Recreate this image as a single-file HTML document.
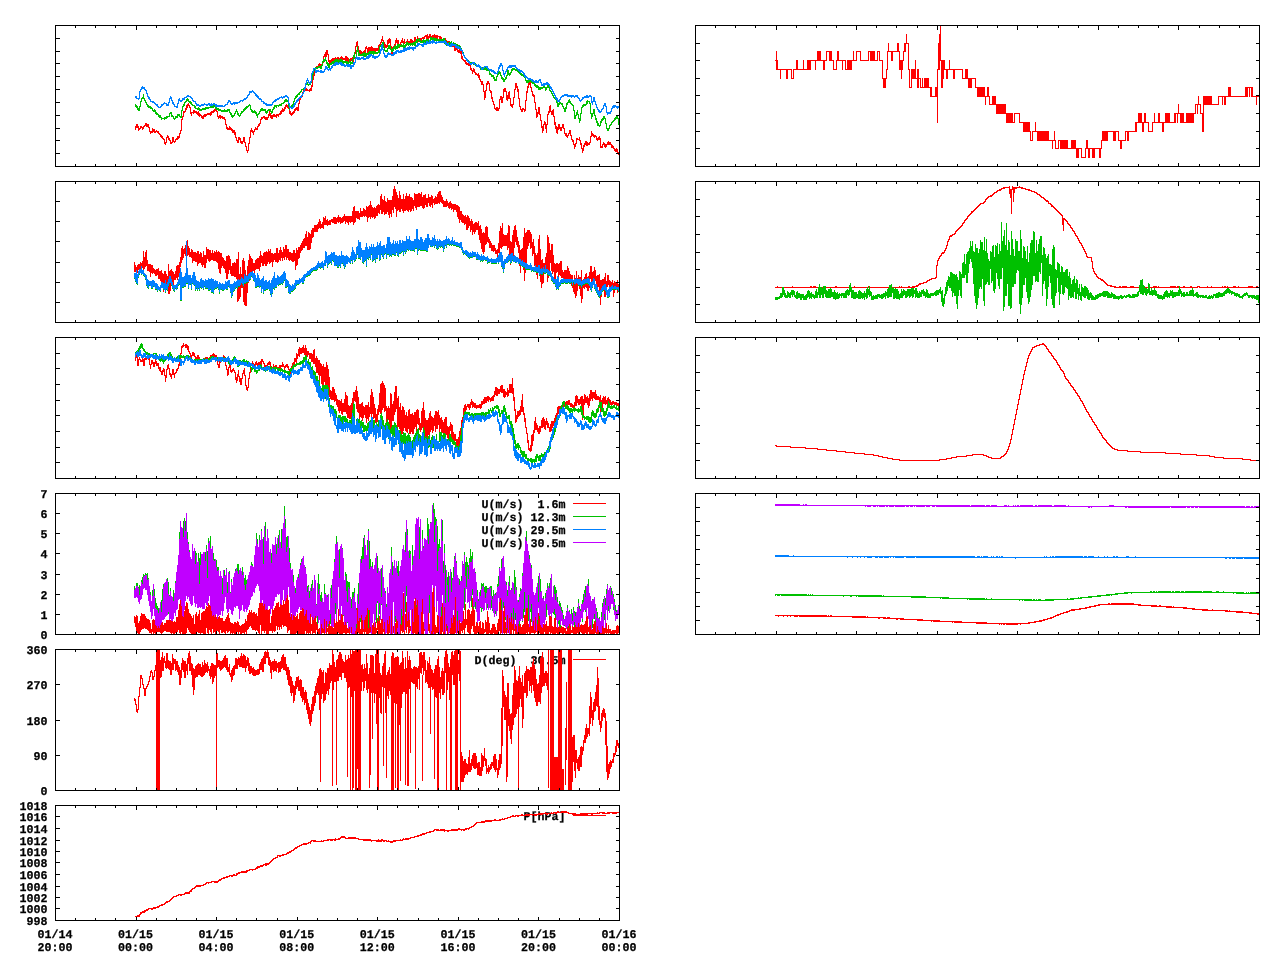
<!DOCTYPE html>
<html lang="en"><head><meta charset="utf-8"><title>Meteorological time series</title>
<style>html,body{margin:0;padding:0;background:#fff;}body{width:1280px;height:960px;overflow:hidden;}svg{display:block;}text{font-family:"Liberation Mono","DejaVu Sans Mono",monospace;font-weight:bold;font-size:11.8px;fill:#000;stroke:#000;stroke-width:0.25px;text-rendering:geometricPrecision;white-space:pre;}</style></head><body>
<svg width="1280" height="960" viewBox="0 0 1280 960" role="img" aria-label="Meteorological time series, ten stacked panels">
<rect width="1280" height="960" fill="#fff"/>
<text x="565.5" y="507.9" text-anchor="end" textLength="84.0" lengthAdjust="spacingAndGlyphs" xml:space="preserve">U(m/s)  1.6m</text>
<path d="M573 503.5H606" stroke="#ff0000" stroke-width="1" fill="none" shape-rendering="crispEdges"/>
<text x="565.5" y="520.9" text-anchor="end" textLength="84.0" lengthAdjust="spacingAndGlyphs" xml:space="preserve">U(m/s) 12.3m</text>
<path d="M573 516.5H606" stroke="#00c000" stroke-width="1" fill="none" shape-rendering="crispEdges"/>
<text x="565.5" y="533.9" text-anchor="end" textLength="84.0" lengthAdjust="spacingAndGlyphs" xml:space="preserve">U(m/s) 29.5m</text>
<path d="M573 529.5H606" stroke="#0080ff" stroke-width="1" fill="none" shape-rendering="crispEdges"/>
<text x="565.5" y="546.9" text-anchor="end" textLength="84.0" lengthAdjust="spacingAndGlyphs" xml:space="preserve">U(m/s) 30.5m</text>
<path d="M573 542.5H606" stroke="#c000ff" stroke-width="1" fill="none" shape-rendering="crispEdges"/>
<text x="565.5" y="663.9" text-anchor="end" textLength="91.0" lengthAdjust="spacingAndGlyphs" xml:space="preserve">D(deg)  30.5m</text>
<path d="M573 659.5H606" stroke="#ff0000" stroke-width="1" fill="none" shape-rendering="crispEdges"/>
<text x="565.5" y="819.9" text-anchor="end" textLength="42.0" lengthAdjust="spacingAndGlyphs" xml:space="preserve">P[hPa]</text>
<path d="M573 815.5H606" stroke="#ff0000" stroke-width="1" fill="none" shape-rendering="crispEdges"/>
<g id="p1">
<path d="M135.5 126V130M136.5 124V128M137.5 124V128M138.5 126V131M139.5 128V130M140.5 126V129M141.5 126V128M142.5 127V130M143.5 126V129M144.5 125V127M145.5 123V126M146.5 123V127M147.5 124V127M148.5 124V128M149.5 127V132M150.5 131V134M151.5 131V133M152.5 128V133M153.5 129V132M154.5 129V133M155.5 131V133M156.5 130V132M157.5 131V133M158.5 131V134M159.5 133V135M160.5 134V137M161.5 135V138M162.5 136V139M163.5 138V140M164.5 139V144M165.5 142V145M166.5 137V143M167.5 135V138M168.5 136V140M169.5 138V141M170.5 140V144M171.5 142V144M172.5 137V143M173.5 137V142M174.5 141V143M175.5 139V142M176.5 138V140M177.5 136V140M178.5 136V139M179.5 133V138M180.5 130V134M181.5 119V131M182.5 116V120M183.5 111V117M184.5 111V113M185.5 108V112M186.5 105V110M187.5 104V108M188.5 103V106M189.5 105V108M190.5 107V114M191.5 112V116M192.5 112V113M193.5 110V114M194.5 110V113M195.5 111V113M196.5 111V114M197.5 112V115M198.5 111V116M199.5 113V117M200.5 114V116M201.5 115V118M202.5 116V119M203.5 115V119M204.5 114V117M205.5 114V117M206.5 114V116M207.5 113V115M208.5 113V115M209.5 113V115M210.5 112V116M211.5 111V115M212.5 111V113M213.5 110V113M214.5 109V112M215.5 109V111M216.5 109V112M217.5 111V117M218.5 116V119M219.5 115V118M220.5 115V119M221.5 116V118M222.5 116V119M223.5 117V119M224.5 117V120M225.5 119V125M226.5 124V129M227.5 127V130M228.5 128V130M229.5 126V130M230.5 127V130M231.5 128V131M232.5 129V133M233.5 130V133M234.5 130V135M235.5 132V138M236.5 137V141M237.5 140V143M238.5 137V143M239.5 137V140M240.5 138V143M241.5 141V144M242.5 141V144M243.5 137V142M244.5 137V143M245.5 142V147M246.5 146V151M247.5 150V153M248.5 143V151M249.5 137V144M250.5 130V138M251.5 128V132M252.5 130V133M253.5 131V135M254.5 129V132M255.5 127V130M256.5 128V130M257.5 126V130M258.5 124V127M259.5 123V126M260.5 119V124M261.5 117V120M262.5 117V119M263.5 116V118M264.5 116V119M265.5 117V120M266.5 117V120M267.5 117V120M268.5 114V118M269.5 111V116M270.5 113V118M271.5 115V119M272.5 115V119M273.5 114V117M274.5 114V117M275.5 115V117M276.5 114V118M277.5 114V116M278.5 114V117M279.5 113V115M280.5 111V115M281.5 110V114M282.5 108V112M283.5 109V112M284.5 107V111M285.5 105V109M286.5 104V107M287.5 105V108M288.5 106V109M289.5 108V114M290.5 111V115M291.5 113V116M292.5 112V115M293.5 111V114M294.5 109V113M295.5 108V111M296.5 107V110M297.5 107V111M298.5 103V111M299.5 98V104M300.5 96V100M301.5 95V98M302.5 92V97M303.5 90V93M304.5 89V91M305.5 87V91M306.5 88V91M307.5 89V91M308.5 90V91M309.5 89V92M310.5 88V91M311.5 85V91M312.5 79V87M313.5 75V80M314.5 70V76M315.5 68V71M316.5 66V69M317.5 66V68M318.5 64V68M319.5 63V66M320.5 64V67M321.5 64V66M322.5 62V65M323.5 56V63M324.5 54V57M325.5 52V57M326.5 50V57M327.5 50V55M328.5 54V62M329.5 60V64M330.5 60V64M331.5 59V65M332.5 58V63M333.5 58V63M334.5 58V62M335.5 57V62M336.5 58V62M337.5 57V62M338.5 57V63M339.5 58V61M340.5 57V61M341.5 56V60M342.5 57V60M343.5 58V60M344.5 58V60M345.5 56V62M346.5 56V63M347.5 57V61M348.5 58V63M349.5 59V63M350.5 58V61M351.5 58V61M352.5 57V62M353.5 57V62M354.5 53V59M355.5 46V54M356.5 42V47M357.5 41V47M358.5 46V54M359.5 50V54M360.5 50V55M361.5 51V56M362.5 52V56M363.5 51V55M364.5 50V54M365.5 47V53M366.5 46V49M367.5 48V54M368.5 47V53M369.5 47V51M370.5 47V52M371.5 46V52M372.5 47V51M373.5 48V51M374.5 48V52M375.5 48V52M376.5 48V51M377.5 48V51M378.5 45V51M379.5 44V50M380.5 42V47M381.5 39V43M382.5 36V41M383.5 40V48M384.5 42V48M385.5 44V48M386.5 45V48M387.5 40V47M388.5 39V44M389.5 38V43M390.5 39V47M391.5 46V54M392.5 47V54M393.5 46V50M394.5 44V49M395.5 40V45M396.5 38V43M397.5 40V44M398.5 40V48M399.5 44V48M400.5 42V45M401.5 40V43M402.5 38V43M403.5 41V46M404.5 39V44M405.5 42V43M406.5 41V45M407.5 39V44M408.5 41V43M409.5 41V44M410.5 39V45M411.5 39V43M412.5 40V44M413.5 41V43M414.5 37V44M415.5 37V44M416.5 39V42M417.5 36V41M418.5 38V42M419.5 38V41M420.5 38V41M421.5 38V41M422.5 37V39M423.5 37V41M424.5 36V39M425.5 35V37M426.5 35V39M427.5 34V41M428.5 36V41M429.5 34V38M430.5 34V38M431.5 36V38M432.5 35V40M433.5 35V40M434.5 34V38M435.5 35V38M436.5 35V39M437.5 35V40M438.5 36V37M439.5 36V39M440.5 36V39M441.5 37V40M442.5 39V43M443.5 40V42M444.5 38V42M445.5 38V43M446.5 40V45M447.5 41V45M448.5 41V46M449.5 41V47M450.5 44V47M451.5 45V47M452.5 44V47M453.5 45V47M454.5 45V51M455.5 46V51M456.5 46V50M457.5 48V52M458.5 50V53M459.5 49V53M460.5 49V54M461.5 49V59M462.5 56V60M463.5 59V61M464.5 60V62M465.5 60V64M466.5 62V65M467.5 63V65M468.5 63V66M469.5 64V66M470.5 65V70M471.5 68V71M472.5 70V74M473.5 68V72M474.5 69V73M475.5 72V75M476.5 73V75M477.5 74V76M478.5 73V78M479.5 75V80M480.5 79V82M481.5 81V85M482.5 81V85M483.5 84V92M484.5 91V100M485.5 90V98M486.5 83V91M487.5 81V85M488.5 81V84M489.5 83V91M490.5 90V93M491.5 91V99M492.5 97V102M493.5 101V105M494.5 104V109M495.5 108V110M496.5 107V111M497.5 107V111M498.5 108V111M499.5 99V109M500.5 96V100M501.5 96V103M502.5 97V103M503.5 89V98M504.5 88V92M505.5 88V92M506.5 91V100M507.5 95V101M508.5 92V99M509.5 91V99M510.5 98V106M511.5 104V107M512.5 104V108M513.5 97V105M514.5 89V98M515.5 83V90M516.5 83V88M517.5 86V92M518.5 89V99M519.5 98V107M520.5 106V110M521.5 109V112M522.5 108V112M523.5 108V110M524.5 109V112M525.5 100V111M526.5 91V101M527.5 86V93M528.5 83V88M529.5 82V85M530.5 81V88M531.5 87V92M532.5 91V96M533.5 94V97M534.5 95V103M535.5 102V110M536.5 109V118M537.5 112V117M538.5 107V114M539.5 107V115M540.5 114V121M541.5 120V128M542.5 126V133M543.5 124V131M544.5 121V125M545.5 122V129M546.5 124V133M547.5 114V125M548.5 111V115M549.5 106V113M550.5 105V112M551.5 111V115M552.5 110V115M553.5 109V117M554.5 116V125M555.5 122V129M556.5 126V133M557.5 127V134M558.5 124V130M559.5 124V129M560.5 127V131M561.5 127V131M562.5 124V128M563.5 124V129M564.5 128V134M565.5 133V136M566.5 133V137M567.5 135V138M568.5 133V136M569.5 130V134M570.5 130V136M571.5 135V140M572.5 139V142M573.5 140V145M574.5 144V149M575.5 143V147M576.5 138V144M577.5 138V140M578.5 139V140M579.5 137V141M580.5 140V145M581.5 143V149M582.5 148V153M583.5 145V151M584.5 143V147M585.5 141V145M586.5 141V146M587.5 142V146M588.5 143V145M589.5 142V145M590.5 136V143M591.5 131V137M592.5 133V136M593.5 134V137M594.5 135V138M595.5 135V137M596.5 136V140M597.5 138V141M598.5 137V140M599.5 136V140M600.5 138V148M601.5 146V148M602.5 144V148M603.5 142V145M604.5 143V147M605.5 144V148M606.5 144V147M607.5 142V145M608.5 141V145M609.5 142V145M610.5 142V145M611.5 144V148M612.5 145V148M613.5 146V149M614.5 148V151M615.5 149V152M616.5 148V152M617.5 149V154M618.5 152V155" fill="none" stroke="#ff0000" stroke-width="1" shape-rendering="crispEdges"/>
<path d="M135.5 104V107M136.5 105V108M137.5 106V110M138.5 108V111M139.5 106V111M140.5 101V107M141.5 98V102M142.5 97V99M143.5 94V99M144.5 98V101M145.5 100V103M146.5 102V105M147.5 104V107M148.5 105V108M149.5 106V108M150.5 106V109M151.5 107V109M152.5 108V111M153.5 110V112M154.5 109V112M155.5 110V114M156.5 112V115M157.5 113V115M158.5 114V117M159.5 115V118M160.5 115V118M161.5 117V120M162.5 118V119M163.5 118V119M164.5 117V120M165.5 117V119M166.5 116V119M167.5 116V118M168.5 116V117M169.5 113V117M170.5 112V114M171.5 112V117M172.5 115V117M173.5 116V119M174.5 118V120M175.5 116V119M176.5 116V118M177.5 114V118M178.5 114V116M179.5 114V117M180.5 116V118M181.5 110V118M182.5 106V111M183.5 104V107M184.5 102V106M185.5 101V103M186.5 99V102M187.5 98V101M188.5 99V102M189.5 101V103M190.5 101V104M191.5 102V105M192.5 104V106M193.5 105V106M194.5 105V108M195.5 106V109M196.5 108V109M197.5 108V110M198.5 107V110M199.5 108V111M200.5 109V111M201.5 109V111M202.5 108V110M203.5 108V110M204.5 108V110M205.5 107V110M206.5 107V109M207.5 107V109M208.5 107V109M209.5 107V108M210.5 106V108M211.5 106V108M212.5 106V108M213.5 105V108M214.5 105V107M215.5 105V109M216.5 106V110M217.5 108V110M218.5 108V111M219.5 109V111M220.5 109V111M221.5 110V112M222.5 110V112M223.5 110V112M224.5 109V112M225.5 110V112M226.5 110V112M227.5 109V112M228.5 109V111M229.5 109V113M230.5 112V115M231.5 113V117M232.5 115V118M233.5 115V117M234.5 113V116M235.5 111V114M236.5 109V112M237.5 111V115M238.5 113V116M239.5 115V117M240.5 113V116M241.5 111V114M242.5 111V113M243.5 109V112M244.5 108V111M245.5 107V110M246.5 106V109M247.5 106V108M248.5 105V107M249.5 104V106M250.5 105V110M251.5 109V112M252.5 110V113M253.5 111V113M254.5 110V113M255.5 111V114M256.5 112V116M257.5 114V118M258.5 113V115M259.5 111V114M260.5 109V112M261.5 108V111M262.5 108V111M263.5 109V111M264.5 109V111M265.5 109V113M266.5 111V114M267.5 110V113M268.5 109V111M269.5 109V111M270.5 109V112M271.5 111V114M272.5 109V113M273.5 107V110M274.5 105V109M275.5 105V107M276.5 105V108M277.5 105V106M278.5 105V107M279.5 104V106M280.5 104V106M281.5 103V106M282.5 103V104M283.5 102V104M284.5 100V103M285.5 99V102M286.5 99V102M287.5 100V102M288.5 101V107M289.5 106V110M290.5 106V108M291.5 105V107M292.5 104V107M293.5 101V105M294.5 98V102M295.5 96V99M296.5 95V98M297.5 94V97M298.5 93V95M299.5 92V95M300.5 91V93M301.5 89V92M302.5 89V90M303.5 88V90M304.5 87V89M305.5 84V88M306.5 82V85M307.5 82V85M308.5 84V86M309.5 83V85M310.5 82V85M311.5 79V83M312.5 74V80M313.5 70V75M314.5 69V71M315.5 67V70M316.5 67V69M317.5 67V69M318.5 66V68M319.5 66V68M320.5 66V69M321.5 65V69M322.5 61V66M323.5 59V62M324.5 59V62M325.5 57V61M326.5 60V64M327.5 62V66M328.5 63V68M329.5 64V68M330.5 63V65M331.5 62V65M332.5 61V64M333.5 61V64M334.5 60V65M335.5 59V62M336.5 59V63M337.5 59V63M338.5 60V64M339.5 59V62M340.5 59V62M341.5 59V63M342.5 60V64M343.5 61V64M344.5 61V63M345.5 61V63M346.5 61V64M347.5 61V64M348.5 62V64M349.5 59V63M350.5 61V65M351.5 62V64M352.5 59V64M353.5 55V60M354.5 52V58M355.5 57V62M356.5 50V59M357.5 46V52M358.5 50V56M359.5 53V56M360.5 54V56M361.5 54V56M362.5 53V56M363.5 53V56M364.5 52V57M365.5 53V57M366.5 53V56M367.5 53V55M368.5 52V55M369.5 51V55M370.5 51V55M371.5 51V55M372.5 51V54M373.5 51V55M374.5 51V54M375.5 52V54M376.5 52V54M377.5 52V54M378.5 50V53M379.5 46V53M380.5 45V47M381.5 44V46M382.5 42V46M383.5 42V48M384.5 47V51M385.5 50V52M386.5 50V52M387.5 48V52M388.5 45V49M389.5 45V49M390.5 46V50M391.5 49V52M392.5 48V52M393.5 47V51M394.5 46V49M395.5 45V50M396.5 46V49M397.5 44V49M398.5 44V48M399.5 44V47M400.5 45V47M401.5 44V47M402.5 45V47M403.5 43V48M404.5 45V48M405.5 44V47M406.5 42V46M407.5 42V45M408.5 43V46M409.5 43V45M410.5 43V46M411.5 43V45M412.5 43V46M413.5 42V45M414.5 42V46M415.5 41V46M416.5 39V43M417.5 39V43M418.5 39V41M419.5 38V42M420.5 40V43M421.5 41V43M422.5 40V43M423.5 39V43M424.5 40V43M425.5 40V43M426.5 39V43M427.5 39V41M428.5 39V42M429.5 40V41M430.5 37V41M431.5 37V40M432.5 38V40M433.5 37V41M434.5 38V42M435.5 38V41M436.5 38V41M437.5 39V41M438.5 39V41M439.5 39V42M440.5 39V42M441.5 39V43M442.5 39V42M443.5 38V43M444.5 38V44M445.5 40V44M446.5 41V46M447.5 43V46M448.5 42V44M449.5 42V46M450.5 42V46M451.5 41V45M452.5 43V44M453.5 42V44M454.5 43V45M455.5 43V47M456.5 44V47M457.5 44V48M458.5 45V48M459.5 45V48M460.5 46V49M461.5 48V51M462.5 50V53M463.5 52V56M464.5 55V58M465.5 57V59M466.5 58V61M467.5 59V61M468.5 60V62M469.5 61V64M470.5 62V65M471.5 62V65M472.5 62V64M473.5 63V65M474.5 62V64M475.5 63V66M476.5 64V67M477.5 65V67M478.5 65V67M479.5 65V68M480.5 66V70M481.5 67V70M482.5 67V70M483.5 68V70M484.5 67V70M485.5 67V70M486.5 67V71M487.5 69V71M488.5 70V71M489.5 70V75M490.5 73V75M491.5 74V77M492.5 75V77M493.5 75V79M494.5 77V81M495.5 79V81M496.5 76V81M497.5 73V77M498.5 72V75M499.5 71V74M500.5 72V76M501.5 75V79M502.5 77V80M503.5 78V82M504.5 79V82M505.5 77V80M506.5 75V79M507.5 70V76M508.5 70V75M509.5 73V76M510.5 72V75M511.5 69V73M512.5 68V71M513.5 68V70M514.5 68V70M515.5 69V71M516.5 69V71M517.5 69V72M518.5 70V73M519.5 71V74M520.5 73V75M521.5 73V76M522.5 74V76M523.5 75V77M524.5 75V78M525.5 77V81M526.5 80V83M527.5 80V83M528.5 80V83M529.5 80V82M530.5 80V82M531.5 79V83M532.5 81V84M533.5 82V84M534.5 83V86M535.5 84V87M536.5 85V88M537.5 85V88M538.5 86V90M539.5 87V90M540.5 87V90M541.5 87V89M542.5 87V89M543.5 86V88M544.5 86V88M545.5 87V91M546.5 87V90M547.5 84V88M548.5 85V88M549.5 86V91M550.5 90V92M551.5 91V94M552.5 93V96M553.5 95V98M554.5 97V99M555.5 97V100M556.5 99V103M557.5 102V107M558.5 103V107M559.5 102V105M560.5 102V104M561.5 103V105M562.5 103V107M563.5 106V109M564.5 108V112M565.5 107V112M566.5 103V109M567.5 102V105M568.5 100V103M569.5 99V103M570.5 101V104M571.5 103V105M572.5 104V106M573.5 105V111M574.5 110V119M575.5 115V119M576.5 112V116M577.5 110V115M578.5 114V119M579.5 118V123M580.5 113V121M581.5 107V114M582.5 105V108M583.5 104V107M584.5 104V106M585.5 104V106M586.5 101V105M587.5 100V104M588.5 101V102M589.5 101V104M590.5 103V114M591.5 113V119M592.5 113V117M593.5 109V114M594.5 109V116M595.5 115V120M596.5 118V123M597.5 121V126M598.5 123V126M599.5 125V127M600.5 121V126M601.5 119V123M602.5 118V121M603.5 116V120M604.5 116V119M605.5 118V124M606.5 123V129M607.5 128V131M608.5 128V131M609.5 125V129M610.5 124V126M611.5 122V125M612.5 121V123M613.5 120V122M614.5 118V121M615.5 117V120M616.5 116V119M617.5 116V119M618.5 118V125" fill="none" stroke="#00c000" stroke-width="1" shape-rendering="crispEdges"/>
<path d="M135.5 96V98M136.5 96V99M137.5 98V99M138.5 98V100M139.5 91V99M140.5 89V92M141.5 87V90M142.5 86V89M143.5 87V89M144.5 87V90M145.5 89V91M146.5 90V94M147.5 93V97M148.5 96V99M149.5 97V100M150.5 99V102M151.5 101V102M152.5 101V103M153.5 101V103M154.5 102V104M155.5 103V105M156.5 104V106M157.5 104V107M158.5 106V108M159.5 107V108M160.5 106V108M161.5 104V107M162.5 104V106M163.5 103V105M164.5 102V104M165.5 103V104M166.5 103V106M167.5 104V106M168.5 102V106M169.5 98V103M170.5 96V99M171.5 97V101M172.5 100V104M173.5 102V105M174.5 104V107M175.5 106V107M176.5 106V108M177.5 103V108M178.5 99V104M179.5 98V101M180.5 100V102M181.5 100V102M182.5 98V101M183.5 98V100M184.5 97V100M185.5 97V98M186.5 96V98M187.5 95V97M188.5 95V97M189.5 96V97M190.5 96V98M191.5 97V99M192.5 98V101M193.5 100V102M194.5 101V102M195.5 101V104M196.5 103V106M197.5 104V106M198.5 104V106M199.5 105V107M200.5 105V107M201.5 104V106M202.5 104V106M203.5 104V106M204.5 103V105M205.5 104V105M206.5 104V106M207.5 104V106M208.5 103V105M209.5 103V106M210.5 104V106M211.5 103V106M212.5 104V106M213.5 103V105M214.5 103V105M215.5 104V107M216.5 104V107M217.5 105V107M218.5 105V107M219.5 105V107M220.5 105V107M221.5 105V107M222.5 105V107M223.5 106V107M224.5 105V107M225.5 104V106M226.5 104V105M227.5 102V105M228.5 100V103M229.5 100V102M230.5 101V104M231.5 103V105M232.5 103V105M233.5 102V104M234.5 102V105M235.5 102V104M236.5 102V104M237.5 102V104M238.5 102V103M239.5 101V103M240.5 100V102M241.5 100V101M242.5 100V102M243.5 99V101M244.5 98V100M245.5 98V100M246.5 97V99M247.5 95V98M248.5 94V96M249.5 91V95M250.5 91V93M251.5 91V93M252.5 90V92M253.5 91V93M254.5 92V94M255.5 93V96M256.5 94V97M257.5 95V98M258.5 96V99M259.5 98V100M260.5 98V100M261.5 99V102M262.5 101V102M263.5 101V104M264.5 102V104M265.5 103V105M266.5 103V106M267.5 104V106M268.5 104V106M269.5 104V106M270.5 104V106M271.5 104V106M272.5 102V105M273.5 101V103M274.5 100V102M275.5 99V102M276.5 99V101M277.5 98V100M278.5 98V100M279.5 97V99M280.5 97V98M281.5 96V98M282.5 97V99M283.5 96V98M284.5 96V98M285.5 95V97M286.5 95V97M287.5 96V98M288.5 97V104M289.5 103V108M290.5 106V108M291.5 107V109M292.5 107V109M293.5 105V108M294.5 103V107M295.5 102V105M296.5 100V103M297.5 99V102M298.5 98V101M299.5 97V99M300.5 96V98M301.5 95V98M302.5 93V96M303.5 91V94M304.5 87V92M305.5 83V89M306.5 80V84M307.5 78V81M308.5 80V83M309.5 82V84M310.5 81V84M311.5 73V82M312.5 71V74M313.5 68V72M314.5 68V69M315.5 68V73M316.5 70V73M317.5 70V72M318.5 70V72M319.5 71V72M320.5 70V73M321.5 70V73M322.5 71V73M323.5 71V73M324.5 69V72M325.5 66V70M326.5 66V69M327.5 67V70M328.5 69V71M329.5 68V70M330.5 68V71M331.5 66V69M332.5 65V68M333.5 64V66M334.5 63V66M335.5 62V66M336.5 62V65M337.5 62V65M338.5 63V65M339.5 62V64M340.5 62V65M341.5 62V66M342.5 63V66M343.5 64V66M344.5 64V67M345.5 65V67M346.5 64V66M347.5 64V67M348.5 64V67M349.5 64V67M350.5 65V69M351.5 65V69M352.5 65V67M353.5 62V67M354.5 62V65M355.5 58V63M356.5 56V59M357.5 57V60M358.5 57V60M359.5 57V60M360.5 58V60M361.5 57V59M362.5 57V59M363.5 56V60M364.5 58V60M365.5 58V60M366.5 56V59M367.5 56V59M368.5 55V59M369.5 54V58M370.5 54V57M371.5 54V56M372.5 55V58M373.5 55V58M374.5 56V59M375.5 56V59M376.5 56V58M377.5 56V58M378.5 55V57M379.5 53V56M380.5 49V54M381.5 45V51M382.5 44V50M383.5 49V54M384.5 53V57M385.5 55V58M386.5 55V58M387.5 53V57M388.5 52V55M389.5 53V55M390.5 53V55M391.5 54V56M392.5 54V56M393.5 52V56M394.5 52V55M395.5 51V54M396.5 50V54M397.5 50V52M398.5 50V53M399.5 51V53M400.5 50V53M401.5 50V53M402.5 50V52M403.5 48V52M404.5 48V52M405.5 47V51M406.5 48V51M407.5 47V50M408.5 47V50M409.5 46V50M410.5 47V49M411.5 47V49M412.5 47V50M413.5 47V51M414.5 47V49M415.5 46V49M416.5 45V47M417.5 43V47M418.5 43V46M419.5 43V45M420.5 44V45M421.5 44V46M422.5 44V47M423.5 43V47M424.5 42V45M425.5 43V45M426.5 41V45M427.5 41V44M428.5 42V44M429.5 40V44M430.5 41V44M431.5 41V43M432.5 40V44M433.5 40V43M434.5 41V43M435.5 42V44M436.5 41V44M437.5 42V43M438.5 41V43M439.5 41V43M440.5 41V43M441.5 41V43M442.5 41V43M443.5 41V43M444.5 40V43M445.5 41V45M446.5 42V45M447.5 43V46M448.5 43V46M449.5 45V47M450.5 44V47M451.5 43V47M452.5 43V46M453.5 44V46M454.5 44V46M455.5 44V48M456.5 45V48M457.5 46V49M458.5 46V49M459.5 47V49M460.5 47V51M461.5 49V51M462.5 50V54M463.5 53V56M464.5 55V58M465.5 57V59M466.5 58V61M467.5 59V62M468.5 61V63M469.5 61V64M470.5 63V65M471.5 63V65M472.5 62V64M473.5 62V64M474.5 62V65M475.5 64V65M476.5 64V67M477.5 65V67M478.5 64V67M479.5 65V68M480.5 66V68M481.5 67V70M482.5 68V70M483.5 67V69M484.5 66V68M485.5 66V67M486.5 66V68M487.5 66V69M488.5 68V70M489.5 69V71M490.5 69V71M491.5 69V72M492.5 70V72M493.5 70V73M494.5 71V74M495.5 72V74M496.5 73V74M497.5 71V74M498.5 67V72M499.5 65V69M500.5 63V67M501.5 63V66M502.5 65V71M503.5 70V75M504.5 73V77M505.5 71V74M506.5 69V72M507.5 67V70M508.5 66V68M509.5 65V68M510.5 65V68M511.5 65V68M512.5 65V67M513.5 65V67M514.5 65V67M515.5 65V68M516.5 67V69M517.5 68V70M518.5 69V71M519.5 69V72M520.5 70V73M521.5 70V72M522.5 71V73M523.5 72V75M524.5 73V77M525.5 75V78M526.5 76V78M527.5 77V79M528.5 78V80M529.5 78V80M530.5 78V80M531.5 79V81M532.5 79V82M533.5 80V82M534.5 81V83M535.5 80V83M536.5 80V83M537.5 81V83M538.5 80V83M539.5 79V81M540.5 79V83M541.5 82V86M542.5 84V86M543.5 83V86M544.5 83V86M545.5 83V85M546.5 82V85M547.5 82V85M548.5 83V85M549.5 84V87M550.5 86V89M551.5 87V90M552.5 89V92M553.5 91V94M554.5 93V96M555.5 95V99M556.5 97V100M557.5 98V102M558.5 100V102M559.5 99V102M560.5 97V100M561.5 96V98M562.5 95V97M563.5 95V97M564.5 94V96M565.5 94V96M566.5 94V96M567.5 94V97M568.5 95V97M569.5 95V97M570.5 95V97M571.5 95V98M572.5 95V97M573.5 95V97M574.5 96V98M575.5 95V97M576.5 95V97M577.5 95V98M578.5 97V99M579.5 98V101M580.5 100V102M581.5 99V101M582.5 97V100M583.5 97V99M584.5 96V98M585.5 96V98M586.5 95V98M587.5 95V98M588.5 96V98M589.5 95V97M590.5 95V97M591.5 96V103M592.5 101V105M593.5 97V102M594.5 97V102M595.5 101V105M596.5 104V108M597.5 107V110M598.5 109V112M599.5 110V113M600.5 111V113M601.5 109V112M602.5 108V110M603.5 105V109M604.5 103V106M605.5 103V107M606.5 106V113M607.5 112V115M608.5 112V114M609.5 112V114M610.5 111V114M611.5 108V112M612.5 106V109M613.5 105V108M614.5 105V108M615.5 105V107M616.5 106V108M617.5 106V109M618.5 106V108" fill="none" stroke="#0080ff" stroke-width="1" shape-rendering="crispEdges"/>
</g>
<g id="p2">
<path d="M134.5 262V272M135.5 265V272M136.5 267V272M137.5 265V273M138.5 264V270M139.5 264V270M140.5 262V269M141.5 263V269M142.5 261V268M143.5 251V270M144.5 257V269M145.5 252V267M146.5 250V266M147.5 260V271M148.5 264V271M149.5 264V272M150.5 264V277M151.5 265V273M152.5 265V274M153.5 268V273M154.5 269V274M155.5 270V276M156.5 269V276M157.5 269V275M158.5 268V279M159.5 271V279M160.5 271V281M161.5 270V284M162.5 273V288M163.5 274V292M164.5 271V289M165.5 271V285M166.5 274V285M167.5 276V285M168.5 264V294M169.5 271V294M170.5 270V291M171.5 269V285M172.5 271V285M173.5 272V285M174.5 274V280M175.5 271V280M176.5 266V278M177.5 265V280M178.5 265V277M179.5 262V275M180.5 257V267M181.5 248V263M182.5 246V260M183.5 249V258M184.5 248V254M185.5 245V256M186.5 241V257M187.5 240V256M188.5 246V255M189.5 248V257M190.5 252V257M191.5 249V258M192.5 250V263M193.5 252V261M194.5 252V261M195.5 252V262M196.5 253V262M197.5 251V266M198.5 251V264M199.5 254V263M200.5 252V263M201.5 253V265M202.5 257V267M203.5 251V265M204.5 255V268M205.5 255V268M206.5 247V263M207.5 249V259M208.5 249V261M209.5 250V262M210.5 250V261M211.5 253V260M212.5 250V260M213.5 253V261M214.5 251V261M215.5 252V261M216.5 250V262M217.5 252V263M218.5 251V269M219.5 252V273M220.5 253V274M221.5 253V268M222.5 257V266M223.5 258V268M224.5 260V269M225.5 261V273M226.5 256V279M227.5 256V279M228.5 255V274M229.5 256V270M230.5 259V274M231.5 266V276M232.5 263V276M233.5 263V276M234.5 262V277M235.5 263V277M236.5 259V279M237.5 259V302M238.5 252V301M239.5 274V299M240.5 267V297M241.5 274V288M242.5 260V288M243.5 258V302M244.5 261V305M245.5 270V306M246.5 279V306M247.5 266V293M248.5 260V283M249.5 254V281M250.5 256V279M251.5 258V273M252.5 259V271M253.5 263V271M254.5 263V273M255.5 260V270M256.5 259V269M257.5 258V269M258.5 258V269M259.5 256V271M260.5 251V267M261.5 255V263M262.5 256V266M263.5 253V266M264.5 252V264M265.5 252V266M266.5 251V266M267.5 252V264M268.5 249V262M269.5 251V264M270.5 249V263M271.5 253V262M272.5 253V267M273.5 254V262M274.5 253V260M275.5 253V262M276.5 248V262M277.5 248V263M278.5 253V262M279.5 250V260M280.5 247V261M281.5 250V258M282.5 252V261M283.5 247V258M284.5 249V260M285.5 245V257M286.5 245V260M287.5 249V258M288.5 249V260M289.5 252V261M290.5 252V260M291.5 253V261M292.5 253V262M293.5 250V262M294.5 250V261M295.5 253V270M296.5 248V266M297.5 250V265M298.5 247V259M299.5 247V258M300.5 245V253M301.5 243V251M302.5 241V250M303.5 239V248M304.5 238V248M305.5 234V246M306.5 231V246M307.5 237V250M308.5 232V250M309.5 233V250M310.5 234V249M311.5 230V243M312.5 228V238M313.5 228V237M314.5 225V232M315.5 225V232M316.5 225V232M317.5 224V232M318.5 222V229M319.5 219V228M320.5 221V229M321.5 224V228M322.5 222V228M323.5 217V229M324.5 218V225M325.5 216V225M326.5 220V225M327.5 219V226M328.5 221V225M329.5 220V225M330.5 220V225M331.5 219V222M332.5 219V223M333.5 217V223M334.5 217V224M335.5 217V224M336.5 218V224M337.5 217V222M338.5 215V223M339.5 217V222M340.5 217V224M341.5 218V223M342.5 217V223M343.5 216V222M344.5 214V221M345.5 216V224M346.5 216V222M347.5 216V223M348.5 216V225M349.5 216V222M350.5 216V223M351.5 216V222M352.5 211V222M353.5 207V225M354.5 206V223M355.5 211V222M356.5 211V218M357.5 211V219M358.5 211V219M359.5 213V220M360.5 208V217M361.5 211V217M362.5 211V217M363.5 208V216M364.5 209V217M365.5 210V216M366.5 206V217M367.5 207V222M368.5 206V218M369.5 205V217M370.5 201V219M371.5 205V217M372.5 207V218M373.5 208V217M374.5 207V219M375.5 208V218M376.5 206V216M377.5 205V216M378.5 204V213M379.5 205V214M380.5 196V210M381.5 194V214M382.5 199V214M383.5 200V212M384.5 196V215M385.5 201V214M386.5 202V214M387.5 198V212M388.5 200V215M389.5 200V218M390.5 200V214M391.5 200V217M392.5 196V210M393.5 189V213M394.5 186V207M395.5 189V209M396.5 192V217M397.5 195V211M398.5 198V210M399.5 191V212M400.5 195V212M401.5 199V209M402.5 199V211M403.5 194V213M404.5 199V211M405.5 196V211M406.5 193V210M407.5 196V211M408.5 196V212M409.5 194V210M410.5 197V212M411.5 197V211M412.5 198V209M413.5 200V211M414.5 193V206M415.5 194V208M416.5 194V210M417.5 194V207M418.5 193V207M419.5 193V207M420.5 194V206M421.5 192V206M422.5 197V208M423.5 195V209M424.5 195V208M425.5 194V205M426.5 198V207M427.5 198V207M428.5 194V203M429.5 197V206M430.5 197V207M431.5 195V205M432.5 196V208M433.5 199V203M434.5 198V205M435.5 196V204M436.5 197V204M437.5 194V204M438.5 192V203M439.5 191V204M440.5 191V202M441.5 195V203M442.5 197V204M443.5 200V207M444.5 201V207M445.5 201V207M446.5 199V207M447.5 201V206M448.5 203V208M449.5 202V209M450.5 201V208M451.5 203V210M452.5 204V209M453.5 204V212M454.5 204V210M455.5 204V210M456.5 205V212M457.5 205V217M458.5 206V219M459.5 207V223M460.5 211V220M461.5 211V222M462.5 214V223M463.5 215V223M464.5 216V225M465.5 215V224M466.5 217V230M467.5 215V230M468.5 216V228M469.5 218V226M470.5 221V232M471.5 219V230M472.5 221V235M473.5 224V232M474.5 223V234M475.5 222V232M476.5 222V230M477.5 223V230M478.5 221V235M479.5 226V240M480.5 225V243M481.5 229V249M482.5 233V252M483.5 232V254M484.5 233V252M485.5 227V245M486.5 226V244M487.5 227V242M488.5 237V243M489.5 239V248M490.5 241V248M491.5 243V251M492.5 245V251M493.5 245V252M494.5 245V251M495.5 248V254M496.5 250V254M497.5 249V258M498.5 243V253M499.5 231V258M500.5 226V248M501.5 228V249M502.5 223V247M503.5 234V246M504.5 235V246M505.5 235V246M506.5 235V246M507.5 233V250M508.5 225V248M509.5 226V261M510.5 241V265M511.5 242V263M512.5 235V258M513.5 230V256M514.5 226V248M515.5 225V242M516.5 230V245M517.5 237V247M518.5 241V253M519.5 245V266M520.5 250V273M521.5 249V263M522.5 248V260M523.5 237V270M524.5 228V281M525.5 233V273M526.5 232V270M527.5 230V249M528.5 230V246M529.5 230V243M530.5 232V249M531.5 234V248M532.5 242V256M533.5 239V254M534.5 246V266M535.5 253V270M536.5 255V275M537.5 253V279M538.5 239V266M539.5 235V267M540.5 249V282M541.5 260V288M542.5 259V284M543.5 263V283M544.5 263V272M545.5 257V272M546.5 253V273M547.5 235V282M548.5 237V278M549.5 243V275M550.5 250V263M551.5 244V271M552.5 244V274M553.5 255V272M554.5 263V279M555.5 264V279M556.5 263V273M557.5 263V272M558.5 264V277M559.5 263V275M560.5 261V276M561.5 261V278M562.5 270V278M563.5 272V280M564.5 270V281M565.5 270V280M566.5 270V279M567.5 266V279M568.5 268V283M569.5 271V280M570.5 274V279M571.5 275V286M572.5 275V288M573.5 281V292M574.5 275V294M575.5 278V298M576.5 271V296M577.5 278V291M578.5 275V285M579.5 277V289M580.5 277V296M581.5 270V303M582.5 281V299M583.5 279V288M584.5 277V289M585.5 274V287M586.5 273V288M587.5 277V291M588.5 276V291M589.5 272V288M590.5 266V279M591.5 266V284M592.5 272V285M593.5 271V285M594.5 267V283M595.5 270V281M596.5 276V287M597.5 275V287M598.5 275V287M599.5 274V296M600.5 280V305M601.5 280V297M602.5 279V290M603.5 279V289M604.5 277V297M605.5 273V297M606.5 281V292M607.5 275V287M608.5 275V285M609.5 280V288M610.5 281V287M611.5 282V289M612.5 280V290M613.5 283V297M614.5 281V293M615.5 282V289M616.5 282V290M617.5 280V293M618.5 284V292" fill="none" stroke="#ff0000" stroke-width="1" shape-rendering="crispEdges"/>
<path d="M134.5 274V279M135.5 274V282M136.5 270V284M137.5 274V285M138.5 272V278M139.5 269V275M140.5 270V273M141.5 266V275M142.5 270V274M143.5 270V276M144.5 273V277M145.5 274V280M146.5 275V286M147.5 280V288M148.5 281V289M149.5 282V286M150.5 281V286M151.5 281V289M152.5 281V289M153.5 281V287M154.5 282V287M155.5 284V290M156.5 284V290M157.5 284V292M158.5 287V290M159.5 287V291M160.5 285V292M161.5 282V288M162.5 282V288M163.5 283V290M164.5 283V290M165.5 280V293M166.5 284V290M167.5 282V291M168.5 280V287M169.5 276V284M170.5 276V283M171.5 279V286M172.5 282V289M173.5 285V291M174.5 285V292M175.5 285V289M176.5 285V290M177.5 282V289M178.5 279V286M179.5 273V285M180.5 268V301M181.5 272V301M182.5 278V288M183.5 277V288M184.5 276V287M185.5 274V287M186.5 242V284M187.5 269V284M188.5 276V289M189.5 275V285M190.5 275V285M191.5 278V290M192.5 275V284M193.5 272V285M194.5 272V286M195.5 277V291M196.5 280V289M197.5 281V291M198.5 282V289M199.5 282V291M200.5 280V288M201.5 279V289M202.5 280V288M203.5 280V290M204.5 281V287M205.5 279V289M206.5 281V289M207.5 280V289M208.5 279V291M209.5 279V291M210.5 280V290M211.5 278V293M212.5 279V293M213.5 279V294M214.5 281V290M215.5 281V289M216.5 282V289M217.5 281V288M218.5 284V290M219.5 282V294M220.5 283V290M221.5 285V290M222.5 283V291M223.5 284V291M224.5 284V290M225.5 281V289M226.5 282V290M227.5 282V290M228.5 281V287M229.5 280V288M230.5 284V293M231.5 285V298M232.5 285V296M233.5 283V292M234.5 282V291M235.5 283V289M236.5 281V288M237.5 280V289M238.5 279V287M239.5 280V287M240.5 279V285M241.5 277V283M242.5 278V285M243.5 279V287M244.5 274V284M245.5 276V284M246.5 276V283M247.5 276V283M248.5 275V282M249.5 274V280M250.5 272V280M251.5 272V277M252.5 271V278M253.5 274V281M254.5 273V282M255.5 276V288M256.5 278V288M257.5 273V287M258.5 276V287M259.5 278V288M260.5 280V287M261.5 279V293M262.5 278V289M263.5 276V294M264.5 281V291M265.5 280V291M266.5 281V290M267.5 282V290M268.5 282V289M269.5 281V291M270.5 283V295M271.5 280V297M272.5 278V294M273.5 277V289M274.5 272V290M275.5 279V288M276.5 278V288M277.5 275V285M278.5 277V286M279.5 278V285M280.5 276V285M281.5 275V284M282.5 274V285M283.5 272V283M284.5 271V281M285.5 273V288M286.5 279V288M287.5 281V287M288.5 282V293M289.5 284V294M290.5 285V294M291.5 286V292M292.5 285V292M293.5 285V291M294.5 284V290M295.5 280V289M296.5 280V286M297.5 281V285M298.5 280V285M299.5 279V284M300.5 279V283M301.5 278V282M302.5 277V284M303.5 275V284M304.5 274V281M305.5 275V278M306.5 274V277M307.5 271V277M308.5 271V276M309.5 270V276M310.5 269V275M311.5 268V273M312.5 268V272M313.5 267V271M314.5 267V271M315.5 266V271M316.5 265V271M317.5 263V270M318.5 262V268M319.5 263V268M320.5 264V269M321.5 263V268M322.5 261V268M323.5 263V270M324.5 260V266M325.5 251V266M326.5 252V263M327.5 256V268M328.5 256V265M329.5 255V264M330.5 255V263M331.5 253V265M332.5 253V261M333.5 253V262M334.5 252V266M335.5 255V266M336.5 255V266M337.5 256V268M338.5 256V268M339.5 256V266M340.5 257V268M341.5 251V264M342.5 256V264M343.5 256V266M344.5 256V269M345.5 256V267M346.5 255V264M347.5 256V264M348.5 257V262M349.5 258V263M350.5 256V264M351.5 252V261M352.5 248V264M353.5 250V260M354.5 252V262M355.5 255V261M356.5 247V259M357.5 247V255M358.5 241V259M359.5 242V259M360.5 242V260M361.5 249V257M362.5 250V263M363.5 251V264M364.5 250V262M365.5 247V261M366.5 243V267M367.5 248V259M368.5 249V260M369.5 246V258M370.5 248V260M371.5 245V255M372.5 248V262M373.5 244V261M374.5 247V260M375.5 247V263M376.5 246V259M377.5 243V259M378.5 245V255M379.5 243V261M380.5 241V260M381.5 247V255M382.5 246V257M383.5 245V259M384.5 246V255M385.5 248V254M386.5 245V259M387.5 237V255M388.5 237V255M389.5 238V257M390.5 243V256M391.5 244V257M392.5 243V255M393.5 240V255M394.5 244V256M395.5 241V256M396.5 243V253M397.5 241V256M398.5 244V257M399.5 240V254M400.5 240V254M401.5 243V253M402.5 240V252M403.5 241V256M404.5 241V252M405.5 242V254M406.5 236V252M407.5 239V250M408.5 239V251M409.5 236V250M410.5 240V251M411.5 241V251M412.5 242V251M413.5 241V251M414.5 240V252M415.5 239V249M416.5 230V249M417.5 230V255M418.5 239V251M419.5 240V250M420.5 237V251M421.5 237V251M422.5 240V251M423.5 242V251M424.5 240V251M425.5 239V251M426.5 239V252M427.5 234V252M428.5 234V248M429.5 239V245M430.5 241V247M431.5 240V247M432.5 238V247M433.5 238V246M434.5 235V248M435.5 239V246M436.5 242V249M437.5 239V250M438.5 241V249M439.5 239V247M440.5 240V248M441.5 242V247M442.5 242V248M443.5 241V252M444.5 240V249M445.5 240V246M446.5 236V248M447.5 239V245M448.5 239V245M449.5 239V246M450.5 241V245M451.5 240V246M452.5 237V245M453.5 241V246M454.5 240V246M455.5 242V246M456.5 242V247M457.5 243V247M458.5 243V247M459.5 243V248M460.5 243V248M461.5 243V250M462.5 248V253M463.5 250V255M464.5 251V254M465.5 251V255M466.5 251V256M467.5 252V257M468.5 253V258M469.5 253V259M470.5 252V258M471.5 253V258M472.5 251V258M473.5 253V257M474.5 252V257M475.5 252V257M476.5 254V260M477.5 252V260M478.5 254V260M479.5 255V260M480.5 256V262M481.5 254V261M482.5 257V262M483.5 256V261M484.5 257V260M485.5 257V261M486.5 258V261M487.5 257V264M488.5 258V263M489.5 259V263M490.5 259V262M491.5 258V264M492.5 259V264M493.5 260V264M494.5 260V264M495.5 259V264M496.5 259V264M497.5 257V262M498.5 255V264M499.5 253V262M500.5 253V262M501.5 252V267M502.5 255V269M503.5 261V273M504.5 259V269M505.5 259V264M506.5 257V263M507.5 256V263M508.5 254V262M509.5 256V261M510.5 254V264M511.5 254V263M512.5 253V261M513.5 256V262M514.5 255V262M515.5 257V263M516.5 257V263M517.5 258V262M518.5 258V264M519.5 259V264M520.5 259V266M521.5 261V266M522.5 261V267M523.5 262V268M524.5 262V268M525.5 263V270M526.5 263V270M527.5 264V270M528.5 265V270M529.5 266V270M530.5 263V270M531.5 265V272M532.5 267V271M533.5 267V272M534.5 267V272M535.5 266V272M536.5 267V273M537.5 267V273M538.5 265V273M539.5 265V276M540.5 269V274M541.5 268V275M542.5 270V275M543.5 267V273M544.5 269V274M545.5 265V274M546.5 269V273M547.5 269V275M548.5 270V276M549.5 272V276M550.5 271V277M551.5 273V281M552.5 277V282M553.5 277V284M554.5 279V284M555.5 279V287M556.5 279V290M557.5 276V289M558.5 277V290M559.5 282V287M560.5 281V286M561.5 279V284M562.5 280V284M563.5 279V284M564.5 279V283M565.5 279V284M566.5 280V284M567.5 279V284M568.5 279V283M569.5 280V284M570.5 279V284M571.5 280V283M572.5 280V286M573.5 280V283M574.5 279V285M575.5 280V284M576.5 279V283M577.5 279V284M578.5 279V286M579.5 280V286M580.5 279V286M581.5 282V288M582.5 280V286M583.5 280V285M584.5 280V285M585.5 280V284M586.5 279V284M587.5 279V284M588.5 278V285M589.5 279V286M590.5 283V290M591.5 282V292M592.5 281V288M593.5 278V285M594.5 279V289M595.5 285V291M596.5 284V293M597.5 288V295M598.5 290V297M599.5 291V298M600.5 291V296M601.5 289V295M602.5 286V292M603.5 285V291M604.5 284V290M605.5 284V292M606.5 287V295M607.5 290V298M608.5 290V298M609.5 288V297M610.5 288V292M611.5 287V291M612.5 286V290M613.5 287V290M614.5 286V290M615.5 287V290M616.5 287V290M617.5 287V290M618.5 287V292" fill="none" stroke="#00c000" stroke-width="1" shape-rendering="crispEdges"/>
<path d="M134.5 273V278M135.5 273V281M136.5 270V283M137.5 274V284M138.5 271V277M139.5 269V274M140.5 269V273M141.5 266V274M142.5 270V274M143.5 270V275M144.5 273V276M145.5 274V279M146.5 275V285M147.5 279V287M148.5 280V288M149.5 281V285M150.5 281V286M151.5 281V288M152.5 280V288M153.5 280V286M154.5 281V287M155.5 283V289M156.5 283V289M157.5 284V291M158.5 286V290M159.5 287V290M160.5 285V291M161.5 282V288M162.5 282V288M163.5 283V289M164.5 283V290M165.5 280V292M166.5 284V289M167.5 282V290M168.5 279V286M169.5 276V283M170.5 276V283M171.5 279V285M172.5 282V288M173.5 285V290M174.5 285V291M175.5 285V288M176.5 284V290M177.5 282V288M178.5 279V285M179.5 273V284M180.5 268V300M181.5 272V300M182.5 277V287M183.5 277V287M184.5 276V286M185.5 273V286M186.5 241V283M187.5 268V283M188.5 275V288M189.5 275V285M190.5 275V284M191.5 278V289M192.5 275V283M193.5 272V285M194.5 272V285M195.5 276V290M196.5 280V288M197.5 281V290M198.5 281V288M199.5 282V290M200.5 279V287M201.5 278V288M202.5 280V288M203.5 280V289M204.5 281V286M205.5 279V288M206.5 280V288M207.5 280V288M208.5 278V290M209.5 279V290M210.5 279V289M211.5 278V292M212.5 279V292M213.5 279V293M214.5 281V289M215.5 280V288M216.5 281V288M217.5 281V287M218.5 284V289M219.5 282V292M220.5 283V290M221.5 284V289M222.5 283V290M223.5 284V290M224.5 284V290M225.5 281V289M226.5 282V289M227.5 281V289M228.5 280V286M229.5 280V288M230.5 284V292M231.5 284V297M232.5 284V295M233.5 283V291M234.5 281V290M235.5 282V288M236.5 281V287M237.5 280V288M238.5 279V286M239.5 280V286M240.5 279V285M241.5 277V283M242.5 278V284M243.5 279V286M244.5 274V283M245.5 276V283M246.5 275V282M247.5 276V282M248.5 274V282M249.5 273V279M250.5 272V279M251.5 272V276M252.5 271V278M253.5 273V280M254.5 273V282M255.5 275V287M256.5 278V287M257.5 273V286M258.5 275V286M259.5 278V288M260.5 280V286M261.5 279V292M262.5 278V289M263.5 276V293M264.5 281V290M265.5 280V290M266.5 280V289M267.5 282V289M268.5 281V289M269.5 280V290M270.5 283V294M271.5 280V297M272.5 278V293M273.5 276V288M274.5 272V289M275.5 278V287M276.5 278V287M277.5 275V285M278.5 276V285M279.5 277V284M280.5 276V284M281.5 275V283M282.5 274V284M283.5 272V282M284.5 271V280M285.5 273V287M286.5 279V287M287.5 280V286M288.5 281V292M289.5 284V294M290.5 285V293M291.5 286V291M292.5 284V291M293.5 285V290M294.5 283V289M295.5 280V288M296.5 280V285M297.5 280V284M298.5 280V284M299.5 278V284M300.5 279V283M301.5 278V282M302.5 277V283M303.5 275V283M304.5 274V280M305.5 274V278M306.5 273V276M307.5 271V276M308.5 271V275M309.5 270V275M310.5 269V274M311.5 268V272M312.5 268V271M313.5 267V270M314.5 267V270M315.5 266V270M316.5 265V270M317.5 263V269M318.5 261V268M319.5 263V267M320.5 263V268M321.5 262V267M322.5 261V268M323.5 263V269M324.5 260V266M325.5 251V265M326.5 252V263M327.5 256V267M328.5 255V264M329.5 255V263M330.5 254V262M331.5 252V264M332.5 253V260M333.5 252V261M334.5 252V266M335.5 255V266M336.5 255V265M337.5 256V267M338.5 256V267M339.5 255V265M340.5 256V267M341.5 251V264M342.5 255V263M343.5 255V265M344.5 256V268M345.5 256V266M346.5 255V264M347.5 256V264M348.5 257V262M349.5 258V263M350.5 256V263M351.5 252V260M352.5 247V263M353.5 250V260M354.5 252V261M355.5 254V260M356.5 247V258M357.5 246V254M358.5 240V258M359.5 242V258M360.5 242V259M361.5 248V257M362.5 250V262M363.5 250V263M364.5 250V261M365.5 247V260M366.5 243V266M367.5 247V258M368.5 249V259M369.5 246V257M370.5 247V259M371.5 244V254M372.5 247V261M373.5 244V260M374.5 247V259M375.5 247V262M376.5 246V258M377.5 242V258M378.5 245V255M379.5 243V260M380.5 241V259M381.5 246V254M382.5 246V256M383.5 245V258M384.5 245V254M385.5 248V253M386.5 244V258M387.5 237V254M388.5 237V254M389.5 237V256M390.5 242V255M391.5 244V256M392.5 243V254M393.5 240V254M394.5 244V255M395.5 241V255M396.5 243V252M397.5 241V255M398.5 244V256M399.5 240V253M400.5 240V253M401.5 243V252M402.5 240V251M403.5 241V255M404.5 241V251M405.5 241V253M406.5 236V251M407.5 239V249M408.5 239V250M409.5 236V250M410.5 240V250M411.5 241V251M412.5 241V250M413.5 241V250M414.5 239V251M415.5 239V248M416.5 229V248M417.5 229V254M418.5 239V250M419.5 240V249M420.5 237V250M421.5 237V250M422.5 239V250M423.5 242V250M424.5 240V250M425.5 238V250M426.5 238V251M427.5 234V251M428.5 234V248M429.5 238V245M430.5 240V246M431.5 240V247M432.5 237V246M433.5 238V246M434.5 235V247M435.5 239V245M436.5 241V248M437.5 239V249M438.5 241V248M439.5 239V246M440.5 240V247M441.5 241V246M442.5 241V247M443.5 240V251M444.5 240V248M445.5 239V245M446.5 236V247M447.5 239V244M448.5 238V244M449.5 239V245M450.5 241V244M451.5 240V245M452.5 237V244M453.5 241V245M454.5 240V245M455.5 242V245M456.5 242V246M457.5 242V246M458.5 243V246M459.5 243V247M460.5 242V248M461.5 242V249M462.5 247V252M463.5 250V254M464.5 251V253M465.5 250V255M466.5 250V255M467.5 251V257M468.5 252V257M469.5 253V258M470.5 252V257M471.5 253V257M472.5 251V258M473.5 252V256M474.5 252V256M475.5 252V257M476.5 254V259M477.5 252V259M478.5 254V260M479.5 255V260M480.5 256V261M481.5 254V260M482.5 256V261M483.5 255V260M484.5 256V260M485.5 257V260M486.5 257V260M487.5 256V263M488.5 258V262M489.5 259V262M490.5 259V262M491.5 258V263M492.5 259V263M493.5 259V263M494.5 259V263M495.5 259V263M496.5 258V263M497.5 257V262M498.5 255V263M499.5 253V262M500.5 252V262M501.5 252V266M502.5 255V268M503.5 261V272M504.5 259V268M505.5 259V263M506.5 257V263M507.5 256V263M508.5 254V261M509.5 255V260M510.5 254V263M511.5 253V262M512.5 253V260M513.5 256V262M514.5 255V262M515.5 256V262M516.5 257V263M517.5 257V262M518.5 258V264M519.5 259V263M520.5 259V265M521.5 261V266M522.5 260V266M523.5 262V267M524.5 262V267M525.5 263V269M526.5 263V269M527.5 264V269M528.5 265V269M529.5 265V269M530.5 263V270M531.5 265V271M532.5 267V270M533.5 267V271M534.5 267V272M535.5 265V271M536.5 267V272M537.5 267V272M538.5 265V273M539.5 265V275M540.5 269V274M541.5 268V274M542.5 269V274M543.5 267V272M544.5 269V273M545.5 265V273M546.5 269V272M547.5 269V274M548.5 270V275M549.5 271V275M550.5 271V277M551.5 273V280M552.5 276V281M553.5 277V283M554.5 279V283M555.5 279V286M556.5 279V289M557.5 276V289M558.5 277V289M559.5 282V286M560.5 280V285M561.5 279V283M562.5 279V283M563.5 278V283M564.5 279V282M565.5 279V283M566.5 279V283M567.5 279V283M568.5 279V282M569.5 279V283M570.5 279V283M571.5 279V282M572.5 279V285M573.5 280V282M574.5 279V284M575.5 279V284M576.5 278V283M577.5 279V284M578.5 279V285M579.5 279V285M580.5 279V285M581.5 281V287M582.5 280V285M583.5 280V284M584.5 279V284M585.5 279V283M586.5 279V283M587.5 278V283M588.5 278V284M589.5 279V286M590.5 282V289M591.5 282V291M592.5 281V287M593.5 278V285M594.5 279V288M595.5 284V290M596.5 284V292M597.5 287V294M598.5 290V296M599.5 291V297M600.5 290V295M601.5 288V294M602.5 286V291M603.5 285V290M604.5 284V290M605.5 284V291M606.5 287V295M607.5 290V297M608.5 289V297M609.5 287V296M610.5 287V292M611.5 286V291M612.5 285V289M613.5 287V289M614.5 286V289M615.5 286V289M616.5 287V290M617.5 287V289M618.5 287V291" fill="none" stroke="#0080ff" stroke-width="1" shape-rendering="crispEdges"/>
</g>
<g id="p3">
<path d="M135.5 357V361M136.5 354V358M137.5 357V366M138.5 359V366M139.5 357V360M140.5 359V362M141.5 360V362M142.5 358V362M143.5 359V366M144.5 358V366M145.5 357V360M146.5 356V360M147.5 356V359M148.5 357V360M149.5 358V365M150.5 364V369M151.5 360V365M152.5 360V364M153.5 362V367M154.5 362V367M155.5 359V364M156.5 361V366M157.5 363V366M158.5 363V369M159.5 367V371M160.5 367V372M161.5 371V375M162.5 370V375M163.5 368V372M164.5 369V376M165.5 375V382M166.5 369V378M167.5 365V370M168.5 364V369M169.5 368V375M170.5 373V377M171.5 374V379M172.5 369V375M173.5 369V375M174.5 373V378M175.5 372V374M176.5 369V373M177.5 368V371M178.5 364V369M179.5 360V366M180.5 353V361M181.5 346V354M182.5 345V348M183.5 343V347M184.5 345V346M185.5 344V348M186.5 344V348M187.5 345V350M188.5 346V352M189.5 351V354M190.5 353V359M191.5 355V359M192.5 352V356M193.5 352V356M194.5 353V357M195.5 356V360M196.5 357V360M197.5 355V360M198.5 355V360M199.5 357V360M200.5 359V361M201.5 359V361M202.5 359V362M203.5 359V362M204.5 358V361M205.5 357V362M206.5 357V362M207.5 357V362M208.5 358V360M209.5 357V360M210.5 355V358M211.5 355V358M212.5 354V358M213.5 353V357M214.5 354V357M215.5 355V358M216.5 355V361M217.5 358V365M218.5 364V368M219.5 361V368M220.5 360V363M221.5 357V362M222.5 357V360M223.5 355V359M224.5 356V360M225.5 359V366M226.5 365V370M227.5 369V376M228.5 367V375M229.5 365V368M230.5 365V372M231.5 370V373M232.5 369V372M233.5 368V371M234.5 370V373M235.5 372V380M236.5 377V383M237.5 374V381M238.5 370V377M239.5 376V382M240.5 378V385M241.5 378V385M242.5 373V379M243.5 370V374M244.5 368V376M245.5 375V386M246.5 385V390M247.5 387V391M248.5 378V388M249.5 372V379M250.5 363V373M251.5 363V365M252.5 361V365M253.5 363V366M254.5 364V367M255.5 362V365M256.5 361V365M257.5 363V366M258.5 362V366M259.5 362V366M260.5 361V366M261.5 359V365M262.5 359V362M263.5 361V364M264.5 363V367M265.5 365V368M266.5 365V368M267.5 363V370M268.5 362V365M269.5 361V365M270.5 362V367M271.5 366V372M272.5 367V370M273.5 364V368M274.5 366V369M275.5 365V368M276.5 365V369M277.5 367V370M278.5 367V370M279.5 365V368M280.5 365V369M281.5 365V367M282.5 362V367M283.5 364V367M284.5 366V370M285.5 365V368M286.5 364V367M287.5 364V368M288.5 366V370M289.5 369V373M290.5 370V374" fill="none" stroke="#ff0000" stroke-width="1" shape-rendering="crispEdges"/>
<path d="M290.5 368V372M291.5 366V371M292.5 363V370M293.5 362V369M294.5 358V367M295.5 358V362M296.5 353V364M297.5 354V359M298.5 349V356M299.5 347V357M300.5 348V354M301.5 348V354M302.5 347V353M303.5 345V353M304.5 348V355M305.5 345V357M306.5 348V356M307.5 351V357M308.5 351V355M309.5 353V359M310.5 353V359M311.5 353V362M312.5 354V362M313.5 350V364M314.5 349V364M315.5 358V367M316.5 356V373M317.5 358V373M318.5 360V375M319.5 360V380M320.5 363V376M321.5 364V384M322.5 366V386M323.5 364V387M324.5 367V382M325.5 367V387M326.5 362V388M327.5 365V393M328.5 369V391M329.5 377V397M330.5 390V399M331.5 391V400M332.5 387V400M333.5 387V400M334.5 389V402M335.5 393V401M336.5 395V405M337.5 399V407M338.5 400V411M339.5 400V413M340.5 401V411M341.5 399V414M342.5 403V415M343.5 403V412M344.5 399V412M345.5 392V412M346.5 395V414M347.5 396V418M348.5 405V418M349.5 406V419M350.5 405V419M351.5 403V419M352.5 398V415M353.5 392V412M354.5 392V401M355.5 390V402M356.5 386V409M357.5 391V412M358.5 397V413M359.5 404V419M360.5 404V417M361.5 403V418M362.5 402V421M363.5 406V418M364.5 407V415M365.5 405V418M366.5 405V423M367.5 405V419M368.5 402V421M369.5 407V417M370.5 395V414M371.5 389V417M372.5 392V414M373.5 397V419M374.5 404V418M375.5 408V423M376.5 414V424M377.5 409V422M378.5 405V415M379.5 393V412M380.5 384V414M381.5 383V413M382.5 381V410M383.5 383V408M384.5 385V412M385.5 388V411M386.5 406V424M387.5 408V420M388.5 406V420M389.5 408V426M390.5 393V432M391.5 394V431M392.5 404V421M393.5 401V421M394.5 392V415M395.5 386V412M396.5 386V409M397.5 398V427M398.5 396V427M399.5 407V429M400.5 403V434M401.5 410V434M402.5 406V434M403.5 407V431M404.5 410V428M405.5 415V431M406.5 412V432M407.5 416V433M408.5 410V429M409.5 409V434M410.5 414V434M411.5 414V432M412.5 413V434M413.5 415V434M414.5 412V429M415.5 412V427M416.5 410V431M417.5 409V424M418.5 410V425M419.5 418V430M420.5 423V432M421.5 411V430M422.5 408V428M423.5 402V431M424.5 410V437M425.5 418V438M426.5 420V438M427.5 420V438M428.5 418V435M429.5 413V435M430.5 411V432M431.5 416V430M432.5 417V433M433.5 418V431M434.5 415V426M435.5 411V432M436.5 411V429M437.5 412V429M438.5 410V425M439.5 415V432M440.5 418V429M441.5 417V436M442.5 420V433M443.5 422V433M444.5 419V436M445.5 417V436M446.5 417V435M447.5 426V438M448.5 427V439M449.5 426V434M450.5 422V431M451.5 424V439M452.5 425V439M453.5 432V441M454.5 434V442M455.5 434V441M456.5 439V446M457.5 439V446M458.5 437V446M459.5 431V446M460.5 428V438M461.5 420V433M462.5 417V425M463.5 408V420M464.5 405V414M465.5 404V413M466.5 406V410M467.5 404V407M468.5 404V408M469.5 404V410M470.5 402V408M471.5 399V405M472.5 401V408M473.5 402V407M474.5 403V408M475.5 403V408M476.5 405V409M477.5 405V408M478.5 405V408M479.5 404V408M480.5 404V409M481.5 401V408M482.5 401V405M483.5 399V404M484.5 397V404M485.5 397V403M486.5 397V403M487.5 396V401M488.5 396V402M489.5 397V400M490.5 398V402M491.5 397V401M492.5 396V401M493.5 395V401M494.5 391V397M495.5 387V395M496.5 387V396M497.5 388V396M498.5 389V394M499.5 389V394M500.5 386V392M501.5 385V393M502.5 385V393M503.5 389V397M504.5 389V398M505.5 391V397M506.5 392V395M507.5 388V397M508.5 390V396M509.5 384V393M510.5 384V393M511.5 384V393M512.5 378V394M513.5 388V401M514.5 397V411M515.5 409V423M516.5 415V422M517.5 411V419M518.5 411V417M519.5 410V416M520.5 406V415M521.5 400V412M522.5 394V412M523.5 407V415M524.5 413V422M525.5 418V428M526.5 427V434M527.5 433V443M528.5 440V450M529.5 448V451M530.5 445V452M531.5 435V451M532.5 434V446M533.5 430V441M534.5 421V433M535.5 417V430M536.5 423V430M537.5 425V432M538.5 428V434M539.5 426V434M540.5 426V432M541.5 420V428M542.5 418V428M543.5 417V427M544.5 419V429M545.5 421V430M546.5 418V425M547.5 421V428M548.5 423V428M549.5 427V432M550.5 424V432M551.5 421V431M552.5 421V428M553.5 421V426M554.5 418V426M555.5 415V424M556.5 413V424M557.5 407V417M558.5 406V414M559.5 406V413M560.5 406V410M561.5 405V409M562.5 405V410M563.5 401V409M564.5 401V407M565.5 402V406M566.5 401V406M567.5 401V405M568.5 400V405M569.5 400V405M570.5 403V407M571.5 403V407M572.5 404V408M573.5 405V409M574.5 402V410M575.5 396V406M576.5 395V406M577.5 396V403M578.5 399V405M579.5 399V405M580.5 397V404M581.5 396V412M582.5 396V420M583.5 399V416M584.5 394V405M585.5 395V403M586.5 397V403M587.5 396V405M588.5 398V408M589.5 394V406M590.5 390V401M591.5 390V399M592.5 392V401M593.5 392V398M594.5 392V399M595.5 390V400M596.5 394V400M597.5 396V400M598.5 396V400M599.5 397V408M600.5 395V413M601.5 400V410M602.5 398V408M603.5 396V404M604.5 397V404M605.5 396V405M606.5 400V404M607.5 398V405M608.5 397V404M609.5 399V404M610.5 400V405M611.5 402V405M612.5 401V405M613.5 401V404M614.5 402V405M615.5 402V405M616.5 402V405M617.5 403V406M618.5 403V406" fill="none" stroke="#ff0000" stroke-width="1" shape-rendering="crispEdges"/>
<path d="M135.5 352V354M136.5 351V354M137.5 350V354M138.5 348V353M139.5 346V351M140.5 344V349M141.5 343V348M142.5 344V349M143.5 348V351M144.5 349V352M145.5 351V354M146.5 352V355M147.5 352V355M148.5 353V355M149.5 353V357M150.5 354V357M151.5 354V357M152.5 354V357M153.5 353V356M154.5 353V354M155.5 353V357M156.5 353V357M157.5 355V357M158.5 356V358M159.5 355V361M160.5 357V362M161.5 358V361M162.5 358V362M163.5 359V364M164.5 358V362M165.5 357V361M166.5 356V360M167.5 354V358M168.5 353V357M169.5 352V356M170.5 352V358M171.5 354V358M172.5 356V361M173.5 358V361M174.5 359V361M175.5 358V362M176.5 357V360M177.5 356V360M178.5 355V359M179.5 355V359M180.5 355V358M181.5 355V358M182.5 356V358M183.5 355V358M184.5 356V359M185.5 356V359M186.5 355V358M187.5 355V358M188.5 355V359M189.5 356V360M190.5 357V360M191.5 358V361M192.5 359V361M193.5 360V363M194.5 359V362M195.5 359V362M196.5 359V361M197.5 359V362M198.5 359V362M199.5 359V363M200.5 359V363M201.5 359V362M202.5 359V362M203.5 358V361M204.5 359V361M205.5 358V361M206.5 359V362M207.5 359V362M208.5 358V361M209.5 358V360M210.5 357V361M211.5 356V358M212.5 356V359M213.5 356V359M214.5 358V359M215.5 357V360M216.5 357V360M217.5 357V361M218.5 357V359M219.5 357V361M220.5 357V360M221.5 358V361M222.5 357V361M223.5 357V359M224.5 358V361M225.5 357V360M226.5 358V361M227.5 359V361M228.5 359V364M229.5 362V365M230.5 362V365M231.5 360V364M232.5 359V362M233.5 357V361M234.5 356V360M235.5 357V363M236.5 359V363M237.5 360V367M238.5 361V367M239.5 360V366M240.5 360V363M241.5 361V363M242.5 360V362M243.5 359V362M244.5 359V362M245.5 361V362M246.5 360V364M247.5 361V365M248.5 361V365M249.5 362V365M250.5 364V368M251.5 367V372M252.5 367V370M253.5 366V369M254.5 367V372M255.5 370V372M256.5 370V374M257.5 370V373M258.5 369V371M259.5 367V371M260.5 364V368M261.5 365V368M262.5 367V370M263.5 367V370M264.5 368V371M265.5 369V372M266.5 369V371M267.5 367V371M268.5 366V369M269.5 367V370M270.5 367V370M271.5 366V370M272.5 368V371M273.5 367V371M274.5 367V369M275.5 367V371M276.5 367V369M277.5 368V371M278.5 368V371M279.5 368V371M280.5 369V372M281.5 368V371M282.5 369V372M283.5 370V372M284.5 370V373M285.5 370V373M286.5 371V373M287.5 371V374M288.5 371V376M289.5 371V376M290.5 368V372M291.5 368V371M292.5 366V371M293.5 364V369M294.5 365V367M295.5 364V367M296.5 363V366M297.5 363V365M298.5 363V365M299.5 362V365M300.5 361V365M301.5 361V364M302.5 360V364M303.5 357V363M304.5 357V362M305.5 355V362M306.5 356V364M307.5 361V365M308.5 359V366M309.5 362V367M310.5 362V369M311.5 367V372M312.5 366V374M313.5 370V376M314.5 371V377M315.5 372V382M316.5 376V381M317.5 376V386M318.5 380V385M319.5 380V392M320.5 386V392M321.5 388V395M322.5 385V396M323.5 385V395M324.5 385V394M325.5 385V399M326.5 385V393M327.5 385V398M328.5 387V407M329.5 398V408M330.5 405V410M331.5 405V411M332.5 406V414M333.5 406V411M334.5 409V417M335.5 409V420M336.5 411V418M337.5 417V425M338.5 415V426M339.5 415V423M340.5 415V423M341.5 417V423M342.5 416V424M343.5 416V424M344.5 416V422M345.5 416V427M346.5 418V427M347.5 419V427M348.5 422V428M349.5 420V430M350.5 420V427M351.5 417V427M352.5 410V430M353.5 403V430M354.5 404V426M355.5 425V429M356.5 419V429M357.5 419V426M358.5 419V423M359.5 419V426M360.5 421V428M361.5 420V428M362.5 422V428M363.5 422V432M364.5 425V432M365.5 425V431M366.5 426V434M367.5 423V431M368.5 422V432M369.5 421V431M370.5 420V430M371.5 417V428M372.5 417V426M373.5 420V428M374.5 420V430M375.5 428V435M376.5 422V429M377.5 424V433M378.5 420V430M379.5 422V431M380.5 415V431M381.5 413V429M382.5 416V429M383.5 420V431M384.5 425V439M385.5 423V438M386.5 422V434M387.5 419V437M388.5 422V439M389.5 424V439M390.5 429V433M391.5 427V434M392.5 425V436M393.5 425V438M394.5 422V437M395.5 423V433M396.5 425V441M397.5 427V436M398.5 430V444M399.5 430V444M400.5 431V442M401.5 434V446M402.5 435V446M403.5 432V444M404.5 433V444M405.5 433V444M406.5 436V449M407.5 435V449M408.5 433V447M409.5 435V447M410.5 437V446M411.5 441V449M412.5 440V449M413.5 437V449M414.5 435V447M415.5 433V448M416.5 431V441M417.5 429V441M418.5 428V442M419.5 434V443M420.5 435V448M421.5 440V446M422.5 439V443M423.5 427V442M424.5 430V445M425.5 437V446M426.5 436V451M427.5 438V451M428.5 436V448M429.5 435V447M430.5 440V449M431.5 437V446M432.5 435V448M433.5 436V448M434.5 436V448M435.5 439V448M436.5 434V445M437.5 441V448M438.5 441V448M439.5 432V442M440.5 432V445M441.5 432V442M442.5 435V444M443.5 433V443M444.5 433V443M445.5 434V442M446.5 441V444M447.5 439V442M448.5 439V447M449.5 434V443M450.5 434V442M451.5 437V442M452.5 439V444M453.5 440V445M454.5 441V445M455.5 442V448M456.5 445V450M457.5 446V450M458.5 446V450M459.5 444V449M460.5 435V445M461.5 427V441M462.5 422V433M463.5 415V426M464.5 412V421M465.5 411V417M466.5 412V416M467.5 412V417M468.5 412V415M469.5 412V416M470.5 414V416M471.5 413V416M472.5 413V416M473.5 414V418M474.5 413V418M475.5 413V417M476.5 413V417M477.5 413V416M478.5 413V416M479.5 413V415M480.5 413V416M481.5 412V417M482.5 412V416M483.5 412V416M484.5 413V417M485.5 412V417M486.5 412V415M487.5 412V414M488.5 409V414M489.5 410V414M490.5 408V411M491.5 410V413M492.5 407V411M493.5 408V411M494.5 406V409M495.5 406V408M496.5 405V409M497.5 405V409M498.5 406V413M499.5 409V417M500.5 413V417M501.5 410V414M502.5 410V414M503.5 406V413M504.5 405V412M505.5 408V415M506.5 412V418M507.5 416V419M508.5 415V419M509.5 415V424M510.5 421V427M511.5 421V431M512.5 424V435M513.5 428V441M514.5 434V444M515.5 440V448M516.5 444V449M517.5 443V448M518.5 443V450M519.5 445V448M520.5 447V453M521.5 450V455M522.5 451V457M523.5 451V457M524.5 451V457M525.5 454V459M526.5 454V459M527.5 458V462M528.5 458V462M529.5 459V461M530.5 458V462M531.5 458V464M532.5 459V464M533.5 459V462M534.5 459V463M535.5 456V462M536.5 454V462M537.5 454V458M538.5 456V461M539.5 455V461M540.5 455V461M541.5 453V457M542.5 454V460M543.5 454V460M544.5 452V458M545.5 452V457M546.5 451V456M547.5 448V453M548.5 446V452M549.5 442V452M550.5 440V449M551.5 436V441M552.5 432V440M553.5 432V438M554.5 425V435M555.5 421V432M556.5 417V425M557.5 418V422M558.5 415V420M559.5 412V416M560.5 407V416M561.5 405V411M562.5 402V409M563.5 401V405M564.5 401V407M565.5 406V409M566.5 404V409M567.5 405V410M568.5 406V411M569.5 408V413M570.5 408V413M571.5 408V412M572.5 409V413M573.5 407V411M574.5 408V412M575.5 408V411M576.5 409V411M577.5 409V412M578.5 408V413M579.5 409V412M580.5 406V412M581.5 406V415M582.5 410V418M583.5 415V418M584.5 416V420M585.5 417V419M586.5 416V420M587.5 416V420M588.5 416V422M589.5 417V423M590.5 417V423M591.5 412V422M592.5 410V416M593.5 411V417M594.5 413V418M595.5 413V418M596.5 409V417M597.5 408V413M598.5 405V412M599.5 402V407M600.5 402V409M601.5 402V412M602.5 408V412M603.5 408V416M604.5 411V417M605.5 411V416M606.5 408V415M607.5 405V411M608.5 401V408M609.5 403V408M610.5 406V409M611.5 405V409M612.5 406V409M613.5 405V408M614.5 405V408M615.5 407V409M616.5 405V410M617.5 408V410M618.5 406V411" fill="none" stroke="#00c000" stroke-width="1" shape-rendering="crispEdges"/>
<path d="M135.5 353V357M136.5 352V355M137.5 351V357M138.5 352V357M139.5 350V356M140.5 350V356M141.5 354V358M142.5 355V358M143.5 353V358M144.5 353V357M145.5 353V358M146.5 356V358M147.5 354V359M148.5 355V359M149.5 355V358M150.5 354V358M151.5 354V357M152.5 354V358M153.5 355V359M154.5 355V359M155.5 354V359M156.5 355V360M157.5 356V359M158.5 356V360M159.5 354V359M160.5 356V359M161.5 354V358M162.5 355V359M163.5 354V360M164.5 356V360M165.5 356V359M166.5 356V360M167.5 356V359M168.5 357V361M169.5 354V360M170.5 356V360M171.5 356V361M172.5 358V363M173.5 358V363M174.5 357V361M175.5 358V362M176.5 359V362M177.5 358V362M178.5 355V362M179.5 359V362M180.5 359V366M181.5 359V366M182.5 361V363M183.5 361V365M184.5 359V363M185.5 357V361M186.5 356V359M187.5 356V361M188.5 358V361M189.5 357V360M190.5 357V362M191.5 359V363M192.5 359V363M193.5 360V363M194.5 360V365M195.5 361V365M196.5 360V363M197.5 361V364M198.5 360V364M199.5 360V364M200.5 360V364M201.5 360V364M202.5 359V362M203.5 359V362M204.5 360V364M205.5 359V364M206.5 359V364M207.5 359V363M208.5 360V363M209.5 360V363M210.5 359V362M211.5 358V362M212.5 357V360M213.5 358V360M214.5 357V360M215.5 357V362M216.5 357V361M217.5 359V361M218.5 357V362M219.5 357V361M220.5 357V362M221.5 357V362M222.5 357V360M223.5 358V362M224.5 358V362M225.5 358V362M226.5 358V362M227.5 357V362M228.5 356V361M229.5 358V363M230.5 360V365M231.5 360V365M232.5 361V364M233.5 360V364M234.5 358V362M235.5 358V364M236.5 359V364M237.5 360V366M238.5 360V366M239.5 361V365M240.5 361V365M241.5 362V365M242.5 361V365M243.5 362V365M244.5 362V366M245.5 362V366M246.5 362V366M247.5 364V367M248.5 362V367M249.5 362V367M250.5 363V366M251.5 363V366M252.5 364V368M253.5 364V368M254.5 366V369M255.5 365V370M256.5 367V369M257.5 366V369M258.5 365V370M259.5 365V369M260.5 366V369M261.5 368V370M262.5 367V370M263.5 368V371M264.5 367V370M265.5 367V371M266.5 366V371M267.5 366V370M268.5 367V370M269.5 366V372M270.5 369V372M271.5 370V373M272.5 368V374M273.5 369V373M274.5 369V374M275.5 371V374M276.5 371V374M277.5 370V374M278.5 371V375M279.5 372V376M280.5 372V376M281.5 372V375M282.5 372V378M283.5 374V378M284.5 373V378M285.5 374V380M286.5 376V380M287.5 375V378M288.5 375V381M289.5 376V382M290.5 374V378M291.5 371V377M292.5 369V373M293.5 369V375M294.5 370V374M295.5 370V374M296.5 371V374M297.5 370V375M298.5 369V375M299.5 369V374M300.5 367V371M301.5 367V371M302.5 364V371M303.5 363V368M304.5 365V368M305.5 360V368M306.5 360V366M307.5 363V369M308.5 364V370M309.5 365V374M310.5 367V378M311.5 370V379M312.5 370V379M313.5 375V383M314.5 375V385M315.5 379V387M316.5 381V392M317.5 381V393M318.5 381V397M319.5 386V398M320.5 386V401M321.5 390V401M322.5 391V399M323.5 392V402M324.5 389V399M325.5 389V397M326.5 389V401M327.5 389V400M328.5 395V404M329.5 401V413M330.5 407V417M331.5 409V414M332.5 408V416M333.5 410V421M334.5 413V425M335.5 414V426M336.5 425V429M337.5 417V433M338.5 418V433M339.5 418V429M340.5 421V429M341.5 422V431M342.5 424V431M343.5 420V432M344.5 423V429M345.5 422V432M346.5 422V428M347.5 423V432M348.5 423V428M349.5 423V430M350.5 423V432M351.5 424V434M352.5 413V434M353.5 416V433M354.5 418V434M355.5 425V434M356.5 421V433M357.5 418V433M358.5 423V432M359.5 423V434M360.5 428V434M361.5 426V434M362.5 430V437M363.5 433V439M364.5 433V440M365.5 436V441M366.5 431V441M367.5 433V440M368.5 428V437M369.5 422V436M370.5 422V434M371.5 417V434M372.5 417V432M373.5 428V437M374.5 425V435M375.5 425V442M376.5 424V439M377.5 426V433M378.5 427V438M379.5 420V437M380.5 418V437M381.5 420V426M382.5 425V440M383.5 426V440M384.5 427V444M385.5 430V444M386.5 425V438M387.5 426V437M388.5 429V438M389.5 430V444M390.5 433V441M391.5 437V450M392.5 436V451M393.5 435V447M394.5 438V447M395.5 427V445M396.5 428V445M397.5 430V440M398.5 430V443M399.5 433V452M400.5 441V452M401.5 443V454M402.5 442V457M403.5 450V458M404.5 443V461M405.5 444V459M406.5 441V455M407.5 443V455M408.5 441V455M409.5 442V455M410.5 442V455M411.5 441V455M412.5 448V458M413.5 441V456M414.5 442V450M415.5 439V452M416.5 436V446M417.5 434V447M418.5 441V445M419.5 438V456M420.5 442V454M421.5 436V454M422.5 432V452M423.5 433V446M424.5 440V455M425.5 438V455M426.5 439V457M427.5 443V456M428.5 439V446M429.5 439V445M430.5 444V454M431.5 440V454M432.5 440V447M433.5 436V444M434.5 436V451M435.5 439V451M436.5 440V449M437.5 441V451M438.5 441V449M439.5 443V451M440.5 441V451M441.5 436V449M442.5 437V448M443.5 439V452M444.5 439V446M445.5 437V449M446.5 439V451M447.5 441V445M448.5 440V447M449.5 441V453M450.5 442V454M451.5 445V451M452.5 445V457M453.5 453V459M454.5 447V459M455.5 448V453M456.5 447V453M457.5 447V457M458.5 450V457M459.5 447V457M460.5 441V456M461.5 441V453M462.5 423V443M463.5 418V428M464.5 415V423M465.5 414V420M466.5 414V421M467.5 414V420M468.5 418V422M469.5 417V422M470.5 416V420M471.5 415V420M472.5 416V422M473.5 418V424M474.5 415V421M475.5 416V420M476.5 415V420M477.5 415V421M478.5 415V421M479.5 415V421M480.5 415V422M481.5 416V422M482.5 415V419M483.5 416V420M484.5 415V422M485.5 417V421M486.5 415V420M487.5 415V419M488.5 414V419M489.5 414V419M490.5 414V418M491.5 415V417M492.5 411V416M493.5 411V417M494.5 412V417M495.5 410V416M496.5 411V415M497.5 412V422M498.5 419V424M499.5 422V431M500.5 425V435M501.5 424V433M502.5 414V425M503.5 412V424M504.5 414V422M505.5 416V422M506.5 418V423M507.5 422V433M508.5 425V433M509.5 427V433M510.5 425V435M511.5 428V436M512.5 432V440M513.5 438V451M514.5 446V456M515.5 448V458M516.5 450V459M517.5 452V461M518.5 453V461M519.5 454V458M520.5 454V463M521.5 457V463M522.5 457V462M523.5 457V462M524.5 459V464M525.5 460V464M526.5 461V465M527.5 461V465M528.5 461V467M529.5 463V469M530.5 467V470M531.5 463V469M532.5 463V467M533.5 465V468M534.5 463V468M535.5 463V468M536.5 465V467M537.5 463V467M538.5 463V467M539.5 463V469M540.5 461V466M541.5 459V466M542.5 457V463M543.5 457V463M544.5 455V462M545.5 453V460M546.5 450V457M547.5 450V453M548.5 448V453M549.5 441V449M550.5 437V447M551.5 434V442M552.5 429V439M553.5 427V435M554.5 423V428M555.5 422V428M556.5 419V428M557.5 415V425M558.5 415V419M559.5 409V418M560.5 409V415M561.5 409V413M562.5 407V414M563.5 407V414M564.5 408V415M565.5 412V419M566.5 412V423M567.5 415V421M568.5 415V417M569.5 414V419M570.5 413V419M571.5 413V419M572.5 413V417M573.5 416V419M574.5 417V423M575.5 418V422M576.5 419V424M577.5 421V427M578.5 422V427M579.5 423V427M580.5 420V425M581.5 421V430M582.5 424V430M583.5 425V430M584.5 423V429M585.5 421V426M586.5 422V428M587.5 424V428M588.5 424V429M589.5 426V430M590.5 426V430M591.5 426V429M592.5 419V427M593.5 420V425M594.5 421V426M595.5 424V427M596.5 420V426M597.5 419V423M598.5 416V423M599.5 414V417M600.5 412V417M601.5 415V420M602.5 418V422M603.5 418V423M604.5 418V424M605.5 418V424M606.5 417V421M607.5 414V418M608.5 412V417M609.5 412V417M610.5 413V417M611.5 415V418M612.5 415V418M613.5 415V420M614.5 416V420M615.5 415V417M616.5 412V417M617.5 412V417M618.5 413V418" fill="none" stroke="#0080ff" stroke-width="1" shape-rendering="crispEdges"/>
</g>
<g id="p4">
<path d="M134.5 616V623M135.5 617V627M136.5 615V631M137.5 616V633M138.5 623V634M139.5 621V634M140.5 616V632M141.5 613V630M142.5 614V629M143.5 614V629M144.5 614V628M145.5 616V629M146.5 618V629M147.5 619V630M148.5 619V631M149.5 620V633M150.5 623V633M151.5 629V634M152.5 620V632M153.5 619V634M154.5 620V633M155.5 623V634M156.5 624V634M157.5 625V632M158.5 623V632M159.5 624V632M160.5 624V633M161.5 622V634M162.5 622V633M163.5 625V632M164.5 623V631M165.5 623V631M166.5 620V632M167.5 620V632M168.5 620V632M169.5 620V632M170.5 620V633M171.5 620V634M172.5 620V633M173.5 622V634M174.5 621V634M175.5 622V633M176.5 617V634M177.5 617V632M178.5 610V630M179.5 604V633M180.5 600V634M181.5 596V632M182.5 608V634M183.5 606V634M184.5 611V634M185.5 606V634M186.5 602V633M187.5 603V628M188.5 609V630M189.5 613V632M190.5 614V633M191.5 616V634M192.5 618V634M193.5 615V634M194.5 624V634M195.5 614V634M196.5 612V633M197.5 616V632M198.5 614V633M199.5 610V633M200.5 620V634M201.5 613V633M202.5 612V633M203.5 611V634M204.5 611V634M205.5 609V634M206.5 606V628M207.5 607V633M208.5 603V634M209.5 605V630M210.5 599V632M211.5 609V634M212.5 601V629M213.5 608V633M214.5 613V632M215.5 615V634M216.5 617V634M217.5 614V631M218.5 617V632M219.5 616V634M220.5 618V630M221.5 618V633M222.5 618V633M223.5 621V632M224.5 621V633M225.5 619V634M226.5 617V631M227.5 615V633M228.5 613V632M229.5 618V631M230.5 622V634M231.5 623V633M232.5 623V634M233.5 624V633M234.5 622V634M235.5 622V634M236.5 623V634M237.5 621V632M238.5 622V634M239.5 625V632M240.5 626V634M241.5 625V634M242.5 624V633M243.5 624V633M244.5 623V634M245.5 619V632M246.5 621V634M247.5 615V630M248.5 613V629M249.5 610V627M250.5 612V626M251.5 610V628M252.5 613V630M253.5 612V630M254.5 612V630M255.5 614V631M256.5 613V630M257.5 616V631M258.5 608V633M259.5 603V634M260.5 600V625M261.5 603V634M262.5 603V631M263.5 600V631M264.5 602V633M265.5 606V631M266.5 607V634M267.5 610V634M268.5 610V634M269.5 609V631M270.5 623V631M271.5 616V631M272.5 607V633M273.5 610V631M274.5 608V632M275.5 606V631M276.5 603V626M277.5 603V630M278.5 602V627M279.5 607V630M280.5 604V627M281.5 604V629M282.5 605V625M283.5 600V627M284.5 604V626M285.5 590V626M286.5 596V627M287.5 593V633M288.5 600V631M289.5 613V630M290.5 613V634M291.5 614V634M292.5 613V634M293.5 612V634M294.5 614V634M295.5 617V634M296.5 616V633M297.5 614V633M298.5 619V634M299.5 613V634M300.5 611V634M301.5 611V634M302.5 606V634M303.5 608V634M304.5 610V634M305.5 608V631M306.5 611V634M307.5 612V633M308.5 613V634M309.5 613V633M310.5 611V632M311.5 624V631M312.5 613V634M313.5 612V633M314.5 608V633M315.5 621V634M316.5 622V630M317.5 621V634M318.5 629V634M319.5 628V634M320.5 627V633M321.5 624V634M322.5 621V633M323.5 621V633M324.5 622V633M325.5 623V633M326.5 619V634M327.5 628V632M328.5 621V634M329.5 625V633M330.5 626V634M331.5 623V634M332.5 623V634M333.5 628V634M334.5 618V634M335.5 623V634M336.5 615V634M337.5 622V634M338.5 609V633M339.5 625V634M340.5 614V633M341.5 624V633M342.5 609V631M343.5 622V633M344.5 617V633M345.5 620V634M346.5 625V634M347.5 628V633M348.5 622V633M349.5 620V634M350.5 620V632M351.5 618V633M352.5 625V634M353.5 623V634M354.5 628V634M355.5 626V634M356.5 619V634M357.5 606V630M358.5 605V633M359.5 614V634M360.5 629V634M361.5 614V634M362.5 609V634M363.5 611V632M364.5 612V634M365.5 617V632M366.5 624V634M367.5 619V625M368.5 619V634M369.5 617V633M370.5 627V632M371.5 626V633M372.5 629V634M373.5 627V633M374.5 624V634M375.5 626V633M376.5 628V633M377.5 618V630M378.5 618V634M379.5 616V634M380.5 623V634M381.5 620V634M382.5 618V634M383.5 626V632M384.5 616V633M385.5 623V633M386.5 614V633M387.5 619V634M388.5 629V634M389.5 616V632M390.5 614V630M391.5 602V634M392.5 613V634M393.5 626V633M394.5 627V633M395.5 623V634M396.5 619V634M397.5 619V634M398.5 613V632M399.5 621V633M400.5 622V634M401.5 611V631M402.5 599V633M403.5 596V632M404.5 602V634M405.5 614V630M406.5 602V633M407.5 604V627M408.5 615V634M409.5 622V633M410.5 626V631M411.5 618V634M412.5 612V630M413.5 621V634M414.5 610V633M415.5 593V634M416.5 595V634M417.5 617V634M418.5 605V630M419.5 599V634M420.5 591V623M421.5 589V633M422.5 608V634M423.5 622V634M424.5 623V631M425.5 596V634M426.5 592V634M427.5 609V617M428.5 600V631M429.5 624V633M430.5 609V633M431.5 618V634M432.5 615V634M433.5 608V633M434.5 603V634M435.5 625V634M436.5 627V633M437.5 615V633M438.5 612V631M439.5 609V634M440.5 613V634M441.5 614V634M442.5 603V632M443.5 617V634M444.5 618V628M445.5 604V622M446.5 619V631M447.5 616V634M448.5 623V634M449.5 612V633M450.5 621V634M451.5 623V634M452.5 617V633M453.5 615V634M454.5 611V634M455.5 599V633M456.5 608V634M457.5 619V633M458.5 623V634M459.5 619V634M460.5 623V634M461.5 617V631M462.5 620V633M463.5 618V628M464.5 619V634M465.5 604V628M466.5 619V625M467.5 610V632M468.5 609V633M469.5 610V634M470.5 614V634M471.5 611V629M472.5 598V626M473.5 605V632M474.5 610V634M475.5 626V634M476.5 622V634M477.5 621V633M478.5 626V634M479.5 622V633M480.5 621V634M481.5 628V631M482.5 622V634M483.5 623V634M484.5 629V633M485.5 620V632M486.5 622V634M487.5 616V634M488.5 617V634M489.5 623V633M490.5 630V634M491.5 628V634M492.5 628V634M493.5 627V633M494.5 624V634M495.5 627V634M496.5 630V634M497.5 623V634M498.5 619V632M499.5 621V631M500.5 616V634M501.5 603V627M502.5 603V634M503.5 611V633M504.5 607V632M505.5 622V633M506.5 608V634M507.5 598V632M508.5 608V633M509.5 621V634M510.5 628V633M511.5 615V632M512.5 613V630M513.5 616V634M514.5 619V631M515.5 624V634M516.5 626V634M517.5 629V634M518.5 623V634M519.5 623V634M520.5 629V634M521.5 627V634M522.5 625V634M523.5 624V634M524.5 615V634M525.5 622V634M526.5 609V630M527.5 608V634M528.5 624V632M529.5 618V634M530.5 619V634M531.5 626V633M532.5 622V633M533.5 621V633M534.5 627V634M535.5 619V633M536.5 615V632M537.5 613V634M538.5 614V631M539.5 618V633M540.5 617V634M541.5 625V634M542.5 629V633M543.5 624V634M544.5 624V632M545.5 624V634M546.5 624V634M547.5 626V634M548.5 626V634M549.5 616V632M550.5 620V634M551.5 616V633M552.5 626V634M553.5 627V634M554.5 618V634M555.5 627V634M556.5 627V633M557.5 622V634M558.5 628V634M559.5 624V634M560.5 625V633M561.5 626V633M562.5 627V634M563.5 628V634M564.5 628V633M565.5 628V634M566.5 631V634M567.5 626V634M568.5 628V634M569.5 630V634M570.5 625V634M571.5 630V633M572.5 625V633M573.5 627V634M574.5 627V634M575.5 625V634M576.5 623V634M577.5 622V633M578.5 623V634M579.5 624V634M580.5 625V632M581.5 624V633M582.5 625V634M583.5 625V634M584.5 624V634M585.5 621V633M586.5 627V634M587.5 616V633M588.5 627V632M589.5 623V634M590.5 625V633M591.5 624V634M592.5 629V634M593.5 624V634M594.5 621V634M595.5 628V633M596.5 624V634M597.5 624V634M598.5 627V634M599.5 627V634M600.5 631V634M601.5 627V634M602.5 629V634M603.5 627V634M604.5 628V633M605.5 624V633M606.5 623V634M607.5 629V633M608.5 625V634M609.5 629V633M610.5 629V634M611.5 631V634M612.5 630V634M613.5 630V634M614.5 630V634M615.5 630V633M616.5 626V633M617.5 625V634M618.5 626V633M619.5 630V634" fill="none" stroke="#ff0000" stroke-width="1" shape-rendering="crispEdges"/>
<path d="M134.5 586V598M135.5 588V595M136.5 583V592M137.5 583V597M138.5 587V599M139.5 585V603M140.5 589V594M141.5 580V591M142.5 577V590M143.5 574V584M144.5 575V582M145.5 573V584M146.5 574V588M147.5 573V591M148.5 578V589M149.5 588V598M150.5 592V611M151.5 607V615M152.5 590V608M153.5 586V603M154.5 589V611M155.5 598V622M156.5 603V621M157.5 606V621M158.5 608V619M159.5 617V625M160.5 614V624M161.5 600V622M162.5 589V609M163.5 584V609M164.5 583V605M165.5 592V605M166.5 579V606M167.5 578V609M168.5 582V614M169.5 595V606M170.5 588V616M171.5 598V616M172.5 599V607M173.5 590V605M174.5 597V609M175.5 581V598M176.5 573V599M177.5 574V598M178.5 574V588M179.5 532V585M180.5 537V576M181.5 546V584M182.5 539V589M183.5 521V573M184.5 518V594M185.5 521V584M186.5 555V567M187.5 532V589M188.5 542V572M189.5 550V579M190.5 578V597M191.5 562V598M192.5 562V578M193.5 566V586M194.5 562V599M195.5 551V581M196.5 553V592M197.5 572V604M198.5 553V596M199.5 558V587M200.5 552V589M201.5 581V588M202.5 557V597M203.5 552V602M204.5 578V583M205.5 552V584M206.5 545V574M207.5 551V590M208.5 538V579M209.5 566V574M210.5 536V584M211.5 575V581M212.5 556V603M213.5 553V606M214.5 559V603M215.5 568V600M216.5 560V608M217.5 567V595M218.5 567V605M219.5 577V590M220.5 572V595M221.5 576V594M222.5 578V600M223.5 592V594M224.5 570V593M225.5 584V597M226.5 568V600M227.5 582V603M228.5 575V597M229.5 571V609M230.5 592V605M231.5 579V602M232.5 588V612M233.5 591V607M234.5 578V592M235.5 569V603M236.5 572V584M237.5 564V599M238.5 564V594M239.5 574V611M240.5 574V595M241.5 574V591M242.5 567V601M243.5 575V605M244.5 578V602M245.5 575V600M246.5 580V600M247.5 594V599M248.5 587V600M249.5 578V594M250.5 569V590M251.5 562V590M252.5 564V579M253.5 569V581M254.5 573V589M255.5 565V575M256.5 533V585M257.5 539V583M258.5 563V581M259.5 535V574M260.5 556V575M261.5 529V583M262.5 568V588M263.5 537V569M264.5 538V600M265.5 522V584M266.5 554V590M267.5 543V592M268.5 540V583M269.5 563V602M270.5 570V603M271.5 553V591M272.5 562V594M273.5 553V596M274.5 566V581M275.5 539V571M276.5 544V567M277.5 540V582M278.5 535V581M279.5 530V565M280.5 554V578M281.5 529V583M282.5 548V571M283.5 535V562M284.5 506V574M285.5 519V577M286.5 537V588M287.5 536V570M288.5 551V570M289.5 548V571M290.5 563V613M291.5 584V609M292.5 572V598M293.5 575V602M294.5 587V610M295.5 588V603M296.5 597V608M297.5 580V604M298.5 574V596M299.5 570V603M300.5 563V588M301.5 559V584M302.5 576V601M303.5 559V586M304.5 566V600M305.5 567V602M306.5 576V609M307.5 586V600M308.5 585V614M309.5 591V621M310.5 593V607M311.5 584V614M312.5 580V611M313.5 598V608M314.5 576V608M315.5 581V610M316.5 604V611M317.5 605V624M318.5 574V606M319.5 584V609M320.5 595V629M321.5 592V621M322.5 606V612M323.5 603V618M324.5 584V626M325.5 593V629M326.5 600V627M327.5 595V616M328.5 602V626M329.5 612V619M330.5 589V624M331.5 585V626M332.5 597V613M333.5 584V617M334.5 559V618M335.5 553V614M336.5 536V614M337.5 546V578M338.5 577V586M339.5 549V616M340.5 588V607M341.5 558V602M342.5 548V598M343.5 571V616M344.5 586V619M345.5 572V613M346.5 574V615M347.5 581V623M348.5 582V607M349.5 582V625M350.5 598V614M351.5 599V628M352.5 592V629M353.5 592V609M354.5 588V630M355.5 602V621M356.5 608V628M357.5 613V625M358.5 583V614M359.5 580V613M360.5 564V622M361.5 556V609M362.5 547V605M363.5 538V586M364.5 535V605M365.5 565V607M366.5 592V603M367.5 540V622M368.5 529V628M369.5 541V630M370.5 559V629M371.5 571V631M372.5 562V617M373.5 599V614M374.5 566V617M375.5 560V614M376.5 564V623M377.5 556V603M378.5 599V621M379.5 575V614M380.5 570V602M381.5 568V605M382.5 565V591M383.5 590V625M384.5 594V620M385.5 591V628M386.5 604V619M387.5 610V631M388.5 609V628M389.5 577V615M390.5 598V627M391.5 547V599M392.5 562V623M393.5 600V602M394.5 571V609M395.5 597V622M396.5 584V611M397.5 566V606M398.5 561V625M399.5 586V629M400.5 601V616M401.5 575V625M402.5 577V598M403.5 552V592M404.5 589V610M405.5 532V612M406.5 539V596M407.5 529V612M408.5 551V616M409.5 550V620M410.5 551V609M411.5 579V604M412.5 545V587M413.5 565V611M414.5 556V591M415.5 524V575M416.5 522V607M417.5 521V601M418.5 571V598M419.5 527V621M420.5 522V610M421.5 566V627M422.5 530V626M423.5 546V597M424.5 548V626M425.5 548V599M426.5 548V592M427.5 518V582M428.5 524V586M429.5 529V613M430.5 522V599M431.5 568V605M432.5 530V582M433.5 503V568M434.5 509V589M435.5 517V579M436.5 519V603M437.5 526V599M438.5 544V615M439.5 539V619M440.5 547V583M441.5 565V624M442.5 520V593M443.5 561V618M444.5 544V599M445.5 565V616M446.5 577V614M447.5 577V628M448.5 572V614M449.5 589V631M450.5 575V617M451.5 572V615M452.5 578V608M453.5 567V609M454.5 556V608M455.5 554V608M456.5 561V628M457.5 580V621M458.5 592V616M459.5 579V617M460.5 584V619M461.5 576V601M462.5 562V600M463.5 564V601M464.5 552V610M465.5 562V589M466.5 557V588M467.5 562V589M468.5 565V593M469.5 558V604M470.5 549V594M471.5 556V607M472.5 552V595M473.5 589V609M474.5 581V597M475.5 572V609M476.5 601V611M477.5 590V609M478.5 599V610M479.5 592V614M480.5 590V608M481.5 583V612M482.5 584V609M483.5 583V605M484.5 587V598M485.5 586V599M486.5 586V608M487.5 588V608M488.5 588V607M489.5 592V605M490.5 586V602M491.5 586V608M492.5 596V611M493.5 590V611M494.5 605V607M495.5 593V614M496.5 593V612M497.5 584V609M498.5 576V598M499.5 567V612M500.5 573V607M501.5 559V619M502.5 559V620M503.5 560V608M504.5 571V610M505.5 590V620M506.5 582V629M507.5 590V621M508.5 600V620M509.5 576V627M510.5 595V615M511.5 588V622M512.5 589V615M513.5 597V619M514.5 570V607M515.5 577V620M516.5 587V621M517.5 605V628M518.5 600V629M519.5 594V629M520.5 588V619M521.5 596V610M522.5 573V622M523.5 577V618M524.5 565V612M525.5 539V600M526.5 531V620M527.5 553V601M528.5 558V621M529.5 555V611M530.5 567V612M531.5 565V622M532.5 605V617M533.5 595V627M534.5 602V615M535.5 595V621M536.5 588V622M537.5 605V624M538.5 576V606M539.5 601V619M540.5 579V621M541.5 603V616M542.5 600V617M543.5 596V617M544.5 603V608M545.5 593V612M546.5 590V617M547.5 583V606M548.5 591V608M549.5 583V609M550.5 578V602M551.5 577V606M552.5 598V607M553.5 589V614M554.5 585V615M555.5 587V619M556.5 590V613M557.5 597V626M558.5 605V624M559.5 601V626M560.5 603V628M561.5 607V621M562.5 610V625M563.5 615V622M564.5 620V626M565.5 616V625M566.5 611V625M567.5 605V619M568.5 615V628M569.5 610V622M570.5 614V624M571.5 609V622M572.5 613V626M573.5 607V622M574.5 611V627M575.5 612V623M576.5 615V621M577.5 607V619M578.5 599V617M579.5 606V623M580.5 609V617M581.5 605V615M582.5 600V622M583.5 594V610M584.5 590V605M585.5 586V612M586.5 586V614M587.5 592V604M588.5 579V607M589.5 594V611M590.5 600V617M591.5 601V620M592.5 599V628M593.5 603V614M594.5 607V619M595.5 613V626M596.5 608V619M597.5 612V627M598.5 618V627M599.5 617V631M600.5 626V629M601.5 612V627M602.5 603V629M603.5 599V623M604.5 596V620M605.5 598V623M606.5 589V606M607.5 584V620M608.5 597V611M609.5 588V608M610.5 586V608M611.5 588V602M612.5 591V599M613.5 594V610M614.5 599V615M615.5 605V616M616.5 610V619M617.5 610V616M618.5 605V614M619.5 604V615" fill="none" stroke="#00c000" stroke-width="1" shape-rendering="crispEdges"/>
<path d="M134.5 590V598M135.5 588V598M136.5 586V597M137.5 586V598M138.5 588V602M139.5 595V604M140.5 586V600M141.5 582V599M142.5 584V595M143.5 577V589M144.5 576V588M145.5 575V590M146.5 575V590M147.5 580V595M148.5 579V601M149.5 586V606M150.5 595V612M151.5 601V619M152.5 596V616M153.5 584V609M154.5 596V616M155.5 608V625M156.5 609V626M157.5 610V628M158.5 613V626M159.5 608V628M160.5 602V625M161.5 612V623M162.5 601V620M163.5 587V620M164.5 583V619M165.5 582V617M166.5 579V616M167.5 581V615M168.5 594V612M169.5 596V620M170.5 591V619M171.5 596V621M172.5 597V621M173.5 601V619M174.5 593V613M175.5 583V616M176.5 572V610M177.5 565V609M178.5 555V600M179.5 539V599M180.5 521V600M181.5 527V606M182.5 528V616M183.5 537V617M184.5 521V610M185.5 531V601M186.5 513V596M187.5 539V599M188.5 544V597M189.5 552V601M190.5 557V604M191.5 559V606M192.5 544V605M193.5 551V596M194.5 548V603M195.5 564V607M196.5 555V604M197.5 562V608M198.5 561V608M199.5 584V607M200.5 565V608M201.5 554V607M202.5 554V609M203.5 552V609M204.5 552V609M205.5 561V603M206.5 549V605M207.5 578V606M208.5 543V601M209.5 541V596M210.5 548V606M211.5 549V611M212.5 546V616M213.5 560V615M214.5 561V617M215.5 559V615M216.5 567V614M217.5 571V619M218.5 570V616M219.5 576V615M220.5 571V615M221.5 576V611M222.5 594V616M223.5 570V611M224.5 576V603M225.5 575V597M226.5 569V609M227.5 593V613M228.5 572V612M229.5 574V609M230.5 593V610M231.5 582V614M232.5 585V615M233.5 577V611M234.5 573V607M235.5 571V608M236.5 568V606M237.5 571V606M238.5 574V609M239.5 570V619M240.5 568V611M241.5 571V610M242.5 575V605M243.5 572V611M244.5 585V612M245.5 590V609M246.5 584V612M247.5 579V610M248.5 575V607M249.5 572V605M250.5 566V600M251.5 565V597M252.5 566V596M253.5 567V592M254.5 555V593M255.5 546V588M256.5 539V586M257.5 544V584M258.5 547V586M259.5 540V591M260.5 540V603M261.5 531V603M262.5 539V600M263.5 564V606M264.5 526V604M265.5 537V610M266.5 541V609M267.5 529V610M268.5 538V606M269.5 552V606M270.5 549V614M271.5 563V609M272.5 544V609M273.5 545V606M274.5 545V601M275.5 537V597M276.5 554V597M277.5 538V594M278.5 548V595M279.5 535V594M280.5 542V604M281.5 548V605M282.5 529V600M283.5 523V590M284.5 516V601M285.5 528V601M286.5 552V598M287.5 547V595M288.5 536V587M289.5 562V597M290.5 568V617M291.5 570V613M292.5 569V620M293.5 582V615M294.5 586V616M295.5 593V616M296.5 580V612M297.5 577V613M298.5 578V609M299.5 569V607M300.5 565V610M301.5 562V610M302.5 558V608M303.5 556V613M304.5 565V616M305.5 568V614M306.5 574V621M307.5 592V620M308.5 587V620M309.5 598V623M310.5 588V622M311.5 591V617M312.5 585V621M313.5 588V620M314.5 575V618M315.5 580V623M316.5 605V618M317.5 583V616M318.5 594V623M319.5 589V620M320.5 601V634M321.5 602V624M322.5 598V628M323.5 602V629M324.5 594V634M325.5 594V633M326.5 595V631M327.5 597V627M328.5 594V624M329.5 610V630M330.5 588V614M331.5 598V626M332.5 579V628M333.5 571V627M334.5 562V619M335.5 544V603M336.5 544V621M337.5 542V609M338.5 550V587M339.5 578V616M340.5 546V624M341.5 544V606M342.5 549V630M343.5 558V615M344.5 580V625M345.5 576V622M346.5 591V625M347.5 602V622M348.5 587V629M349.5 589V627M350.5 597V633M351.5 608V634M352.5 599V634M353.5 597V634M354.5 593V634M355.5 602V631M356.5 610V624M357.5 594V623M358.5 604V621M359.5 573V618M360.5 559V618M361.5 563V620M362.5 559V620M363.5 559V629M364.5 537V620M365.5 545V617M366.5 555V632M367.5 550V618M368.5 531V610M369.5 569V611M370.5 567V633M371.5 566V634M372.5 567V623M373.5 569V614M374.5 565V627M375.5 558V620M376.5 553V604M377.5 573V601M378.5 568V615M379.5 571V603M380.5 569V620M381.5 597V604M382.5 565V619M383.5 577V629M384.5 588V630M385.5 593V634M386.5 607V633M387.5 587V634M388.5 593V631M389.5 573V627M390.5 569V634M391.5 556V610M392.5 575V634M393.5 566V602M394.5 560V634M395.5 568V616M396.5 561V619M397.5 573V634M398.5 576V634M399.5 571V634M400.5 566V624M401.5 560V609M402.5 549V616M403.5 545V592M404.5 550V631M405.5 552V596M406.5 520V586M407.5 535V621M408.5 551V633M409.5 558V629M410.5 554V610M411.5 571V634M412.5 565V634M413.5 556V622M414.5 550V599M415.5 524V598M416.5 518V605M417.5 519V634M418.5 517V634M419.5 559V634M420.5 519V634M421.5 551V629M422.5 539V616M423.5 548V614M424.5 538V629M425.5 539V634M426.5 540V634M427.5 536V634M428.5 544V613M429.5 529V595M430.5 523V634M431.5 522V631M432.5 505V585M433.5 513V634M434.5 542V608M435.5 525V586M436.5 521V612M437.5 571V601M438.5 551V634M439.5 548V634M440.5 548V617M441.5 519V607M442.5 541V595M443.5 573V632M444.5 553V634M445.5 603V634M446.5 570V624M447.5 585V626M448.5 602V634M449.5 576V632M450.5 569V628M451.5 592V620M452.5 580V632M453.5 577V610M454.5 559V621M455.5 553V618M456.5 563V634M457.5 575V611M458.5 578V633M459.5 585V620M460.5 581V622M461.5 581V623M462.5 561V621M463.5 565V608M464.5 555V588M465.5 576V602M466.5 587V589M467.5 567V603M468.5 579V602M469.5 563V608M470.5 562V601M471.5 562V596M472.5 559V589M473.5 569V606M474.5 568V607M475.5 573V602M476.5 582V612M477.5 596V623M478.5 601V621M479.5 592V621M480.5 596V607M481.5 589V608M482.5 586V608M483.5 587V611M484.5 592V610M485.5 598V603M486.5 593V610M487.5 589V604M488.5 589V610M489.5 587V608M490.5 588V610M491.5 596V600M492.5 599V609M493.5 596V613M494.5 594V617M495.5 595V611M496.5 592V616M497.5 587V611M498.5 586V598M499.5 568V622M500.5 571V609M501.5 568V600M502.5 558V634M503.5 556V602M504.5 567V616M505.5 581V617M506.5 585V628M507.5 596V633M508.5 582V630M509.5 586V634M510.5 590V627M511.5 590V613M512.5 582V624M513.5 583V608M514.5 594V629M515.5 587V613M516.5 590V626M517.5 600V632M518.5 602V628M519.5 597V621M520.5 591V621M521.5 589V619M522.5 576V621M523.5 563V609M524.5 551V592M525.5 537V619M526.5 541V611M527.5 544V608M528.5 551V595M529.5 559V627M530.5 563V609M531.5 568V604M532.5 579V626M533.5 592V625M534.5 595V630M535.5 593V630M536.5 587V631M537.5 583V620M538.5 602V608M539.5 573V616M540.5 592V625M541.5 591V627M542.5 598V628M543.5 599V623M544.5 601V625M545.5 598V620M546.5 591V604M547.5 588V610M548.5 586V615M549.5 588V616M550.5 580V614M551.5 574V617M552.5 597V613M553.5 586V612M554.5 594V609M555.5 600V614M556.5 593V620M557.5 602V628M558.5 604V621M559.5 606V620M560.5 607V625M561.5 611V621M562.5 613V625M563.5 619V626M564.5 619V625M565.5 616V627M566.5 612V629M567.5 608V627M568.5 611V626M569.5 612V630M570.5 614V626M571.5 614V624M572.5 621V626M573.5 610V625M574.5 613V622M575.5 616V625M576.5 612V627M577.5 608V627M578.5 603V623M579.5 609V627M580.5 611V622M581.5 604V618M582.5 604V619M583.5 602V612M584.5 593V610M585.5 597V610M586.5 586V617M587.5 584V608M588.5 586V619M589.5 593V626M590.5 596V625M591.5 601V630M592.5 600V619M593.5 599V619M594.5 597V614M595.5 604V620M596.5 611V632M597.5 618V629M598.5 618V632M599.5 619V632M600.5 621V633M601.5 617V633M602.5 607V626M603.5 602V628M604.5 597V614M605.5 605V628M606.5 594V610M607.5 585V620M608.5 590V606M609.5 588V613M610.5 587V609M611.5 595V604M612.5 591V604M613.5 597V607M614.5 602V615M615.5 611V621M616.5 612V619M617.5 610V619M618.5 606V615M619.5 604V612" fill="none" stroke="#c000ff" stroke-width="1" shape-rendering="crispEdges"/>
<path d="M302.5 615V631M303.5 609V633M306.5 610V634M307.5 624V632M310.5 614V634M312.5 617V634M315.5 616V633M318.5 629V634M324.5 619V634M326.5 621V633M329.5 621V634M332.5 627V634M338.5 611V632M339.5 620V633M340.5 620V634M341.5 614V634M342.5 615V634M345.5 622V634M351.5 627V633M357.5 608V632M359.5 625V631M361.5 615V634M366.5 615V634M367.5 608V634M369.5 610V633M370.5 627V632M372.5 625V634M373.5 623V634M375.5 622V634M379.5 616V633M381.5 619V633M384.5 622V634M387.5 620V634M388.5 624V634M389.5 616V633M397.5 621V628M403.5 593V630M408.5 612V634M409.5 620V628M412.5 609V633M414.5 601V633M417.5 600V634M418.5 615V634M421.5 612V634M422.5 599V633M432.5 592V626M433.5 588V632M434.5 607V634M437.5 617V631M438.5 616V632M441.5 616V634M444.5 607V634M451.5 618V632M452.5 623V634M454.5 617V631M455.5 597V631M457.5 622V633M460.5 624V633M463.5 611V630M468.5 610V633M479.5 627V634M481.5 628V634M482.5 624V634M487.5 611V633M491.5 629V634M492.5 624V634M493.5 624V632M494.5 625V634M499.5 602V631M500.5 598V631M501.5 610V633M504.5 606V634M507.5 615V630M509.5 618V630M510.5 622V634M511.5 617V634M515.5 628V633M516.5 627V633M518.5 624V634M519.5 626V631M520.5 624V634M522.5 625V634M525.5 615V634M526.5 608V633M530.5 623V632M533.5 621V632M535.5 617V633M538.5 613V634M542.5 628V634M546.5 621V634M550.5 616V632M554.5 621V633M555.5 618V632M558.5 627V632M559.5 627V634M563.5 627V634M569.5 624V634M575.5 627V634M586.5 617V634M587.5 623V634M590.5 625V634M595.5 622V632M597.5 626V634M598.5 630V634M602.5 626V634M604.5 630V634M608.5 625V634M616.5 629V634M617.5 629V633" fill="none" stroke="#ff0000" stroke-width="1" shape-rendering="crispEdges"/>
</g>
<g id="p5">
<path d="M134.5 698V701M135.5 699V705M136.5 704V712M137.5 709V713M138.5 696V710M139.5 687V697M140.5 675V688M141.5 675V679M142.5 678V685M143.5 684V689M144.5 688V696M145.5 688V696M146.5 686V689M147.5 684V687M148.5 681V685M149.5 676V682M150.5 671V677M151.5 670V673M152.5 672V680M153.5 676V680M154.5 670V677M155.5 665V671M156.5 661V666" fill="none" stroke="#ff0000" stroke-width="1" shape-rendering="crispEdges"/>
<path d="M159.5 653V676M160.5 660V678M161.5 657V677M162.5 652V671M163.5 658V671M164.5 656V663M165.5 661V668M166.5 653V669M167.5 653V668M168.5 660V669M169.5 661V670M170.5 661V675M171.5 663V675M172.5 654V670M173.5 658V670M174.5 659V664M175.5 659V671M176.5 661V670M177.5 661V672M178.5 665V675M179.5 667V685M180.5 670V685M181.5 663V678M182.5 658V670M183.5 660V672M184.5 661V678M185.5 661V678M186.5 664V671M187.5 658V675M188.5 653V664M189.5 651V671M190.5 656V671M191.5 663V675M192.5 664V687M193.5 668V695M194.5 669V690M195.5 666V678M196.5 665V677M197.5 664V677M198.5 663V675M199.5 664V675M200.5 664V676M201.5 667V677M202.5 662V677M203.5 665V676M204.5 660V675M205.5 663V673M206.5 664V672M207.5 662V673M208.5 666V671M209.5 669V676M210.5 666V679M211.5 663V677M212.5 663V684M213.5 664V682M214.5 665V678M215.5 665V676M216.5 658V675M217.5 653V668M218.5 660V667M219.5 660V669M220.5 661V671M221.5 661V670M222.5 660V669M223.5 658V668M224.5 656V667M225.5 655V668M226.5 658V670M227.5 658V672M228.5 667V672M229.5 664V675M230.5 673V677M231.5 670V682M232.5 668V680M233.5 666V676M234.5 665V675M235.5 658V669M236.5 658V669M237.5 659V669M238.5 657V665M239.5 658V667M240.5 656V667M241.5 653V667M242.5 656V668M243.5 654V668M244.5 655V668M245.5 656V672M246.5 660V668M247.5 657V666M248.5 658V671M249.5 663V674M250.5 666V674M251.5 666V673M252.5 668V675M253.5 667V676M254.5 669V676M255.5 670V676M256.5 670V675M257.5 669V675M258.5 669V675M259.5 664V674M260.5 662V670M261.5 659V670M262.5 658V672M263.5 656V672M264.5 652V664M265.5 651V664M266.5 652V658M267.5 649V658M268.5 652V665M269.5 657V666M270.5 660V673M271.5 662V679M272.5 661V670M273.5 661V672M274.5 659V671M275.5 661V671M276.5 661V672M277.5 663V668M278.5 662V673M279.5 662V672M280.5 661V672M281.5 657V669M282.5 655V668M283.5 654V670M284.5 657V670M285.5 657V671M286.5 664V675M287.5 667V680M288.5 667V685M289.5 670V686M290.5 676V693M291.5 677V696M292.5 681V693M293.5 685V703M294.5 686V701M295.5 681V695M296.5 677V689M297.5 677V687M298.5 676V691M299.5 680V691M300.5 679V696M301.5 680V698M302.5 687V702M303.5 687V700M304.5 692V705M305.5 690V703M306.5 692V710M307.5 699V714M308.5 703V719M309.5 707V724M310.5 710V726M311.5 704V722M312.5 697V714M313.5 696V711M314.5 691V706M315.5 686V703M316.5 683V695M317.5 678V693M318.5 676V695M319.5 669V710M320.5 668V698M321.5 670V699M322.5 672V694M323.5 670V703M324.5 683V701M325.5 672V700M326.5 673V694M327.5 668V691M328.5 668V695M329.5 663V689M330.5 665V683M331.5 665V681M332.5 649V696M333.5 654V690M334.5 662V682M335.5 667V682M336.5 660V678M337.5 659V681M338.5 655V681M339.5 652V677M340.5 652V677M341.5 654V680M342.5 659V673M343.5 661V673M344.5 662V678M345.5 655V678M346.5 660V682M347.5 659V681M348.5 655V688M349.5 658V687M350.5 657V683M351.5 654V697M352.5 651V703M353.5 651V705M354.5 651V691M355.5 649V701M356.5 652V706M357.5 655V705M358.5 656V705M359.5 656V690M360.5 665V689M361.5 665V691M362.5 664V682M363.5 669V691M364.5 664V688M365.5 668V681M366.5 654V690M367.5 663V693M368.5 674V689M369.5 668V692M370.5 655V682M371.5 655V693M372.5 655V684M373.5 656V693M374.5 673V703M375.5 654V694M376.5 649V707M377.5 649V709M378.5 651V703M379.5 663V698M380.5 673V713M381.5 677V693M382.5 666V687M383.5 663V706M384.5 654V688M385.5 651V713M386.5 678V708M387.5 672V696M388.5 670V699M389.5 667V691M390.5 674V695M391.5 656V702M392.5 652V701M393.5 653V705M394.5 658V703M395.5 657V706M396.5 657V704M397.5 656V707M398.5 657V720M399.5 665V725M400.5 663V719M401.5 662V708M402.5 651V694M403.5 658V692M404.5 669V692M405.5 657V692M406.5 668V694M407.5 651V691M408.5 660V690M409.5 656V689M410.5 665V688M411.5 668V682M412.5 669V683M413.5 667V684M414.5 666V684M415.5 667V686M416.5 667V687M417.5 668V689M418.5 666V679M419.5 653V690M420.5 652V673M421.5 652V674M422.5 655V668M423.5 652V675M424.5 652V671M425.5 660V683M426.5 670V682M427.5 661V684M428.5 663V688M429.5 657V688M430.5 665V691M431.5 669V687M432.5 670V690M433.5 673V689M434.5 669V691M435.5 665V697M436.5 665V698M437.5 659V691M438.5 656V693M439.5 667V693M440.5 677V699M441.5 671V689M442.5 668V695M443.5 671V695M444.5 657V693M445.5 651V673M446.5 651V685M447.5 654V690M448.5 663V682M449.5 667V700M450.5 659V693M451.5 652V683M452.5 651V675M453.5 655V685M454.5 651V685M455.5 651V684M456.5 660V672M457.5 649V680M458.5 660V674M459.5 650V681M460.5 651V691" fill="none" stroke="#ff0000" stroke-width="1" shape-rendering="crispEdges"/>
<path d="M460.5 750V782M461.5 752V782M462.5 756V782M463.5 761V782M464.5 759V778M465.5 759V775M466.5 763V774M467.5 764V775M468.5 757V772M469.5 750V772M470.5 763V772M471.5 759V770M472.5 755V766M473.5 753V768M474.5 753V769M475.5 753V769M476.5 756V768M477.5 763V775M478.5 762V775M479.5 762V776M480.5 767V776M481.5 753V776M482.5 755V771M483.5 756V767M484.5 748V761M485.5 758V766M486.5 759V774M487.5 768V772M488.5 765V774M489.5 767V772M490.5 764V770M491.5 762V769M492.5 762V766M493.5 756V768M494.5 754V770M495.5 754V772M496.5 759V770M497.5 768V778M498.5 760V775M499.5 754V770M500.5 754V768M501.5 708V764M502.5 671V743M503.5 676V707M504.5 691V720M505.5 695V720M506.5 700V726M507.5 684V726M508.5 691V726M509.5 709V731M510.5 714V739M511.5 718V739M512.5 695V730M513.5 683V725M514.5 666V716M515.5 670V717M516.5 680V714M517.5 681V709M518.5 676V709M519.5 666V693M520.5 678V699M521.5 682V707M522.5 682V726M523.5 686V719M524.5 673V693M525.5 671V693M526.5 666V698M527.5 669V696M528.5 669V681M529.5 670V691M530.5 667V686M531.5 667V693M532.5 662V685M533.5 658V691M534.5 665V698M535.5 669V702M536.5 679V706M537.5 684V706M538.5 683V702M539.5 675V702M540.5 658V704M541.5 656V693M542.5 652V687M543.5 658V686M544.5 673V686M545.5 671V683M546.5 671V686M547.5 673V690M548.5 649V690" fill="none" stroke="#ff0000" stroke-width="1" shape-rendering="crispEdges"/>
<path d="M571.5 737V770M572.5 737V770M573.5 735V762M574.5 736V771M575.5 750V778M576.5 750V763M577.5 759V769M578.5 757V771M579.5 755V771M580.5 747V767M581.5 746V767M582.5 747V755M583.5 740V751M584.5 735V743M585.5 728V743M586.5 724V739M587.5 728V737M588.5 728V734M589.5 706V736M590.5 694V724M591.5 697V718M592.5 710V726M593.5 702V720M594.5 699V712M595.5 696V710M596.5 685V706M597.5 669V705M598.5 678V720M599.5 706V725M600.5 721V732M601.5 713V728M602.5 710V721M603.5 708V717M604.5 709V718M605.5 713V745M606.5 721V772M607.5 746V780M608.5 764V778M609.5 762V774M610.5 760V769M611.5 761V767M612.5 759V763M613.5 753V763M614.5 753V757M615.5 746V755M616.5 740V752M617.5 740V746M618.5 743V748" fill="none" stroke="#ff0000" stroke-width="1" shape-rendering="crispEdges"/>
<rect x="156.2" y="649.5" width="3.6" height="140.6" fill="#ff0000" shape-rendering="crispEdges"/>
<rect x="215.8" y="649.5" width="1.0" height="140.6" fill="#ff0000" shape-rendering="crispEdges"/>
<rect x="320.0" y="690.9" width="1.0" height="90.6" fill="#ff0000" shape-rendering="crispEdges"/>
<rect x="331.7" y="675.2" width="1.0" height="110.9" fill="#ff0000" shape-rendering="crispEdges"/>
<rect x="335.9" y="675.2" width="1.0" height="110.2" fill="#ff0000" shape-rendering="crispEdges"/>
<rect x="346.8" y="675.2" width="1.0" height="101.6" fill="#ff0000" shape-rendering="crispEdges"/>
<rect x="349.8" y="649.5" width="1.6" height="140.6" fill="#ff0000" shape-rendering="crispEdges"/>
<rect x="351.5" y="649.5" width="1.0" height="140.6" fill="#ff0000" shape-rendering="crispEdges"/>
<rect x="352.8" y="659.6" width="1.0" height="128.1" fill="#ff0000" shape-rendering="crispEdges"/>
<rect x="354.5" y="649.5" width="2.5" height="140.6" fill="#ff0000" shape-rendering="crispEdges"/>
<rect x="357.6" y="649.5" width="3.3" height="140.6" fill="#ff0000" shape-rendering="crispEdges"/>
<rect x="356.9" y="649.5" width="1.2" height="119.5" fill="#ff0000" shape-rendering="crispEdges"/>
<rect x="369.2" y="675.2" width="1.0" height="112.5" fill="#ff0000" shape-rendering="crispEdges"/>
<rect x="370.3" y="675.2" width="1.0" height="100.0" fill="#ff0000" shape-rendering="crispEdges"/>
<rect x="372.0" y="675.2" width="1.0" height="64.1" fill="#ff0000" shape-rendering="crispEdges"/>
<rect x="375.9" y="675.2" width="1.0" height="48.4" fill="#ff0000" shape-rendering="crispEdges"/>
<rect x="377.1" y="649.5" width="1.8" height="140.6" fill="#ff0000" shape-rendering="crispEdges"/>
<rect x="380.6" y="675.2" width="1.0" height="39.1" fill="#ff0000" shape-rendering="crispEdges"/>
<rect x="382.9" y="675.2" width="1.0" height="90.6" fill="#ff0000" shape-rendering="crispEdges"/>
<rect x="385.9" y="675.2" width="1.0" height="102.3" fill="#ff0000" shape-rendering="crispEdges"/>
<rect x="391.0" y="659.6" width="1.4" height="130.5" fill="#ff0000" shape-rendering="crispEdges"/>
<rect x="392.4" y="659.6" width="1.4" height="130.5" fill="#ff0000" shape-rendering="crispEdges"/>
<rect x="394.5" y="675.2" width="1.0" height="112.5" fill="#ff0000" shape-rendering="crispEdges"/>
<rect x="396.9" y="659.6" width="1.8" height="130.5" fill="#ff0000" shape-rendering="crispEdges"/>
<rect x="399.7" y="675.2" width="1.0" height="106.2" fill="#ff0000" shape-rendering="crispEdges"/>
<rect x="405.1" y="659.6" width="1.0" height="125.8" fill="#ff0000" shape-rendering="crispEdges"/>
<rect x="407.1" y="659.6" width="1.8" height="126.6" fill="#ff0000" shape-rendering="crispEdges"/>
<rect x="409.8" y="659.6" width="1.0" height="93.8" fill="#ff0000" shape-rendering="crispEdges"/>
<rect x="415.0" y="675.2" width="1.0" height="113.3" fill="#ff0000" shape-rendering="crispEdges"/>
<rect x="422.0" y="675.2" width="1.0" height="106.2" fill="#ff0000" shape-rendering="crispEdges"/>
<rect x="429.8" y="675.2" width="1.0" height="58.6" fill="#ff0000" shape-rendering="crispEdges"/>
<rect x="434.0" y="675.2" width="1.0" height="103.9" fill="#ff0000" shape-rendering="crispEdges"/>
<rect x="437.0" y="675.2" width="1.6" height="114.8" fill="#ff0000" shape-rendering="crispEdges"/>
<rect x="445.8" y="649.5" width="1.0" height="140.6" fill="#ff0000" shape-rendering="crispEdges"/>
<rect x="449.7" y="665.9" width="2.2" height="124.2" fill="#ff0000" shape-rendering="crispEdges"/>
<rect x="454.6" y="649.5" width="3.0" height="140.6" fill="#ff0000" shape-rendering="crispEdges"/>
<rect x="460.1" y="651.8" width="1.0" height="138.3" fill="#ff0000" shape-rendering="crispEdges"/>
<rect x="505.8" y="697.1" width="1.5" height="84.4" fill="#ff0000" shape-rendering="crispEdges"/>
<rect x="517.8" y="687.8" width="1.0" height="102.3" fill="#ff0000" shape-rendering="crispEdges"/>
<rect x="507.3" y="683.1" width="1.0" height="93.8" fill="#ff0000" shape-rendering="crispEdges"/>
<rect x="510.8" y="712.8" width="1.0" height="31.2" fill="#ff0000" shape-rendering="crispEdges"/>
<rect x="522.2" y="675.2" width="1.0" height="53.1" fill="#ff0000" shape-rendering="crispEdges"/>
<rect x="547.9" y="649.5" width="1.0" height="138.2" fill="#ff0000" shape-rendering="crispEdges"/>
<rect x="549.6" y="649.5" width="4.2" height="140.6" fill="#ff0000" shape-rendering="crispEdges"/>
<rect x="558.0" y="649.5" width="3.6" height="140.6" fill="#ff0000" shape-rendering="crispEdges"/>
<rect x="567.9" y="649.5" width="3.6" height="140.6" fill="#ff0000" shape-rendering="crispEdges"/>
<rect x="565.6" y="681.5" width="1.6" height="78.1" fill="#ff0000" shape-rendering="crispEdges"/>
<rect x="564.6" y="728.4" width="1.2" height="56.2" fill="#ff0000" shape-rendering="crispEdges"/>
<rect x="554.2" y="756.5" width="4.0" height="33.6" fill="#ff0000" shape-rendering="crispEdges"/>
<rect x="561.3" y="769.0" width="3.0" height="21.1" fill="#ff0000" shape-rendering="crispEdges"/>
<rect x="552.4" y="765.9" width="3.0" height="24.2" fill="#ff0000" shape-rendering="crispEdges"/>
<rect x="556.3" y="776.8" width="3.0" height="13.3" fill="#ff0000" shape-rendering="crispEdges"/>
<rect x="559.8" y="776.8" width="3.0" height="13.3" fill="#ff0000" shape-rendering="crispEdges"/>
<rect x="572.0" y="737.8" width="1.0" height="43.8" fill="#ff0000" shape-rendering="crispEdges"/>
<rect x="597.0" y="666.7" width="1.4" height="39.8" fill="#ff0000" shape-rendering="crispEdges"/>
<rect x="590.1" y="691.7" width="1.0" height="30.5" fill="#ff0000" shape-rendering="crispEdges"/>
<rect x="574.0" y="734.6" width="1.0" height="34.4" fill="#ff0000" shape-rendering="crispEdges"/>
<rect x="501.8" y="669.8" width="1.0" height="75.8" fill="#ff0000" shape-rendering="crispEdges"/>
<rect x="513.9" y="665.9" width="1.0" height="51.6" fill="#ff0000" shape-rendering="crispEdges"/>
<rect x="519.0" y="665.9" width="1.0" height="40.6" fill="#ff0000" shape-rendering="crispEdges"/>
<rect x="508.1" y="683.1" width="1.0" height="42.2" fill="#ff0000" shape-rendering="crispEdges"/>
<rect x="532.8" y="658.1" width="1.5" height="32.8" fill="#ff0000" shape-rendering="crispEdges"/>
<rect x="541.9" y="651.8" width="1.5" height="28.1" fill="#ff0000" shape-rendering="crispEdges"/>
<rect x="526.1" y="665.9" width="1.0" height="31.2" fill="#ff0000" shape-rendering="crispEdges"/>
<rect x="594.8" y="692.4" width="1.0" height="18.8" fill="#ff0000" shape-rendering="crispEdges"/>
</g>
<g id="p6">
<path d="M135.5 916V917M136.5 916V917M137.5 915V917M138.5 915V917M139.5 914V917M140.5 912V915M141.5 912V914M142.5 911V913M143.5 911V913M144.5 910V913M145.5 910V912M146.5 909V911M147.5 909V911M148.5 908V910M149.5 908V909M150.5 908V909M151.5 908V910M152.5 908V910M153.5 907V909M154.5 907V909M155.5 907V909M156.5 907V908M157.5 906V908M158.5 906V908M159.5 905V907M160.5 905V906M161.5 904V906M162.5 904V906M163.5 904V905M164.5 903V905M165.5 902V904M166.5 901V903M167.5 901V903M168.5 901V902M169.5 900V902M170.5 899V901M171.5 898V900M172.5 897V899M173.5 896V898M174.5 896V897M175.5 896V897M176.5 895V897M177.5 895V896M178.5 894V896M179.5 894V895M180.5 894V896M181.5 894V896M182.5 894V895M183.5 894V895M184.5 893V895M185.5 892V894M186.5 892V894M187.5 892V894M188.5 892V894M189.5 891V894M190.5 890V892M191.5 889V892M192.5 888V890M193.5 888V889M194.5 887V889M195.5 886V888M196.5 885V887M197.5 885V887M198.5 885V887M199.5 885V887M200.5 885V887M201.5 885V886M202.5 885V886M203.5 884V886M204.5 884V885M205.5 883V885M206.5 882V884M207.5 882V883M208.5 882V884M209.5 882V883M210.5 882V883M211.5 881V883M212.5 881V882M213.5 881V882M214.5 881V883M215.5 881V883M216.5 881V883M217.5 881V883M218.5 880V882M219.5 879V881M220.5 879V881M221.5 878V880M222.5 878V879M223.5 877V879M224.5 877V879M225.5 877V878M226.5 876V878M227.5 876V878M228.5 876V877M229.5 875V877M230.5 875V876M231.5 875V877M232.5 875V877M233.5 874V876M234.5 874V876M235.5 875V876M236.5 873V876M237.5 873V875M238.5 872V874M239.5 872V874M240.5 872V873M241.5 871V873M242.5 871V873M243.5 871V873M244.5 871V873M245.5 871V873M246.5 870V873M247.5 870V872M248.5 870V871M249.5 869V871M250.5 869V870M251.5 869V870M252.5 869V871M253.5 869V870M254.5 869V870M255.5 868V870M256.5 867V869M257.5 866V869M258.5 866V868M259.5 866V868M260.5 865V867M261.5 865V867M262.5 865V867M263.5 864V866M264.5 864V865M265.5 863V866M266.5 863V866M267.5 863V865M268.5 863V865M269.5 862V864M270.5 861V863M271.5 860V862M272.5 859V861M273.5 858V860M274.5 858V859M275.5 857V859M276.5 857V858M277.5 855V858M278.5 855V856M279.5 855V857M280.5 855V857M281.5 855V856M282.5 854V856M283.5 854V856M284.5 854V855M285.5 854V855M286.5 853V855M287.5 852V854M288.5 852V854M289.5 851V853M290.5 851V853M291.5 850V852M292.5 850V851M293.5 849V851M294.5 848V850M295.5 847V849M296.5 847V849M297.5 846V848M298.5 846V847M299.5 845V847M300.5 845V846M301.5 844V846M302.5 844V845M303.5 843V845M304.5 843V845M305.5 843V845M306.5 843V845M307.5 843V844M308.5 842V844M309.5 842V843M310.5 841V844M311.5 840V842M312.5 840V841M313.5 840V842M314.5 840V842M315.5 840V842M316.5 841V842M317.5 841V842M318.5 841V842M319.5 841V842M320.5 841V842M321.5 840V842M322.5 841V842M323.5 840V842M324.5 840V841M325.5 840V841M326.5 840V841M327.5 839V841M328.5 839V841M329.5 839V840M330.5 839V841M331.5 839V841M332.5 839V841M333.5 839V840M334.5 839V841M335.5 838V841M336.5 839V840M337.5 839V840M338.5 838V840M339.5 838V840M340.5 837V839M341.5 836V838M342.5 836V838M343.5 836V838M344.5 836V838M345.5 837V839M346.5 838V839M347.5 838V839M348.5 837V839M349.5 837V839M350.5 837V839M351.5 837V839M352.5 837V839M353.5 837V839M354.5 837V839M355.5 837V839M356.5 838V839M357.5 838V839M358.5 838V840M359.5 839V840M360.5 839V840M361.5 839V840M362.5 839V840M363.5 839V841M364.5 839V841M365.5 839V841M366.5 839V841M367.5 839V841M368.5 839V841M369.5 839V841M370.5 839V841M371.5 840V842M372.5 840V841M373.5 840V841M374.5 840V841M375.5 840V841M376.5 840V842M377.5 840V842M378.5 839V842M379.5 840V842M380.5 840V842M381.5 839V842M382.5 839V841M383.5 840V842M384.5 840V842M385.5 840V841M386.5 840V842M387.5 841V842M388.5 840V842M389.5 841V842M390.5 841V843M391.5 841V843M392.5 841V843M393.5 840V842M394.5 840V842M395.5 840V842M396.5 840V841M397.5 840V841M398.5 840V841M399.5 840V841M400.5 839V841M401.5 840V841M402.5 839V841M403.5 838V840M404.5 839V840M405.5 838V840M406.5 838V840M407.5 838V840M408.5 838V840M409.5 838V839M410.5 837V839M411.5 837V838M412.5 837V838M413.5 837V838M414.5 836V838M415.5 836V837M416.5 836V837M417.5 835V837M418.5 835V837M419.5 835V836M420.5 834V836M421.5 834V836M422.5 833V835M423.5 833V835M424.5 833V835M425.5 833V834M426.5 832V834M427.5 832V833M428.5 832V833M429.5 831V833M430.5 831V833M431.5 831V832M432.5 831V832M433.5 830V832M434.5 829V831M435.5 829V830M436.5 829V831M437.5 829V831M438.5 829V831M439.5 830V831M440.5 829V831M441.5 829V831M442.5 829V831M443.5 829V831M444.5 829V832M445.5 830V831M446.5 830V831M447.5 830V832M448.5 830V832M449.5 830V831M450.5 830V831M451.5 829V831M452.5 829V831M453.5 829V831M454.5 829V831M455.5 829V831M456.5 829V831M457.5 829V831M458.5 828V830M459.5 828V830M460.5 829V830M461.5 829V831M462.5 829V830M463.5 829V831M464.5 829V831M465.5 828V830M466.5 828V830M467.5 828V829M468.5 828V830M469.5 827V829M470.5 827V828M471.5 826V828M472.5 826V827M473.5 825V827M474.5 824V826M475.5 823V825M476.5 822V824M477.5 822V823M478.5 822V823M479.5 822V823M480.5 822V823M481.5 821V823M482.5 821V823M483.5 821V823M484.5 821V823M485.5 820V822M486.5 820V822M487.5 820V822M488.5 820V822M489.5 820V822M490.5 820V822M491.5 820V822M492.5 820V821M493.5 820V821M494.5 819V821M495.5 819V821M496.5 820V821M497.5 820V821M498.5 820V821M499.5 819V821M500.5 819V821M501.5 819V820M502.5 818V820M503.5 819V820M504.5 818V820M505.5 818V819M506.5 818V819M507.5 817V819M508.5 817V818M509.5 817V818M510.5 816V818M511.5 816V817M512.5 815V817M513.5 815V817M514.5 816V817M515.5 815V817M516.5 815V816M517.5 815V817M518.5 815V817M519.5 815V816M520.5 815V816M521.5 814V816M522.5 814V816M523.5 815V816M524.5 815V816M525.5 814V816M526.5 814V816M527.5 814V816M528.5 814V816M529.5 814V816M530.5 814V815M531.5 814V815M532.5 814V816M533.5 814V815M534.5 814V816M535.5 814V816M536.5 814V816M537.5 814V815M538.5 813V815M539.5 813V815M540.5 813V815M541.5 813V815M542.5 813V815M543.5 813V814M544.5 813V814M545.5 812V814M546.5 813V815M547.5 813V815M548.5 813V814M549.5 813V814M550.5 813V814M551.5 812V814M552.5 813V814M553.5 812V814M554.5 812V813M555.5 812V814M556.5 812V814M557.5 811V813M558.5 811V813M559.5 812V813M560.5 812V813M561.5 811V813M562.5 811V813M563.5 811V813M564.5 811V813M565.5 811V813M566.5 811V813M567.5 812V813M568.5 812V814M569.5 813V814M570.5 813V814M571.5 813V814M572.5 813V815M573.5 813V815M574.5 813V815M575.5 813V815M576.5 814V815M577.5 814V815M578.5 814V815M579.5 814V815M580.5 813V815M581.5 813V815M582.5 813V815M583.5 813V815M584.5 813V815M585.5 813V815M586.5 813V815M587.5 813V815M588.5 813V814M589.5 813V814M590.5 813V814M591.5 813V815M592.5 813V815M593.5 813V814M594.5 813V814M595.5 813V814M596.5 813V814M597.5 812V814M598.5 813V814M599.5 812V814M600.5 812V813M601.5 812V813M602.5 812V814M603.5 812V814M604.5 812V814M605.5 813V814M606.5 813V814M607.5 812V814M608.5 812V814M609.5 812V814M610.5 812V813M611.5 812V813M612.5 812V814M613.5 812V814M614.5 812V814M615.5 812V814M616.5 812V814M617.5 812V813M618.5 812V813M619.5 812V813" fill="none" stroke="#ff0000" stroke-width="1" shape-rendering="crispEdges"/>
</g>
<g id="p7">
<path d="M775.5 60V61M776.5 51V70M777.5 60V70M778.5 69V70M779.5 69V70M780.5 69V79M781.5 69V70M782.5 69V70M783.5 69V70M784.5 69V70M785.5 69V70M786.5 69V79M787.5 69V79M788.5 69V70M789.5 69V70M790.5 69V70M791.5 69V79M792.5 78V79M793.5 69V79M794.5 69V70M795.5 69V70M796.5 60V70M797.5 60V70M798.5 69V70M799.5 69V70M800.5 69V70M801.5 69V70M802.5 69V70M803.5 60V70M804.5 69V70M805.5 69V70M806.5 69V70M807.5 60V70M808.5 60V70M809.5 60V70M810.5 60V70M811.5 60V61M812.5 60V61M813.5 60V61M814.5 60V61M815.5 60V70M816.5 60V61M817.5 51V61M818.5 51V61M819.5 51V61M820.5 51V61M821.5 60V61M822.5 60V61M823.5 60V70M824.5 60V70M825.5 60V61M826.5 51V61M827.5 51V52M828.5 51V52M829.5 51V61M830.5 51V61M831.5 51V61M832.5 60V61M833.5 60V70M834.5 69V70M835.5 69V70M836.5 60V70M837.5 51V61M838.5 51V61M839.5 60V61M840.5 60V61M841.5 60V61M842.5 60V70M843.5 60V61M844.5 60V61M845.5 60V70M846.5 69V70M847.5 60V70M848.5 60V70M849.5 60V70M850.5 60V70M851.5 60V70M852.5 60V61M853.5 51V61M854.5 60V61M855.5 60V61M856.5 51V61M857.5 51V52M858.5 51V52M859.5 51V52M860.5 51V61M861.5 60V61M862.5 60V61M863.5 60V61M864.5 60V61M865.5 60V61M866.5 60V61M867.5 60V61M868.5 51V61M869.5 51V52M870.5 51V61M871.5 51V61M872.5 51V61M873.5 51V61M874.5 51V61M875.5 60V61M876.5 60V61M877.5 51V61M878.5 51V52M879.5 51V61M880.5 60V61M881.5 60V61M882.5 60V79M883.5 78V88M884.5 78V88M885.5 78V88M886.5 69V79M887.5 51V70M888.5 43V52M889.5 51V52M890.5 51V52M891.5 51V61M892.5 51V61M893.5 51V52M894.5 51V52M895.5 51V52M896.5 51V52M897.5 43V52M898.5 43V52M899.5 51V70M900.5 60V70M901.5 60V79M902.5 60V70M903.5 51V61M904.5 43V52M905.5 43V52M906.5 34V44M907.5 43V44M908.5 43V70M909.5 69V88M910.5 87V88M911.5 69V88M912.5 69V79M913.5 69V79M914.5 69V79M915.5 60V79M916.5 78V79M917.5 69V88M918.5 69V88M919.5 78V79M920.5 78V88M921.5 87V88M922.5 78V88M923.5 87V88M924.5 78V88M925.5 78V88M926.5 78V88M927.5 78V88M928.5 78V88M929.5 87V88M930.5 87V97M931.5 87V97M932.5 96V97M933.5 96V97M934.5 96V97M935.5 87V97M936.5 87V97M937.5 69V123M938.5 43V70M939.5 34V70M940.5 25V61M941.5 60V88M942.5 60V88M943.5 60V79M944.5 60V70M945.5 69V70M946.5 69V79M947.5 69V79M948.5 69V70M949.5 60V70M950.5 69V70M951.5 69V70M952.5 69V70M953.5 69V79M954.5 69V79M955.5 69V70M956.5 69V70M957.5 69V70M958.5 69V70M959.5 69V70M960.5 69V70M961.5 69V70M962.5 69V79M963.5 78V79M964.5 78V79M965.5 69V79M966.5 69V79M967.5 69V79M968.5 78V88M969.5 78V88M970.5 78V88M971.5 78V88M972.5 78V79M973.5 78V79M974.5 78V79M975.5 78V88M976.5 87V88M977.5 87V97M978.5 87V97M979.5 87V97M980.5 87V97M981.5 87V97M982.5 87V97M983.5 87V97M984.5 87V97M985.5 96V105M986.5 96V97M987.5 87V97M988.5 87V97M989.5 96V105M990.5 104V105M991.5 104V105M992.5 96V105M993.5 96V105M994.5 96V105M995.5 96V105M996.5 104V114M997.5 104V114M998.5 104V114M999.5 104V114M1000.5 104V114M1001.5 104V114M1002.5 104V114M1003.5 104V114M1004.5 104V114M1005.5 104V114M1006.5 113V123M1007.5 113V123M1008.5 113V123M1009.5 113V123M1010.5 113V123M1011.5 113V123M1012.5 113V123M1013.5 122V123M1014.5 113V123M1015.5 113V114M1016.5 113V114M1017.5 113V114M1018.5 113V114M1019.5 113V123M1020.5 122V123M1021.5 122V123M1022.5 122V123M1023.5 122V132M1024.5 122V132M1025.5 122V132M1026.5 122V132M1027.5 122V132M1028.5 122V132M1029.5 122V132M1030.5 131V141M1031.5 140V141M1032.5 131V141M1033.5 131V132M1034.5 131V132M1035.5 122V132M1036.5 131V132M1037.5 131V141M1038.5 131V141M1039.5 131V141M1040.5 131V141M1041.5 131V141M1042.5 131V141M1043.5 131V141M1044.5 131V141M1045.5 131V141M1046.5 131V141M1047.5 131V141M1048.5 131V141M1049.5 140V141M1050.5 140V141M1051.5 140V141M1052.5 140V149M1053.5 140V141M1054.5 131V141M1055.5 140V149M1056.5 148V149M1057.5 148V149M1058.5 140V149M1059.5 140V141M1060.5 140V149M1061.5 140V149M1062.5 140V149M1063.5 140V149M1064.5 140V149M1065.5 140V149M1066.5 140V149M1067.5 140V149M1068.5 148V149M1069.5 148V149M1070.5 148V149M1071.5 140V149M1072.5 140V149M1073.5 140V149M1074.5 140V149M1075.5 140V149M1076.5 148V158M1077.5 148V158M1078.5 148V158M1079.5 148V149M1080.5 148V149M1081.5 148V158M1082.5 157V158M1083.5 157V158M1084.5 157V158M1085.5 148V158M1086.5 140V149M1087.5 140V149M1088.5 148V158M1089.5 148V158M1090.5 148V149M1091.5 148V149M1092.5 148V158M1093.5 148V158M1094.5 148V158M1095.5 148V149M1096.5 148V149M1097.5 148V149M1098.5 148V149M1099.5 148V158M1100.5 148V158M1101.5 140V149M1102.5 131V141M1103.5 131V141M1104.5 131V141M1105.5 131V141M1106.5 131V141M1107.5 131V141M1108.5 131V132M1109.5 131V132M1110.5 131V132M1111.5 131V132M1112.5 131V132M1113.5 131V141M1114.5 131V141M1115.5 131V141M1116.5 131V132M1117.5 131V132M1118.5 131V141M1119.5 140V141M1120.5 140V149M1121.5 140V149M1122.5 140V141M1123.5 140V141M1124.5 140V141M1125.5 131V141M1126.5 131V132M1127.5 131V141M1128.5 131V141M1129.5 131V132M1130.5 131V132M1131.5 131V132M1132.5 131V132M1133.5 131V132M1134.5 131V132M1135.5 122V132M1136.5 122V132M1137.5 122V123M1138.5 113V123M1139.5 113V123M1140.5 113V123M1141.5 113V123M1142.5 122V132M1143.5 122V132M1144.5 113V123M1145.5 113V123M1146.5 122V123M1147.5 122V123M1148.5 122V132M1149.5 131V132M1150.5 131V132M1151.5 131V132M1152.5 122V132M1153.5 122V123M1154.5 113V123M1155.5 122V123M1156.5 122V123M1157.5 122V123M1158.5 113V123M1159.5 113V123M1160.5 122V123M1161.5 122V123M1162.5 122V132M1163.5 122V132M1164.5 122V123M1165.5 113V123M1166.5 113V123M1167.5 113V123M1168.5 113V123M1169.5 113V123M1170.5 122V123M1171.5 122V123M1172.5 122V123M1173.5 122V123M1174.5 113V123M1175.5 113V123M1176.5 113V114M1177.5 113V123M1178.5 104V114M1179.5 113V114M1180.5 113V123M1181.5 113V123M1182.5 113V123M1183.5 113V123M1184.5 122V123M1185.5 122V123M1186.5 113V123M1187.5 113V123M1188.5 113V123M1189.5 113V123M1190.5 113V123M1191.5 113V123M1192.5 113V123M1193.5 113V123M1194.5 113V114M1195.5 104V114M1196.5 104V105M1197.5 104V114M1198.5 96V105M1199.5 104V105M1200.5 104V114M1201.5 113V114M1202.5 113V132M1203.5 96V132M1204.5 96V105M1205.5 96V105M1206.5 96V105M1207.5 96V105M1208.5 96V105M1209.5 96V105M1210.5 96V105M1211.5 96V105M1212.5 104V105M1213.5 104V105M1214.5 104V105M1215.5 104V105M1216.5 104V105M1217.5 104V105M1218.5 96V105M1219.5 96V97M1220.5 96V97M1221.5 96V97M1222.5 96V105M1223.5 96V97M1224.5 96V105M1225.5 96V105M1226.5 96V97M1227.5 96V97M1228.5 87V97M1229.5 87V97M1230.5 87V97M1231.5 96V97M1232.5 96V97M1233.5 96V97M1234.5 96V97M1235.5 96V97M1236.5 96V97M1237.5 96V97M1238.5 96V97M1239.5 96V97M1240.5 96V97M1241.5 96V97M1242.5 96V97M1243.5 96V97M1244.5 96V97M1245.5 87V97M1246.5 87V97M1247.5 87V97M1248.5 87V88M1249.5 87V97M1250.5 87V88M1251.5 87V97M1252.5 87V97M1253.5 96V97M1254.5 96V97M1255.5 96V97M1256.5 96V105M1257.5 96V97M1258.5 96V97M1259.5 96V97" fill="none" stroke="#ff0000" stroke-width="1" shape-rendering="crispEdges"/>
</g>
<g id="p8">
<path d="M775.5 287V288M776.5 287V288M777.5 286V288M778.5 287V288M779.5 287V288M780.5 287V288M781.5 287V288M782.5 287V288M783.5 287V288M784.5 287V288M785.5 287V288M786.5 287V288M787.5 287V288M788.5 287V288M789.5 287V288M790.5 287V288M791.5 287V288M792.5 286V288M793.5 287V288M794.5 287V288M795.5 287V288M796.5 287V288M797.5 287V288M798.5 287V288M799.5 287V288M800.5 287V288M801.5 287V288M802.5 287V288M803.5 287V288M804.5 287V288M805.5 287V288M806.5 287V288M807.5 287V288M808.5 287V288M809.5 287V288M810.5 286V288M811.5 286V288M812.5 287V288M813.5 286V288M814.5 286V288M815.5 286V288M816.5 287V288M817.5 287V288M818.5 287V288M819.5 287V288M820.5 287V288M821.5 287V288M822.5 287V288M823.5 287V288M824.5 287V288M825.5 287V288M826.5 287V288M827.5 287V288M828.5 287V288M829.5 287V288M830.5 287V288M831.5 287V288M832.5 287V288M833.5 287V288M834.5 287V288M835.5 286V288M836.5 286V288M837.5 287V288M838.5 287V288M839.5 287V288M840.5 287V288M841.5 287V288M842.5 287V288M843.5 287V288M844.5 287V288M845.5 287V288M846.5 287V288M847.5 287V288M848.5 287V288M849.5 287V288M850.5 287V288M851.5 287V288M852.5 287V288M853.5 287V288M854.5 286V288M855.5 287V288M856.5 287V288M857.5 287V288M858.5 287V288M859.5 287V288M860.5 287V288M861.5 287V288M862.5 287V288M863.5 287V288M864.5 287V288M865.5 287V288M866.5 287V288M867.5 287V288M868.5 286V288M869.5 286V288M870.5 287V288M871.5 287V288M872.5 287V288M873.5 287V288M874.5 287V288M875.5 287V288M876.5 287V288M877.5 287V288M878.5 287V288M879.5 287V288M880.5 287V288M881.5 287V288M882.5 287V288M883.5 287V288M884.5 287V288M885.5 287V288M886.5 287V288M887.5 287V288M888.5 287V288M889.5 287V288M890.5 287V288M891.5 287V288M892.5 287V288M893.5 287V288M894.5 287V288M895.5 287V288M896.5 287V288M897.5 287V288M898.5 287V288M899.5 286V288M900.5 287V288M901.5 286V288M902.5 287V288M903.5 287V288M904.5 287V288M905.5 287V288M906.5 287V288M907.5 287V288M908.5 286V288M909.5 286V288M910.5 287V288M911.5 287V288M912.5 286V288M913.5 286V288M914.5 286V288M915.5 286V287M916.5 285V287M917.5 285V287M918.5 284V286M919.5 283V285M920.5 283V285M921.5 283V284M922.5 283V284M923.5 282V284M924.5 282V283M925.5 282V283M926.5 281V283M927.5 280V282M928.5 280V281M929.5 279V281M930.5 279V280M931.5 278V280M932.5 278V279M933.5 278V279M934.5 278V279M935.5 277V279M936.5 265V278M937.5 260V266M938.5 258V261M939.5 256V259M940.5 255V257M941.5 253V256M942.5 252V254M943.5 252V254M944.5 250V253M945.5 248V251M946.5 245V249M947.5 241V246M948.5 239V242M949.5 236V240M950.5 235V237M951.5 235V237M952.5 234V236M953.5 234V235M954.5 233V235M955.5 231V234M956.5 230V232M957.5 229V231M958.5 228V230M959.5 227V229M960.5 226V228M961.5 225V227M962.5 223V226M963.5 222V224M964.5 220V223M965.5 219V221M966.5 218V220M967.5 216V219M968.5 215V217M969.5 214V216M970.5 213V215M971.5 211V214M972.5 211V213M973.5 210V212M974.5 209V211M975.5 208V210M976.5 207V209M977.5 206V208M978.5 205V207M979.5 204V206M980.5 203V205M981.5 203V204M982.5 203V204M983.5 202V204M984.5 201V203M985.5 199V202M986.5 198V200M987.5 197V199M988.5 196V198M989.5 196V197M990.5 195V197M991.5 195V197M992.5 194V196M993.5 193V195M994.5 192V194M995.5 192V193M996.5 191V193M997.5 190V192M998.5 190V191M999.5 189V191M1000.5 189V191M1001.5 188V190M1002.5 188V189M1003.5 187V189M1004.5 187V189M1005.5 187V188M1006.5 187V188M1007.5 187V188M1008.5 187V188M1009.5 186V194M1010.5 189V198M1011.5 189V214M1012.5 186V190M1013.5 187V202M1014.5 187V193M1015.5 187V189M1016.5 187V189M1017.5 187V188M1018.5 187V188M1019.5 186V188M1020.5 187V188M1021.5 187V189M1022.5 187V189M1023.5 188V189M1024.5 188V189M1025.5 188V190M1026.5 189V190M1027.5 189V190M1028.5 189V191M1029.5 189V191M1030.5 190V191M1031.5 190V192M1032.5 191V192M1033.5 191V192M1034.5 191V193M1035.5 192V193M1036.5 192V194M1037.5 193V195M1038.5 194V195M1039.5 194V196M1040.5 195V197M1041.5 196V198M1042.5 197V198M1043.5 197V199M1044.5 198V200M1045.5 199V201M1046.5 200V202M1047.5 200V202M1048.5 201V204M1049.5 203V204M1050.5 203V205M1051.5 204V207M1052.5 205V207M1053.5 206V208M1054.5 207V209M1055.5 208V210M1056.5 209V211M1057.5 210V212M1058.5 211V213M1059.5 212V214M1060.5 213V215M1061.5 214V216M1062.5 215V225M1063.5 218V231M1064.5 218V220M1065.5 219V221M1066.5 220V222M1067.5 221V224M1068.5 223V225M1069.5 224V226M1070.5 225V228M1071.5 227V229M1072.5 228V231M1073.5 230V232M1074.5 231V234M1075.5 233V236M1076.5 235V237M1077.5 236V239M1078.5 238V241M1079.5 240V243M1080.5 242V244M1081.5 243V246M1082.5 245V248M1083.5 247V250M1084.5 249V252M1085.5 251V254M1086.5 253V257M1087.5 256V258M1088.5 257V258M1089.5 257V258M1090.5 257V258M1091.5 257V262M1092.5 261V269M1093.5 268V272M1094.5 271V274M1095.5 273V275M1096.5 274V277M1097.5 276V278M1098.5 277V279M1099.5 278V279M1100.5 278V280M1101.5 279V281M1102.5 279V281M1103.5 280V282M1104.5 281V283M1105.5 282V284M1106.5 283V285M1107.5 284V286M1108.5 285V286M1109.5 285V286M1110.5 285V287M1111.5 285V287M1112.5 286V287M1113.5 286V287M1114.5 286V288M1115.5 286V288M1116.5 287V288M1117.5 287V288M1118.5 287V288M1119.5 286V288M1120.5 286V288M1121.5 287V288M1122.5 286V288M1123.5 286V288M1124.5 286V288M1125.5 286V288M1126.5 286V288M1127.5 287V288M1128.5 287V288M1129.5 287V288M1130.5 286V288M1131.5 286V288M1132.5 286V288M1133.5 286V288M1134.5 287V288M1135.5 287V288M1136.5 287V288M1137.5 287V288M1138.5 287V288M1139.5 287V288M1140.5 286V288M1141.5 287V288M1142.5 286V288M1143.5 286V288M1144.5 287V288M1145.5 287V288M1146.5 287V288M1147.5 287V288M1148.5 287V288M1149.5 287V288M1150.5 287V288M1151.5 287V288M1152.5 287V288M1153.5 286V288M1154.5 286V288M1155.5 286V288M1156.5 286V288M1157.5 287V288M1158.5 286V288M1159.5 287V288M1160.5 287V288M1161.5 287V288M1162.5 287V288M1163.5 287V288M1164.5 287V288M1165.5 287V288M1166.5 287V288M1167.5 287V288M1168.5 287V288M1169.5 287V288M1170.5 286V288M1171.5 286V288M1172.5 286V288M1173.5 286V288M1174.5 286V288M1175.5 286V288M1176.5 287V288M1177.5 286V288M1178.5 286V288M1179.5 286V288M1180.5 287V288M1181.5 287V288M1182.5 287V288M1183.5 286V288M1184.5 286V288M1185.5 287V288M1186.5 287V288M1187.5 287V288M1188.5 287V288M1189.5 287V288M1190.5 286V288M1191.5 286V288M1192.5 287V288M1193.5 287V288M1194.5 287V288M1195.5 287V288M1196.5 287V288M1197.5 286V288M1198.5 286V287M1199.5 286V288M1200.5 287V288M1201.5 287V288M1202.5 287V288M1203.5 287V288M1204.5 287V288M1205.5 287V288M1206.5 287V288M1207.5 286V288M1208.5 287V288M1209.5 287V288M1210.5 287V288M1211.5 286V288M1212.5 287V288M1213.5 287V288M1214.5 287V288M1215.5 287V288M1216.5 287V288M1217.5 287V288M1218.5 287V288M1219.5 287V288M1220.5 287V288M1221.5 287V288M1222.5 286V288M1223.5 287V288M1224.5 286V288M1225.5 286V288M1226.5 287V288M1227.5 286V288M1228.5 287V288M1229.5 287V288M1230.5 287V288M1231.5 287V288M1232.5 287V288M1233.5 286V288M1234.5 286V288M1235.5 286V288M1236.5 287V288M1237.5 287V288M1238.5 286V288M1239.5 287V288M1240.5 287V288M1241.5 287V288M1242.5 287V288M1243.5 287V288M1244.5 287V288M1245.5 287V288M1246.5 287V288M1247.5 287V288M1248.5 286V288M1249.5 286V288M1250.5 286V288M1251.5 286V288M1252.5 286V288M1253.5 287V288M1254.5 287V288M1255.5 287V288M1256.5 286V288M1257.5 286V288M1258.5 287V288M1259.5 287V288" fill="none" stroke="#ff0000" stroke-width="1" shape-rendering="crispEdges"/>
<path d="M775.5 297V300M776.5 297V300M777.5 297V300M778.5 297V299M779.5 296V299M780.5 293V298M781.5 293V298M782.5 287V297M783.5 287V295M784.5 290V297M785.5 293V298M786.5 295V298M787.5 291V298M788.5 292V297M789.5 293V298M790.5 292V298M791.5 290V295M792.5 290V297M793.5 290V295M794.5 291V297M795.5 295V298M796.5 292V299M797.5 291V299M798.5 293V298M799.5 293V298M800.5 294V300M801.5 294V300M802.5 294V298M803.5 294V300M804.5 296V300M805.5 295V300M806.5 294V300M807.5 291V298M808.5 290V297M809.5 291V299M810.5 293V298M811.5 292V299M812.5 294V297M813.5 294V298M814.5 295V299M815.5 291V298M816.5 289V298M817.5 292V298M818.5 287V295M819.5 284V298M820.5 287V298M821.5 287V295M822.5 288V298M823.5 286V298M824.5 286V294M825.5 286V297M826.5 290V298M827.5 291V298M828.5 289V298M829.5 289V298M830.5 288V298M831.5 289V297M832.5 292V297M833.5 292V299M834.5 290V299M835.5 292V300M836.5 293V299M837.5 292V299M838.5 294V299M839.5 293V298M840.5 294V296M841.5 293V298M842.5 293V296M843.5 293V298M844.5 293V298M845.5 291V298M846.5 290V298M847.5 289V295M848.5 290V296M849.5 285V295M850.5 283V292M851.5 287V298M852.5 290V298M853.5 290V299M854.5 292V299M855.5 292V299M856.5 292V298M857.5 294V298M858.5 291V299M859.5 290V299M860.5 291V299M861.5 292V298M862.5 293V299M863.5 293V298M864.5 291V300M865.5 293V297M866.5 289V299M867.5 287V298M868.5 289V295M869.5 286V297M870.5 291V296M871.5 292V300M872.5 296V300M873.5 295V300M874.5 296V299M875.5 295V299M876.5 295V299M877.5 294V299M878.5 294V297M879.5 294V298M880.5 295V298M881.5 294V299M882.5 294V299M883.5 293V298M884.5 293V297M885.5 291V299M886.5 292V296M887.5 289V298M888.5 288V298M889.5 285V297M890.5 285V297M891.5 284V297M892.5 288V293M893.5 287V299M894.5 289V299M895.5 288V298M896.5 289V299M897.5 289V299M898.5 291V299M899.5 294V300M900.5 293V298M901.5 289V298M902.5 291V298M903.5 289V296M904.5 290V295M905.5 291V298M906.5 291V298M907.5 289V297M908.5 289V296M909.5 289V298M910.5 289V297M911.5 288V296M912.5 288V298M913.5 288V297M914.5 290V294M915.5 288V298M916.5 288V297M917.5 291V298M918.5 293V298M919.5 291V298M920.5 292V297M921.5 290V297M922.5 290V294M923.5 289V296M924.5 291V296M925.5 292V298M926.5 289V297M927.5 290V298M928.5 293V298M929.5 294V298M930.5 293V298M931.5 293V296M932.5 293V296M933.5 293V296M934.5 292V295M935.5 291V296M936.5 290V296M937.5 290V295M938.5 290V295M939.5 289V293M940.5 287V294M941.5 291V302M942.5 290V306M943.5 298V307M944.5 294V304M945.5 287V296M946.5 282V294M947.5 280V291M948.5 276V286M949.5 277V288M950.5 272V288M951.5 272V291M952.5 273V297M953.5 274V293M954.5 274V296M955.5 275V296M956.5 274V304M957.5 277V309M958.5 280V296M959.5 271V290M960.5 272V296M961.5 274V298M962.5 263V278M963.5 262V278M964.5 254V278M965.5 264V275M966.5 254V283M967.5 252V283M968.5 251V273M969.5 248V264M970.5 241V259M971.5 246V262M972.5 241V268M973.5 251V284M974.5 252V296M975.5 244V303M976.5 248V309M977.5 248V305M978.5 253V298M979.5 249V289M980.5 240V287M981.5 242V289M982.5 242V279M983.5 250V301M984.5 237V306M985.5 251V285M986.5 239V284M987.5 253V282M988.5 259V285M989.5 261V285M990.5 251V269M991.5 252V283M992.5 246V281M993.5 245V291M994.5 257V293M995.5 245V289M996.5 246V273M997.5 243V279M998.5 254V286M999.5 244V289M1000.5 251V279M1001.5 222V279M1002.5 241V268M1003.5 236V311M1004.5 230V307M1005.5 245V296M1006.5 223V296M1007.5 250V284M1008.5 240V306M1009.5 242V306M1010.5 255V309M1011.5 231V308M1012.5 239V287M1013.5 249V287M1014.5 256V284M1015.5 239V284M1016.5 241V273M1017.5 241V270M1018.5 251V271M1019.5 251V304M1020.5 230V314M1021.5 239V305M1022.5 258V298M1023.5 246V285M1024.5 247V285M1025.5 251V278M1026.5 259V292M1027.5 246V298M1028.5 262V304M1029.5 253V302M1030.5 243V297M1031.5 240V290M1032.5 240V285M1033.5 231V276M1034.5 232V276M1035.5 253V282M1036.5 240V281M1037.5 251V282M1038.5 244V282M1039.5 239V272M1040.5 236V274M1041.5 236V263M1042.5 255V296M1043.5 247V284M1044.5 248V281M1045.5 254V289M1046.5 258V306M1047.5 256V299M1048.5 254V287M1049.5 264V276M1050.5 264V283M1051.5 265V299M1052.5 249V305M1053.5 245V308M1054.5 247V308M1055.5 269V296M1056.5 270V293M1057.5 262V278M1058.5 263V292M1059.5 264V305M1060.5 272V294M1061.5 266V285M1062.5 267V294M1063.5 272V295M1064.5 272V293M1065.5 270V287M1066.5 269V288M1067.5 269V289M1068.5 276V300M1069.5 272V296M1070.5 278V298M1071.5 284V298M1072.5 280V297M1073.5 279V298M1074.5 276V292M1075.5 283V299M1076.5 279V299M1077.5 280V294M1078.5 288V300M1079.5 284V296M1080.5 292V300M1081.5 284V301M1082.5 287V296M1083.5 288V297M1084.5 286V298M1085.5 286V298M1086.5 287V296M1087.5 288V299M1088.5 290V300M1089.5 293V300M1090.5 292V298M1091.5 293V300M1092.5 295V300M1093.5 296V300M1094.5 297V300M1095.5 295V300M1096.5 295V299M1097.5 294V299M1098.5 294V298M1099.5 293V297M1100.5 293V297M1101.5 293V296M1102.5 292V296M1103.5 291V297M1104.5 291V297M1105.5 291V297M1106.5 291V296M1107.5 291V298M1108.5 292V298M1109.5 293V298M1110.5 294V298M1111.5 292V298M1112.5 293V297M1113.5 294V299M1114.5 294V299M1115.5 295V299M1116.5 296V299M1117.5 296V299M1118.5 296V300M1119.5 296V299M1120.5 295V298M1121.5 295V299M1122.5 296V299M1123.5 296V298M1124.5 295V297M1125.5 296V298M1126.5 295V298M1127.5 295V297M1128.5 294V297M1129.5 294V298M1130.5 295V298M1131.5 296V298M1132.5 294V298M1133.5 294V298M1134.5 294V298M1135.5 294V297M1136.5 294V297M1137.5 292V297M1138.5 291V296M1139.5 285V292M1140.5 280V294M1141.5 280V294M1142.5 279V295M1143.5 285V295M1144.5 286V293M1145.5 288V295M1146.5 288V296M1147.5 289V294M1148.5 283V293M1149.5 284V295M1150.5 291V295M1151.5 288V295M1152.5 290V296M1153.5 290V295M1154.5 288V295M1155.5 290V296M1156.5 291V296M1157.5 294V298M1158.5 294V299M1159.5 295V299M1160.5 295V299M1161.5 295V299M1162.5 296V300M1163.5 294V299M1164.5 292V299M1165.5 291V297M1166.5 290V297M1167.5 291V298M1168.5 293V297M1169.5 293V298M1170.5 290V296M1171.5 291V296M1172.5 290V298M1173.5 292V298M1174.5 292V297M1175.5 292V297M1176.5 292V296M1177.5 292V296M1178.5 290V296M1179.5 286V296M1180.5 289V294M1181.5 291V297M1182.5 293V296M1183.5 292V297M1184.5 292V297M1185.5 294V296M1186.5 292V296M1187.5 292V296M1188.5 294V296M1189.5 291V296M1190.5 290V296M1191.5 290V296M1192.5 288V296M1193.5 290V297M1194.5 294V296M1195.5 293V296M1196.5 292V297M1197.5 292V298M1198.5 294V298M1199.5 295V297M1200.5 295V298M1201.5 295V297M1202.5 295V298M1203.5 295V298M1204.5 296V298M1205.5 295V298M1206.5 295V298M1207.5 297V299M1208.5 296V299M1209.5 295V299M1210.5 296V299M1211.5 295V298M1212.5 296V299M1213.5 294V298M1214.5 294V296M1215.5 294V298M1216.5 293V298M1217.5 293V298M1218.5 292V298M1219.5 292V297M1220.5 293V297M1221.5 293V297M1222.5 293V297M1223.5 292V296M1224.5 291V296M1225.5 290V294M1226.5 289V294M1227.5 288V293M1228.5 288V293M1229.5 289V294M1230.5 290V293M1231.5 291V295M1232.5 291V294M1233.5 292V294M1234.5 292V296M1235.5 293V296M1236.5 293V297M1237.5 293V296M1238.5 294V297M1239.5 294V298M1240.5 296V298M1241.5 296V298M1242.5 295V299M1243.5 294V297M1244.5 293V296M1245.5 293V296M1246.5 292V295M1247.5 293V296M1248.5 295V298M1249.5 295V298M1250.5 295V297M1251.5 295V298M1252.5 295V299M1253.5 295V298M1254.5 295V299M1255.5 296V299M1256.5 295V300M1257.5 295V300M1258.5 295V303" fill="none" stroke="#00c000" stroke-width="1" shape-rendering="crispEdges"/>
</g>
<g id="p9">
<path d="M775.5 445V446M776.5 445V447M777.5 446V447M778.5 446V447M779.5 446V447M780.5 446V447M781.5 446V447M782.5 446V447M783.5 446V447M784.5 446V447M785.5 446V447M786.5 446V447M787.5 446V447M788.5 446V447M789.5 446V447M790.5 446V448M791.5 447V448M792.5 447V448M793.5 447V448M794.5 447V448M795.5 447V448M796.5 447V448M797.5 447V448M798.5 447V448M799.5 447V448M800.5 447V448M801.5 447V448M802.5 447V448M803.5 447V448M804.5 447V448M805.5 447V449M806.5 448V449M807.5 448V449M808.5 448V449M809.5 448V449M810.5 448V449M811.5 448V449M812.5 448V449M813.5 448V449M814.5 448V449M815.5 448V449M816.5 448V449M817.5 448V450M818.5 449V450M819.5 449V450M820.5 449V450M821.5 449V450M822.5 449V450M823.5 449V450M824.5 449V450M825.5 449V450M826.5 449V451M827.5 450V451M828.5 450V451M829.5 450V451M830.5 450V451M831.5 450V451M832.5 450V451M833.5 450V451M834.5 450V451M835.5 450V451M836.5 450V452M837.5 451V452M838.5 451V452M839.5 451V452M840.5 451V452M841.5 451V452M842.5 451V452M843.5 451V452M844.5 451V452M845.5 451V453M846.5 452V453M847.5 452V453M848.5 452V453M849.5 452V453M850.5 452V453M851.5 452V453M852.5 452V453M853.5 452V453M854.5 452V454M855.5 453V454M856.5 453V454M857.5 453V454M858.5 453V454M859.5 453V454M860.5 453V454M861.5 453V454M862.5 453V454M863.5 453V454M864.5 453V455M865.5 454V455M866.5 454V455M867.5 454V455M868.5 454V455M869.5 454V455M870.5 454V455M871.5 454V455M872.5 454V455M873.5 454V456M874.5 455V456M875.5 455V456M876.5 455V456M877.5 455V456M878.5 455V457M879.5 456V457M880.5 456V457M881.5 456V457M882.5 456V458M883.5 457V458M884.5 457V458M885.5 457V458M886.5 457V458M887.5 457V459M888.5 458V459M889.5 458V459M890.5 458V459M891.5 458V459M892.5 458V460M893.5 459V460M894.5 459V460M895.5 459V460M896.5 459V460M897.5 459V460M898.5 459V460M899.5 459V461M900.5 460V461M901.5 460V461M902.5 460V461M903.5 460V461M904.5 460V461M905.5 460V461M906.5 460V461M907.5 460V461M908.5 460V461M909.5 460V461M910.5 460V461M911.5 460V461M912.5 460V461M913.5 460V461M914.5 460V461M915.5 460V461M916.5 460V461M917.5 460V461M918.5 460V461M919.5 460V461M920.5 460V461M921.5 460V461M922.5 460V461M923.5 460V461M924.5 460V461M925.5 460V461M926.5 460V461M927.5 460V461M928.5 460V461M929.5 460V461M930.5 460V461M931.5 460V461M932.5 460V461M933.5 460V461M934.5 460V461M935.5 460V461M936.5 460V461M937.5 460V461M938.5 460V461M939.5 459V461M940.5 459V460M941.5 459V460M942.5 459V460M943.5 459V460M944.5 459V460M945.5 459V460M946.5 458V460M947.5 458V459M948.5 458V459M949.5 458V459M950.5 458V459M951.5 457V459M952.5 457V458M953.5 457V458M954.5 457V458M955.5 457V458M956.5 456V458M957.5 456V457M958.5 456V457M959.5 456V457M960.5 456V457M961.5 456V457M962.5 456V457M963.5 456V457M964.5 456V457M965.5 456V457M966.5 455V457M967.5 455V456M968.5 455V456M969.5 455V456M970.5 455V456M971.5 455V456M972.5 454V456M973.5 454V455M974.5 454V455M975.5 454V455M976.5 454V455M977.5 454V455M978.5 454V455M979.5 454V455M980.5 454V455M981.5 454V455M982.5 454V455M983.5 454V456M984.5 455V456M985.5 455V456M986.5 455V457M987.5 456V457M988.5 456V458M989.5 457V458M990.5 457V458M991.5 457V459M992.5 458V459M993.5 458V459M994.5 458V459M995.5 458V459M996.5 458V459M997.5 458V459M998.5 458V459M999.5 458V459M1000.5 457V459M1001.5 456V458M1002.5 456V457M1003.5 455V457M1004.5 454V456M1005.5 453V455M1006.5 451V454M1007.5 449V452M1008.5 446V450M1009.5 443V447M1010.5 439V444M1011.5 434V440M1012.5 429V435M1013.5 424V430M1014.5 419V425M1015.5 414V420M1016.5 409V415M1017.5 404V410M1018.5 399V405M1019.5 394V400M1020.5 389V395M1021.5 384V390M1022.5 379V385M1023.5 374V380M1024.5 370V375M1025.5 366V371M1026.5 362V367M1027.5 358V363M1028.5 355V359M1029.5 353V356M1030.5 351V354M1031.5 349V352M1032.5 347V350M1033.5 347V348M1034.5 346V348M1035.5 346V347M1036.5 345V347M1037.5 345V346M1038.5 345V346M1039.5 344V346M1040.5 344V345M1041.5 344V345M1042.5 343V345M1043.5 343V345M1044.5 344V346M1045.5 345V347M1046.5 346V349M1047.5 348V350M1048.5 349V352M1049.5 351V353M1050.5 352V354M1051.5 353V356M1052.5 355V357M1053.5 356V359M1054.5 358V360M1055.5 359V361M1056.5 360V363M1057.5 362V365M1058.5 364V366M1059.5 365V368M1060.5 367V370M1061.5 369V371M1062.5 370V372M1063.5 371V374M1064.5 373V377M1065.5 376V379M1066.5 378V380M1067.5 379V381M1068.5 380V383M1069.5 382V384M1070.5 383V386M1071.5 385V387M1072.5 386V388M1073.5 387V390M1074.5 389V391M1075.5 390V393M1076.5 392V394M1077.5 393V396M1078.5 395V397M1079.5 396V399M1080.5 398V401M1081.5 400V402M1082.5 401V404M1083.5 403V406M1084.5 405V408M1085.5 407V410M1086.5 409V412M1087.5 411V413M1088.5 412V415M1089.5 414V417M1090.5 416V418M1091.5 417V420M1092.5 419V422M1093.5 421V423M1094.5 422V425M1095.5 424V426M1096.5 425V428M1097.5 427V430M1098.5 429V431M1099.5 430V433M1100.5 432V434M1101.5 433V436M1102.5 435V438M1103.5 437V439M1104.5 438V440M1105.5 439V441M1106.5 440V443M1107.5 442V444M1108.5 443V445M1109.5 444V446M1110.5 445V447M1111.5 446V448M1112.5 447V449M1113.5 448V449M1114.5 448V450M1115.5 449V450M1116.5 449V450M1117.5 449V451M1118.5 450V451M1119.5 450V451M1120.5 450V451M1121.5 450V451M1122.5 450V451M1123.5 450V451M1124.5 450V451M1125.5 450V451M1126.5 450V451M1127.5 450V452M1128.5 451V452M1129.5 451V452M1130.5 451V452M1131.5 451V452M1132.5 451V452M1133.5 451V452M1134.5 451V452M1135.5 451V452M1136.5 451V452M1137.5 451V452M1138.5 451V452M1139.5 451V452M1140.5 451V453M1141.5 452V453M1142.5 452V453M1143.5 452V453M1144.5 452V453M1145.5 452V453M1146.5 452V453M1147.5 452V453M1148.5 452V453M1149.5 452V453M1150.5 452V453M1151.5 452V453M1152.5 452V453M1153.5 452V453M1154.5 452V453M1155.5 452V453M1156.5 452V453M1157.5 452V453M1158.5 452V453M1159.5 452V453M1160.5 452V453M1161.5 452V453M1162.5 452V453M1163.5 452V453M1164.5 452V453M1165.5 452V454M1166.5 453V454M1167.5 453V454M1168.5 453V454M1169.5 453V454M1170.5 453V454M1171.5 453V454M1172.5 453V454M1173.5 453V454M1174.5 453V454M1175.5 453V454M1176.5 453V454M1177.5 453V454M1178.5 453V454M1179.5 453V454M1180.5 453V455M1181.5 454V455M1182.5 454V455M1183.5 454V455M1184.5 454V455M1185.5 454V455M1186.5 454V455M1187.5 454V455M1188.5 454V455M1189.5 454V455M1190.5 454V455M1191.5 454V455M1192.5 454V455M1193.5 454V455M1194.5 454V455M1195.5 454V455M1196.5 454V456M1197.5 455V456M1198.5 455V456M1199.5 455V456M1200.5 455V456M1201.5 455V456M1202.5 455V456M1203.5 455V456M1204.5 455V456M1205.5 455V456M1206.5 455V456M1207.5 455V456M1208.5 455V456M1209.5 455V457M1210.5 456V457M1211.5 456V457M1212.5 456V457M1213.5 456V457M1214.5 456V458M1215.5 457V458M1216.5 457V458M1217.5 457V458M1218.5 457V458M1219.5 457V458M1220.5 457V458M1221.5 457V458M1222.5 457V458M1223.5 457V459M1224.5 458V459M1225.5 458V459M1226.5 458V459M1227.5 458V459M1228.5 458V459M1229.5 458V459M1230.5 458V459M1231.5 458V459M1232.5 458V459M1233.5 458V459M1234.5 458V459M1235.5 458V459M1236.5 458V459M1237.5 458V459M1238.5 458V459M1239.5 458V459M1240.5 458V459M1241.5 458V459M1242.5 458V460M1243.5 459V460M1244.5 459V460M1245.5 459V460M1246.5 459V460M1247.5 459V460M1248.5 459V460M1249.5 459V460M1250.5 459V461M1251.5 460V461M1252.5 460V461M1253.5 460V461M1254.5 460V461M1255.5 460V461M1256.5 460V461M1257.5 460V461M1258.5 460V461M1259.5 460V461" fill="none" stroke="#ff0000" stroke-width="1" shape-rendering="crispEdges"/>
</g>
<g id="pa">
<path d="M775.5 615V616M776.5 615V616M777.5 615V616M778.5 615V617M779.5 615V616M780.5 615V616M781.5 615V616M782.5 615V616M783.5 615V617M784.5 615V616M785.5 615V616M786.5 615V616M787.5 615V617M788.5 615V616M789.5 615V616M790.5 615V617M791.5 615V616M792.5 615V616M793.5 615V616M794.5 615V617M795.5 615V617M796.5 615V617M797.5 615V617M798.5 615V616M799.5 615V617M800.5 615V617M801.5 615V617M802.5 615V617M803.5 615V617M804.5 615V617M805.5 615V617M806.5 615V617M807.5 615V617M808.5 615V617M809.5 615V617M810.5 615V617M811.5 615V617M812.5 615V617M813.5 615V617M814.5 615V617M815.5 615V617M816.5 615V617M817.5 615V617M818.5 615V617M819.5 615V617M820.5 615V617M821.5 615V617M822.5 615V617M823.5 615V617M824.5 615V617M825.5 615V617M826.5 615V617M827.5 616V617M828.5 615V617M829.5 616V617M830.5 615V617M831.5 615V617M832.5 616V617M833.5 616V617M834.5 616V617M835.5 616V617M836.5 616V617M837.5 616V617M838.5 616V617M839.5 616V617M840.5 616V617M841.5 616V617M842.5 616V617M843.5 616V617M844.5 616V617M845.5 616V617M846.5 616V617M847.5 616V617M848.5 616V617M849.5 616V617M850.5 616V617M851.5 616V617M852.5 616V618M853.5 616V618M854.5 616V618M855.5 616V618M856.5 616V618M857.5 616V618M858.5 616V618M859.5 616V618M860.5 616V618M861.5 616V618M862.5 616V618M863.5 616V618M864.5 616V618M865.5 616V618M866.5 617V618M867.5 616V618M868.5 617V618M869.5 617V618M870.5 617V618M871.5 617V618M872.5 617V618M873.5 617V618M874.5 617V618M875.5 617V618M876.5 617V618M877.5 617V618M878.5 617V619M879.5 617V619M880.5 617V618M881.5 617V618M882.5 617V618M883.5 617V619M884.5 617V619M885.5 617V619M886.5 618V619M887.5 617V619M888.5 617V619M889.5 617V619M890.5 618V619M891.5 618V619M892.5 618V619M893.5 618V619M894.5 618V619M895.5 618V619M896.5 618V620M897.5 618V620M898.5 618V619M899.5 618V619M900.5 618V620M901.5 618V620M902.5 618V620M903.5 618V620M904.5 619V620M905.5 619V620M906.5 619V620M907.5 619V620M908.5 619V620M909.5 619V620M910.5 619V620M911.5 619V620M912.5 619V620M913.5 619V620M914.5 619V620M915.5 619V620M916.5 619V620M917.5 619V621M918.5 619V621M919.5 619V621M920.5 619V621M921.5 619V621M922.5 619V621M923.5 620V621M924.5 620V621M925.5 620V621M926.5 620V621M927.5 620V621M928.5 620V621M929.5 620V621M930.5 620V621M931.5 620V622M932.5 620V621M933.5 620V622M934.5 620V622M935.5 620V622M936.5 620V622M937.5 620V622M938.5 620V622M939.5 620V622M940.5 621V622M941.5 621V622M942.5 621V622M943.5 621V622M944.5 621V622M945.5 621V622M946.5 621V622M947.5 621V622M948.5 621V622M949.5 621V622M950.5 621V622M951.5 621V622M952.5 621V623M953.5 621V622M954.5 621V623M955.5 621V623M956.5 621V623M957.5 621V623M958.5 621V623M959.5 621V623M960.5 621V623M961.5 621V623M962.5 622V623M963.5 622V623M964.5 622V623M965.5 622V623M966.5 622V623M967.5 622V623M968.5 622V623M969.5 622V623M970.5 622V623M971.5 622V623M972.5 622V623M973.5 622V623M974.5 622V623M975.5 622V623M976.5 622V624M977.5 622V624M978.5 622V624M979.5 622V624M980.5 622V624M981.5 622V624M982.5 622V624M983.5 622V624M984.5 622V624M985.5 622V624M986.5 622V624M987.5 623V624M988.5 623V624M989.5 623V624M990.5 623V624M991.5 623V624M992.5 623V624M993.5 623V624M994.5 623V624M995.5 623V624M996.5 623V624M997.5 623V624M998.5 623V624M999.5 623V625M1000.5 623V624M1001.5 623V625M1002.5 623V624M1003.5 623V625M1004.5 623V625M1005.5 623V624M1006.5 623V625M1007.5 623V625M1008.5 623V625M1009.5 623V625M1010.5 623V625M1011.5 623V625M1012.5 623V625M1013.5 623V625M1014.5 623V625M1015.5 623V625M1016.5 623V625M1017.5 623V625M1018.5 623V624M1019.5 623V624M1020.5 623V625M1021.5 623V624M1022.5 623V624M1023.5 623V624M1024.5 623V624M1025.5 623V624M1026.5 623V624M1027.5 623V624M1028.5 622V624M1029.5 622V624M1030.5 622V623M1031.5 622V623M1032.5 622V623M1033.5 622V623M1034.5 621V623M1035.5 621V623M1036.5 621V622M1037.5 621V622M1038.5 621V622M1039.5 620V622M1040.5 620V622M1041.5 620V622M1042.5 620V621M1043.5 619V621M1044.5 619V621M1045.5 619V620M1046.5 619V620M1047.5 618V620M1048.5 618V619M1049.5 618V619M1050.5 617V619M1051.5 617V619M1052.5 617V618M1053.5 616V618M1054.5 616V617M1055.5 615V617M1056.5 615V616M1057.5 614V616M1058.5 614V616M1059.5 614V615M1060.5 613V615M1061.5 613V614M1062.5 613V614M1063.5 612V614M1064.5 612V613M1065.5 612V613M1066.5 611V613M1067.5 611V613M1068.5 611V612M1069.5 610V612M1070.5 610V611M1071.5 609V611M1072.5 609V611M1073.5 609V611M1074.5 609V611M1075.5 609V610M1076.5 609V610M1077.5 609V610M1078.5 609V610M1079.5 608V610M1080.5 608V610M1081.5 608V609M1082.5 608V609M1083.5 608V609M1084.5 608V609M1085.5 607V609M1086.5 607V609M1087.5 607V608M1088.5 607V608M1089.5 606V608M1090.5 606V608M1091.5 606V607M1092.5 606V607M1093.5 606V607M1094.5 605V607M1095.5 605V607M1096.5 605V606M1097.5 605V606M1098.5 604V606M1099.5 604V606M1100.5 604V605M1101.5 604V605M1102.5 604V605M1103.5 604V605M1104.5 604V605M1105.5 604V605M1106.5 604V605M1107.5 604V605M1108.5 603V605M1109.5 603V605M1110.5 604V605M1111.5 603V605M1112.5 603V605M1113.5 603V605M1114.5 603V605M1115.5 603V605M1116.5 603V605M1117.5 603V605M1118.5 603V605M1119.5 603V605M1120.5 603V605M1121.5 603V605M1122.5 603V605M1123.5 603V605M1124.5 603V605M1125.5 603V605M1126.5 603V605M1127.5 603V605M1128.5 603V605M1129.5 603V605M1130.5 603V605M1131.5 603V605M1132.5 603V605M1133.5 603V605M1134.5 604V605M1135.5 604V605M1136.5 604V605M1137.5 604V605M1138.5 604V606M1139.5 604V606M1140.5 604V606M1141.5 605V606M1142.5 605V606M1143.5 605V606M1144.5 605V606M1145.5 605V606M1146.5 605V606M1147.5 605V606M1148.5 605V606M1149.5 605V606M1150.5 605V606M1151.5 605V607M1152.5 605V607M1153.5 605V607M1154.5 605V607M1155.5 605V607M1156.5 605V607M1157.5 606V607M1158.5 606V607M1159.5 605V607M1160.5 605V607M1161.5 606V607M1162.5 606V607M1163.5 606V607M1164.5 606V607M1165.5 606V607M1166.5 606V608M1167.5 606V608M1168.5 606V608M1169.5 606V608M1170.5 606V608M1171.5 606V608M1172.5 607V608M1173.5 606V608M1174.5 607V608M1175.5 607V608M1176.5 607V608M1177.5 607V608M1178.5 607V608M1179.5 607V608M1180.5 607V608M1181.5 607V608M1182.5 607V608M1183.5 607V609M1184.5 607V609M1185.5 607V609M1186.5 607V609M1187.5 608V609M1188.5 608V609M1189.5 608V609M1190.5 608V609M1191.5 608V609M1192.5 608V610M1193.5 608V610M1194.5 608V610M1195.5 609V610M1196.5 609V610M1197.5 609V610M1198.5 609V610M1199.5 609V610M1200.5 609V610M1201.5 609V610M1202.5 609V611M1203.5 609V611M1204.5 609V611M1205.5 609V611M1206.5 609V611M1207.5 609V611M1208.5 610V611M1209.5 610V611M1210.5 610V611M1211.5 610V611M1212.5 609V611M1213.5 610V611M1214.5 610V611M1215.5 610V611M1216.5 610V611M1217.5 610V611M1218.5 610V611M1219.5 610V611M1220.5 610V611M1221.5 610V611M1222.5 610V611M1223.5 610V611M1224.5 610V611M1225.5 610V612M1226.5 610V612M1227.5 610V612M1228.5 611V612M1229.5 610V612M1230.5 611V612M1231.5 611V612M1232.5 611V612M1233.5 611V612M1234.5 611V612M1235.5 611V612M1236.5 611V613M1237.5 611V613M1238.5 611V613M1239.5 611V613M1240.5 611V613M1241.5 611V613M1242.5 611V613M1243.5 612V613M1244.5 612V613M1245.5 612V613M1246.5 612V613M1247.5 612V613M1248.5 612V613M1249.5 612V614M1250.5 612V614M1251.5 612V614M1252.5 613V614M1253.5 613V614M1254.5 613V614M1255.5 613V614M1256.5 613V614M1257.5 613V615M1258.5 613V615M1259.5 613V615" fill="none" stroke="#ff0000" stroke-width="1" shape-rendering="crispEdges"/>
<path d="M775.5 594V596M776.5 594V595M777.5 594V596M778.5 594V596M779.5 594V596M780.5 594V595M781.5 594V596M782.5 594V596M783.5 594V596M784.5 594V596M785.5 594V596M786.5 594V596M787.5 594V596M788.5 594V596M789.5 594V596M790.5 594V596M791.5 594V596M792.5 594V596M793.5 594V596M794.5 594V596M795.5 594V596M796.5 594V596M797.5 594V596M798.5 594V596M799.5 594V596M800.5 594V596M801.5 594V596M802.5 594V596M803.5 594V596M804.5 594V596M805.5 594V596M806.5 594V596M807.5 595V596M808.5 594V596M809.5 595V596M810.5 594V596M811.5 595V596M812.5 594V596M813.5 595V596M814.5 595V596M815.5 595V596M816.5 595V596M817.5 595V596M818.5 595V596M819.5 595V596M820.5 595V596M821.5 595V596M822.5 595V596M823.5 595V596M824.5 595V596M825.5 595V596M826.5 595V596M827.5 595V596M828.5 595V596M829.5 595V596M830.5 595V596M831.5 595V596M832.5 595V596M833.5 595V596M834.5 595V596M835.5 595V596M836.5 595V596M837.5 595V596M838.5 595V596M839.5 595V596M840.5 595V596M841.5 595V596M842.5 595V596M843.5 595V597M844.5 595V596M845.5 595V596M846.5 595V596M847.5 595V596M848.5 595V596M849.5 595V596M850.5 595V597M851.5 595V597M852.5 595V596M853.5 595V596M854.5 595V596M855.5 595V596M856.5 595V597M857.5 595V596M858.5 595V597M859.5 595V597M860.5 595V597M861.5 595V597M862.5 595V597M863.5 595V597M864.5 595V597M865.5 595V597M866.5 595V597M867.5 595V597M868.5 595V597M869.5 595V597M870.5 595V597M871.5 595V597M872.5 595V597M873.5 595V597M874.5 595V597M875.5 595V597M876.5 595V597M877.5 595V597M878.5 595V597M879.5 595V597M880.5 595V597M881.5 595V597M882.5 596V597M883.5 595V597M884.5 596V597M885.5 596V597M886.5 596V597M887.5 596V597M888.5 596V597M889.5 596V597M890.5 596V597M891.5 596V597M892.5 596V597M893.5 596V597M894.5 596V597M895.5 596V597M896.5 596V597M897.5 596V597M898.5 596V597M899.5 596V597M900.5 596V597M901.5 596V597M902.5 596V597M903.5 596V597M904.5 596V597M905.5 596V597M906.5 596V597M907.5 596V597M908.5 596V597M909.5 596V597M910.5 596V597M911.5 596V598M912.5 596V598M913.5 596V598M914.5 596V598M915.5 596V598M916.5 596V598M917.5 596V598M918.5 596V598M919.5 596V598M920.5 596V598M921.5 596V598M922.5 596V598M923.5 596V598M924.5 596V598M925.5 596V598M926.5 597V598M927.5 597V598M928.5 597V598M929.5 597V598M930.5 597V598M931.5 597V598M932.5 597V598M933.5 597V598M934.5 597V598M935.5 597V598M936.5 597V598M937.5 597V598M938.5 597V598M939.5 597V598M940.5 597V599M941.5 597V598M942.5 597V599M943.5 597V599M944.5 597V599M945.5 597V599M946.5 597V599M947.5 597V599M948.5 597V599M949.5 598V599M950.5 598V599M951.5 598V599M952.5 598V599M953.5 598V599M954.5 598V599M955.5 598V599M956.5 598V599M957.5 598V599M958.5 598V599M959.5 598V599M960.5 598V599M961.5 598V599M962.5 598V599M963.5 598V599M964.5 598V599M965.5 598V599M966.5 598V599M967.5 598V600M968.5 598V599M969.5 598V600M970.5 598V600M971.5 598V600M972.5 598V600M973.5 598V600M974.5 598V600M975.5 598V600M976.5 598V600M977.5 598V600M978.5 598V600M979.5 598V600M980.5 598V600M981.5 598V600M982.5 598V600M983.5 598V600M984.5 598V600M985.5 599V600M986.5 598V600M987.5 599V600M988.5 599V600M989.5 599V600M990.5 599V600M991.5 598V600M992.5 599V600M993.5 599V600M994.5 599V600M995.5 599V600M996.5 599V600M997.5 599V600M998.5 599V600M999.5 599V600M1000.5 599V600M1001.5 599V600M1002.5 599V600M1003.5 599V600M1004.5 599V600M1005.5 599V600M1006.5 599V600M1007.5 599V600M1008.5 599V600M1009.5 599V600M1010.5 599V600M1011.5 599V600M1012.5 599V600M1013.5 599V600M1014.5 599V600M1015.5 599V600M1016.5 599V600M1017.5 599V600M1018.5 599V600M1019.5 599V601M1020.5 599V600M1021.5 599V600M1022.5 599V601M1023.5 599V600M1024.5 599V601M1025.5 599V601M1026.5 599V601M1027.5 599V601M1028.5 599V601M1029.5 599V601M1030.5 599V601M1031.5 599V601M1032.5 600V601M1033.5 599V601M1034.5 599V601M1035.5 600V601M1036.5 599V601M1037.5 600V601M1038.5 599V601M1039.5 599V601M1040.5 599V601M1041.5 600V601M1042.5 600V601M1043.5 600V601M1044.5 600V601M1045.5 599V601M1046.5 599V601M1047.5 599V601M1048.5 599V601M1049.5 599V601M1050.5 599V601M1051.5 599V601M1052.5 599V601M1053.5 599V601M1054.5 599V600M1055.5 599V600M1056.5 599V600M1057.5 599V600M1058.5 599V600M1059.5 599V600M1060.5 599V600M1061.5 599V600M1062.5 599V600M1063.5 599V600M1064.5 599V600M1065.5 599V600M1066.5 599V600M1067.5 598V600M1068.5 599V600M1069.5 599V600M1070.5 598V600M1071.5 598V600M1072.5 598V600M1073.5 598V600M1074.5 598V599M1075.5 598V599M1076.5 598V599M1077.5 598V599M1078.5 597V599M1079.5 598V599M1080.5 597V599M1081.5 597V599M1082.5 597V598M1083.5 597V598M1084.5 597V598M1085.5 597V598M1086.5 597V598M1087.5 597V598M1088.5 596V598M1089.5 596V598M1090.5 596V598M1091.5 596V598M1092.5 596V597M1093.5 596V597M1094.5 596V597M1095.5 596V597M1096.5 596V597M1097.5 595V597M1098.5 595V597M1099.5 595V597M1100.5 595V597M1101.5 595V596M1102.5 595V596M1103.5 595V596M1104.5 595V596M1105.5 595V596M1106.5 594V596M1107.5 594V596M1108.5 594V596M1109.5 594V596M1110.5 594V595M1111.5 594V596M1112.5 594V595M1113.5 594V595M1114.5 594V595M1115.5 593V595M1116.5 593V595M1117.5 593V595M1118.5 593V594M1119.5 593V594M1120.5 593V594M1121.5 593V594M1122.5 593V594M1123.5 593V594M1124.5 592V594M1125.5 592V594M1126.5 592V594M1127.5 592V594M1128.5 592V593M1129.5 592V593M1130.5 592V593M1131.5 592V594M1132.5 592V593M1133.5 592V593M1134.5 592V593M1135.5 592V593M1136.5 592V593M1137.5 592V593M1138.5 592V593M1139.5 592V593M1140.5 592V593M1141.5 592V593M1142.5 592V593M1143.5 592V593M1144.5 592V593M1145.5 592V593M1146.5 592V593M1147.5 592V593M1148.5 592V593M1149.5 592V593M1150.5 591V593M1151.5 591V593M1152.5 592V593M1153.5 591V593M1154.5 591V593M1155.5 592V593M1156.5 591V593M1157.5 592V593M1158.5 591V593M1159.5 591V593M1160.5 591V593M1161.5 591V593M1162.5 591V593M1163.5 591V593M1164.5 591V593M1165.5 591V593M1166.5 591V593M1167.5 591V593M1168.5 591V593M1169.5 591V593M1170.5 591V593M1171.5 592V593M1172.5 591V593M1173.5 591V593M1174.5 592V593M1175.5 591V593M1176.5 591V593M1177.5 591V593M1178.5 591V593M1179.5 591V593M1180.5 592V593M1181.5 591V593M1182.5 591V593M1183.5 591V593M1184.5 592V593M1185.5 591V593M1186.5 591V593M1187.5 591V593M1188.5 591V593M1189.5 591V593M1190.5 591V593M1191.5 591V593M1192.5 591V593M1193.5 591V593M1194.5 591V593M1195.5 591V593M1196.5 591V593M1197.5 591V593M1198.5 591V593M1199.5 591V593M1200.5 591V593M1201.5 591V593M1202.5 592V593M1203.5 591V593M1204.5 591V593M1205.5 591V593M1206.5 591V593M1207.5 591V593M1208.5 591V593M1209.5 591V593M1210.5 591V593M1211.5 591V593M1212.5 592V593M1213.5 592V593M1214.5 592V593M1215.5 592V593M1216.5 591V593M1217.5 591V593M1218.5 591V593M1219.5 592V593M1220.5 592V593M1221.5 592V593M1222.5 592V593M1223.5 591V593M1224.5 592V593M1225.5 592V593M1226.5 592V593M1227.5 592V593M1228.5 592V593M1229.5 592V593M1230.5 592V593M1231.5 592V593M1232.5 592V593M1233.5 592V594M1234.5 592V593M1235.5 592V593M1236.5 592V594M1237.5 592V594M1238.5 592V594M1239.5 592V594M1240.5 592V594M1241.5 592V594M1242.5 592V594M1243.5 592V594M1244.5 593V594M1245.5 593V594M1246.5 592V594M1247.5 593V594M1248.5 592V594M1249.5 593V594M1250.5 592V594M1251.5 592V594M1252.5 592V594M1253.5 592V594M1254.5 592V594M1255.5 592V594M1256.5 592V594M1257.5 592V594M1258.5 592V594M1259.5 592V594" fill="none" stroke="#00c000" stroke-width="1" shape-rendering="crispEdges"/>
<path d="M775.5 555V557M776.5 555V557M777.5 555V557M778.5 555V557M779.5 555V557M780.5 555V557M781.5 555V557M782.5 555V557M783.5 555V557M784.5 555V557M785.5 555V557M786.5 555V557M787.5 555V557M788.5 555V557M789.5 556V557M790.5 556V557M791.5 556V557M792.5 556V557M793.5 555V557M794.5 556V557M795.5 556V557M796.5 556V557M797.5 556V557M798.5 556V557M799.5 556V557M800.5 556V557M801.5 556V557M802.5 556V557M803.5 556V557M804.5 556V557M805.5 556V557M806.5 556V557M807.5 556V557M808.5 556V557M809.5 556V557M810.5 556V557M811.5 556V557M812.5 556V557M813.5 556V557M814.5 556V557M815.5 556V557M816.5 556V557M817.5 556V557M818.5 556V557M819.5 556V557M820.5 556V557M821.5 556V557M822.5 556V557M823.5 556V557M824.5 556V557M825.5 556V557M826.5 556V557M827.5 556V557M828.5 556V557M829.5 556V557M830.5 556V557M831.5 556V557M832.5 556V557M833.5 556V557M834.5 556V557M835.5 556V557M836.5 556V557M837.5 556V557M838.5 556V557M839.5 556V557M840.5 556V557M841.5 556V557M842.5 556V557M843.5 556V557M844.5 556V557M845.5 556V557M846.5 556V557M847.5 556V558M848.5 556V557M849.5 556V557M850.5 556V557M851.5 556V557M852.5 556V558M853.5 556V557M854.5 556V557M855.5 556V557M856.5 556V557M857.5 556V558M858.5 556V557M859.5 556V557M860.5 556V558M861.5 556V557M862.5 556V557M863.5 556V557M864.5 556V558M865.5 556V557M866.5 556V557M867.5 556V558M868.5 556V558M869.5 556V558M870.5 556V558M871.5 556V558M872.5 556V557M873.5 556V557M874.5 556V557M875.5 556V558M876.5 556V558M877.5 556V558M878.5 556V557M879.5 556V558M880.5 556V558M881.5 556V558M882.5 556V558M883.5 556V557M884.5 556V558M885.5 556V558M886.5 556V558M887.5 556V558M888.5 556V558M889.5 556V557M890.5 556V558M891.5 556V557M892.5 556V557M893.5 556V558M894.5 556V557M895.5 556V558M896.5 556V558M897.5 556V558M898.5 556V558M899.5 556V558M900.5 556V558M901.5 556V558M902.5 556V558M903.5 556V558M904.5 556V557M905.5 556V557M906.5 556V558M907.5 556V558M908.5 556V558M909.5 556V558M910.5 556V558M911.5 556V558M912.5 556V558M913.5 556V558M914.5 556V558M915.5 556V557M916.5 556V558M917.5 556V558M918.5 556V558M919.5 556V558M920.5 556V558M921.5 556V558M922.5 556V558M923.5 556V558M924.5 556V558M925.5 556V558M926.5 556V558M927.5 556V558M928.5 556V558M929.5 556V558M930.5 556V558M931.5 556V558M932.5 556V558M933.5 556V558M934.5 556V558M935.5 556V558M936.5 556V558M937.5 556V558M938.5 556V558M939.5 556V558M940.5 556V558M941.5 556V558M942.5 556V558M943.5 556V558M944.5 556V558M945.5 556V558M946.5 556V558M947.5 556V558M948.5 556V558M949.5 556V558M950.5 556V558M951.5 556V558M952.5 556V558M953.5 556V558M954.5 556V558M955.5 556V558M956.5 556V558M957.5 556V558M958.5 556V558M959.5 556V558M960.5 556V558M961.5 556V558M962.5 556V558M963.5 556V558M964.5 556V558M965.5 556V558M966.5 556V558M967.5 556V558M968.5 556V558M969.5 556V558M970.5 556V558M971.5 556V558M972.5 556V558M973.5 556V558M974.5 556V558M975.5 557V558M976.5 557V558M977.5 556V558M978.5 556V558M979.5 556V558M980.5 557V558M981.5 556V558M982.5 557V558M983.5 556V558M984.5 556V558M985.5 556V558M986.5 556V558M987.5 556V558M988.5 557V558M989.5 557V558M990.5 557V558M991.5 556V558M992.5 557V558M993.5 556V558M994.5 557V558M995.5 557V558M996.5 556V558M997.5 556V558M998.5 557V558M999.5 556V558M1000.5 557V558M1001.5 556V558M1002.5 556V558M1003.5 557V558M1004.5 557V558M1005.5 557V558M1006.5 557V558M1007.5 557V558M1008.5 557V558M1009.5 557V558M1010.5 557V558M1011.5 557V558M1012.5 557V558M1013.5 557V558M1014.5 557V558M1015.5 557V559M1016.5 557V558M1017.5 557V558M1018.5 557V558M1019.5 557V558M1020.5 557V558M1021.5 557V558M1022.5 557V558M1023.5 557V558M1024.5 557V558M1025.5 557V558M1026.5 557V558M1027.5 557V558M1028.5 557V558M1029.5 557V558M1030.5 557V558M1031.5 557V558M1032.5 557V558M1033.5 557V558M1034.5 557V558M1035.5 557V558M1036.5 557V558M1037.5 557V558M1038.5 557V558M1039.5 557V558M1040.5 557V558M1041.5 557V558M1042.5 557V558M1043.5 557V558M1044.5 556V558M1045.5 557V558M1046.5 556V558M1047.5 557V558M1048.5 557V558M1049.5 557V558M1050.5 556V558M1051.5 557V558M1052.5 556V558M1053.5 556V558M1054.5 557V558M1055.5 556V558M1056.5 556V558M1057.5 556V558M1058.5 556V558M1059.5 556V558M1060.5 556V558M1061.5 556V558M1062.5 556V558M1063.5 556V558M1064.5 556V558M1065.5 556V558M1066.5 556V558M1067.5 556V558M1068.5 556V558M1069.5 556V558M1070.5 556V558M1071.5 556V558M1072.5 556V558M1073.5 556V558M1074.5 556V558M1075.5 556V558M1076.5 556V558M1077.5 556V558M1078.5 556V558M1079.5 556V558M1080.5 556V558M1081.5 556V558M1082.5 556V558M1083.5 557V558M1084.5 556V558M1085.5 556V558M1086.5 556V558M1087.5 557V558M1088.5 556V558M1089.5 556V558M1090.5 556V558M1091.5 556V558M1092.5 556V558M1093.5 556V558M1094.5 557V558M1095.5 557V558M1096.5 557V558M1097.5 557V558M1098.5 556V558M1099.5 557V558M1100.5 557V558M1101.5 557V558M1102.5 557V558M1103.5 557V558M1104.5 556V558M1105.5 557V558M1106.5 557V558M1107.5 556V558M1108.5 557V558M1109.5 557V558M1110.5 557V558M1111.5 557V558M1112.5 557V558M1113.5 556V558M1114.5 556V558M1115.5 557V558M1116.5 556V558M1117.5 556V558M1118.5 557V558M1119.5 557V558M1120.5 557V558M1121.5 557V558M1122.5 557V558M1123.5 557V558M1124.5 557V558M1125.5 557V558M1126.5 556V558M1127.5 556V558M1128.5 556V558M1129.5 557V558M1130.5 557V558M1131.5 557V558M1132.5 557V558M1133.5 557V558M1134.5 557V558M1135.5 556V558M1136.5 557V558M1137.5 557V558M1138.5 557V558M1139.5 557V558M1140.5 557V558M1141.5 557V558M1142.5 557V558M1143.5 557V558M1144.5 557V558M1145.5 557V558M1146.5 557V558M1147.5 557V558M1148.5 557V558M1149.5 557V558M1150.5 557V558M1151.5 557V558M1152.5 557V558M1153.5 557V558M1154.5 557V558M1155.5 557V558M1156.5 557V558M1157.5 557V558M1158.5 557V558M1159.5 557V558M1160.5 557V558M1161.5 557V558M1162.5 557V558M1163.5 557V558M1164.5 557V558M1165.5 557V558M1166.5 557V558M1167.5 557V558M1168.5 557V558M1169.5 557V558M1170.5 557V558M1171.5 557V558M1172.5 557V558M1173.5 557V558M1174.5 557V558M1175.5 557V558M1176.5 557V558M1177.5 557V558M1178.5 557V558M1179.5 557V558M1180.5 557V558M1181.5 557V558M1182.5 557V558M1183.5 557V558M1184.5 557V558M1185.5 557V558M1186.5 557V558M1187.5 557V558M1188.5 557V558M1189.5 557V558M1190.5 557V558M1191.5 557V558M1192.5 557V558M1193.5 557V558M1194.5 557V558M1195.5 557V558M1196.5 557V558M1197.5 557V558M1198.5 557V558M1199.5 557V558M1200.5 557V558M1201.5 557V558M1202.5 557V558M1203.5 557V558M1204.5 557V558M1205.5 557V558M1206.5 557V558M1207.5 557V558M1208.5 557V558M1209.5 557V558M1210.5 557V558M1211.5 557V558M1212.5 557V558M1213.5 557V558M1214.5 557V558M1215.5 557V558M1216.5 557V558M1217.5 557V558M1218.5 557V558M1219.5 557V558M1220.5 557V558M1221.5 557V558M1222.5 557V558M1223.5 557V558M1224.5 557V558M1225.5 557V559M1226.5 557V559M1227.5 557V558M1228.5 557V558M1229.5 557V559M1230.5 557V559M1231.5 557V558M1232.5 557V559M1233.5 557V559M1234.5 557V559M1235.5 557V558M1236.5 557V559M1237.5 557V559M1238.5 557V559M1239.5 557V559M1240.5 557V559M1241.5 557V559M1242.5 557V559M1243.5 557V558M1244.5 557V559M1245.5 557V559M1246.5 557V559M1247.5 557V559M1248.5 557V559M1249.5 557V559M1250.5 557V559M1251.5 557V559M1252.5 557V559M1253.5 557V559M1254.5 557V559M1255.5 557V559M1256.5 557V559M1257.5 557V559M1258.5 557V559M1259.5 557V559" fill="none" stroke="#0080ff" stroke-width="1" shape-rendering="crispEdges"/>
<path d="M775.5 504V506M776.5 504V506M777.5 504V506M778.5 504V506M779.5 504V506M780.5 504V506M781.5 504V506M782.5 504V506M783.5 504V506M784.5 504V506M785.5 504V506M786.5 504V506M787.5 504V506M788.5 504V506M789.5 504V506M790.5 504V506M791.5 504V506M792.5 504V506M793.5 504V506M794.5 504V506M795.5 504V506M796.5 504V506M797.5 504V506M798.5 504V506M799.5 504V506M800.5 505V506M801.5 505V506M802.5 505V506M803.5 504V506M804.5 505V506M805.5 504V506M806.5 504V506M807.5 505V506M808.5 505V506M809.5 505V506M810.5 505V506M811.5 505V506M812.5 505V506M813.5 505V506M814.5 505V506M815.5 505V506M816.5 505V506M817.5 505V506M818.5 505V506M819.5 505V506M820.5 505V506M821.5 505V506M822.5 505V506M823.5 505V506M824.5 505V506M825.5 505V506M826.5 505V506M827.5 505V506M828.5 505V506M829.5 505V506M830.5 505V506M831.5 505V506M832.5 505V506M833.5 505V506M834.5 505V506M835.5 505V506M836.5 505V506M837.5 505V506M838.5 505V506M839.5 505V506M840.5 505V506M841.5 505V506M842.5 505V506M843.5 505V506M844.5 505V506M845.5 505V506M846.5 505V506M847.5 505V506M848.5 505V506M849.5 505V506M850.5 505V506M851.5 505V506M852.5 505V506M853.5 505V506M854.5 505V506M855.5 505V506M856.5 505V506M857.5 505V506M858.5 505V506M859.5 505V506M860.5 505V506M861.5 505V506M862.5 505V506M863.5 505V506M864.5 505V506M865.5 505V507M866.5 505V506M867.5 505V507M868.5 505V507M869.5 505V507M870.5 505V507M871.5 505V506M872.5 505V506M873.5 505V507M874.5 505V507M875.5 505V507M876.5 505V506M877.5 505V507M878.5 505V506M879.5 505V507M880.5 505V507M881.5 505V507M882.5 505V507M883.5 505V507M884.5 505V507M885.5 505V506M886.5 505V507M887.5 505V507M888.5 505V506M889.5 505V507M890.5 505V507M891.5 505V507M892.5 505V507M893.5 505V507M894.5 505V506M895.5 505V507M896.5 505V507M897.5 505V507M898.5 505V507M899.5 505V507M900.5 505V507M901.5 505V507M902.5 505V507M903.5 505V507M904.5 505V507M905.5 505V506M906.5 505V507M907.5 505V507M908.5 505V507M909.5 505V506M910.5 505V507M911.5 505V507M912.5 505V507M913.5 505V506M914.5 505V507M915.5 505V506M916.5 505V507M917.5 505V507M918.5 505V507M919.5 505V507M920.5 505V507M921.5 505V507M922.5 505V507M923.5 505V507M924.5 505V507M925.5 505V506M926.5 505V507M927.5 505V507M928.5 505V507M929.5 505V507M930.5 505V506M931.5 505V506M932.5 505V507M933.5 505V507M934.5 505V507M935.5 505V506M936.5 505V507M937.5 505V507M938.5 505V507M939.5 505V507M940.5 505V507M941.5 505V507M942.5 505V507M943.5 505V507M944.5 505V507M945.5 505V507M946.5 505V507M947.5 505V507M948.5 505V507M949.5 505V507M950.5 505V507M951.5 505V507M952.5 505V507M953.5 505V507M954.5 505V507M955.5 505V507M956.5 505V507M957.5 505V507M958.5 505V507M959.5 505V507M960.5 505V507M961.5 505V507M962.5 505V507M963.5 505V507M964.5 505V507M965.5 505V507M966.5 505V507M967.5 505V507M968.5 505V507M969.5 505V507M970.5 506V507M971.5 505V507M972.5 505V507M973.5 505V507M974.5 505V507M975.5 505V507M976.5 505V507M977.5 505V507M978.5 505V507M979.5 505V507M980.5 505V507M981.5 505V507M982.5 505V507M983.5 505V507M984.5 505V507M985.5 506V507M986.5 505V507M987.5 505V507M988.5 505V507M989.5 505V507M990.5 506V507M991.5 505V507M992.5 505V507M993.5 505V507M994.5 505V507M995.5 505V507M996.5 505V507M997.5 506V507M998.5 506V507M999.5 506V507M1000.5 506V507M1001.5 506V507M1002.5 506V507M1003.5 506V507M1004.5 505V507M1005.5 505V507M1006.5 505V507M1007.5 506V507M1008.5 505V507M1009.5 506V507M1010.5 506V507M1011.5 506V507M1012.5 506V507M1013.5 505V507M1014.5 506V507M1015.5 505V507M1016.5 506V507M1017.5 505V507M1018.5 505V507M1019.5 506V507M1020.5 505V507M1021.5 505V507M1022.5 505V507M1023.5 505V507M1024.5 505V507M1025.5 505V507M1026.5 505V507M1027.5 505V507M1028.5 505V507M1029.5 505V507M1030.5 505V507M1031.5 505V507M1032.5 505V507M1033.5 506V507M1034.5 506V507M1035.5 505V507M1036.5 505V507M1037.5 506V507M1038.5 505V507M1039.5 505V507M1040.5 505V507M1041.5 505V507M1042.5 505V507M1043.5 505V507M1044.5 505V507M1045.5 505V507M1046.5 505V507M1047.5 505V507M1048.5 505V507M1049.5 505V507M1050.5 505V507M1051.5 505V507M1052.5 506V507M1053.5 506V507M1054.5 505V507M1055.5 505V507M1056.5 505V507M1057.5 505V507M1058.5 505V507M1059.5 505V507M1060.5 505V507M1061.5 505V507M1062.5 505V507M1063.5 505V507M1064.5 505V507M1065.5 505V507M1066.5 506V507M1067.5 506V507M1068.5 505V507M1069.5 506V507M1070.5 506V507M1071.5 506V507M1072.5 506V507M1073.5 506V507M1074.5 506V507M1075.5 506V507M1076.5 506V507M1077.5 506V507M1078.5 506V507M1079.5 506V507M1080.5 506V507M1081.5 506V507M1082.5 506V507M1083.5 506V507M1084.5 506V507M1085.5 506V507M1086.5 506V507M1087.5 506V507M1088.5 506V508M1089.5 506V508M1090.5 506V507M1091.5 506V508M1092.5 506V507M1093.5 506V507M1094.5 506V507M1095.5 506V507M1096.5 506V507M1097.5 506V507M1098.5 506V507M1099.5 506V507M1100.5 506V507M1101.5 506V507M1102.5 506V507M1103.5 506V507M1104.5 506V507M1105.5 506V507M1106.5 506V507M1107.5 506V507M1108.5 506V507M1109.5 505V507M1110.5 505V507M1111.5 505V507M1112.5 505V507M1113.5 505V507M1114.5 506V507M1115.5 506V507M1116.5 506V507M1117.5 506V507M1118.5 506V507M1119.5 506V507M1120.5 506V507M1121.5 506V507M1122.5 506V507M1123.5 506V507M1124.5 506V507M1125.5 506V508M1126.5 506V508M1127.5 506V507M1128.5 506V508M1129.5 506V508M1130.5 506V508M1131.5 506V508M1132.5 506V508M1133.5 506V508M1134.5 506V508M1135.5 506V508M1136.5 506V508M1137.5 506V508M1138.5 506V508M1139.5 506V508M1140.5 506V508M1141.5 506V508M1142.5 506V508M1143.5 506V508M1144.5 506V508M1145.5 506V508M1146.5 506V508M1147.5 506V508M1148.5 506V508M1149.5 506V508M1150.5 506V508M1151.5 506V508M1152.5 506V508M1153.5 506V508M1154.5 506V508M1155.5 506V508M1156.5 506V508M1157.5 506V508M1158.5 506V508M1159.5 506V508M1160.5 506V508M1161.5 506V508M1162.5 506V508M1163.5 506V508M1164.5 506V508M1165.5 506V508M1166.5 506V508M1167.5 506V508M1168.5 506V508M1169.5 506V508M1170.5 506V507M1171.5 506V508M1172.5 506V508M1173.5 506V508M1174.5 506V508M1175.5 506V508M1176.5 506V508M1177.5 506V508M1178.5 506V508M1179.5 506V508M1180.5 506V508M1181.5 506V508M1182.5 506V508M1183.5 506V508M1184.5 506V508M1185.5 506V508M1186.5 506V507M1187.5 506V508M1188.5 506V508M1189.5 506V508M1190.5 506V507M1191.5 506V508M1192.5 506V508M1193.5 506V508M1194.5 506V507M1195.5 506V508M1196.5 506V508M1197.5 506V508M1198.5 506V507M1199.5 506V508M1200.5 506V508M1201.5 506V508M1202.5 506V508M1203.5 506V508M1204.5 506V508M1205.5 506V508M1206.5 506V508M1207.5 506V508M1208.5 506V508M1209.5 506V508M1210.5 506V508M1211.5 506V508M1212.5 506V508M1213.5 506V508M1214.5 506V508M1215.5 506V508M1216.5 506V508M1217.5 506V508M1218.5 506V508M1219.5 506V508M1220.5 506V508M1221.5 506V508M1222.5 506V508M1223.5 506V508M1224.5 506V508M1225.5 506V508M1226.5 506V508M1227.5 506V508M1228.5 506V508M1229.5 506V508M1230.5 506V508M1231.5 506V508M1232.5 506V508M1233.5 506V508M1234.5 506V508M1235.5 506V508M1236.5 506V508M1237.5 506V508M1238.5 506V508M1239.5 506V508M1240.5 506V508M1241.5 506V508M1242.5 506V508M1243.5 506V508M1244.5 506V508M1245.5 507V508M1246.5 506V508M1247.5 506V508M1248.5 506V508M1249.5 506V508M1250.5 507V508M1251.5 506V508M1252.5 506V508M1253.5 507V508M1254.5 506V508M1255.5 506V508M1256.5 506V508M1257.5 506V508M1258.5 506V508M1259.5 506V508" fill="none" stroke="#c000ff" stroke-width="1" shape-rendering="crispEdges"/>
</g>
<path d="M55.5 25.5H619.5V166.5H55.5ZM75.5 166.5v-2.5M75.5 25.5v2.5M95.5 166.5v-2.5M95.5 25.5v2.5M115.5 166.5v-2.5M115.5 25.5v2.5M136.5 166.5v-4.0M136.5 25.5v4.0M156.5 166.5v-2.5M156.5 25.5v2.5M176.5 166.5v-2.5M176.5 25.5v2.5M196.5 166.5v-2.5M196.5 25.5v2.5M216.5 166.5v-4.0M216.5 25.5v4.0M236.5 166.5v-2.5M236.5 25.5v2.5M256.5 166.5v-2.5M256.5 25.5v2.5M277.5 166.5v-2.5M277.5 25.5v2.5M297.5 166.5v-4.0M297.5 25.5v4.0M317.5 166.5v-2.5M317.5 25.5v2.5M337.5 166.5v-2.5M337.5 25.5v2.5M357.5 166.5v-2.5M357.5 25.5v2.5M377.5 166.5v-4.0M377.5 25.5v4.0M397.5 166.5v-2.5M397.5 25.5v2.5M418.5 166.5v-2.5M418.5 25.5v2.5M438.5 166.5v-2.5M438.5 25.5v2.5M458.5 166.5v-4.0M458.5 25.5v4.0M478.5 166.5v-2.5M478.5 25.5v2.5M498.5 166.5v-2.5M498.5 25.5v2.5M518.5 166.5v-2.5M518.5 25.5v2.5M538.5 166.5v-4.0M538.5 25.5v4.0M559.5 166.5v-2.5M559.5 25.5v2.5M579.5 166.5v-2.5M579.5 25.5v2.5M599.5 166.5v-2.5M599.5 25.5v2.5M55.5 153.5h4M619.5 153.5h-4M55.5 140.5h4M619.5 140.5h-4M55.5 128.5h4M619.5 128.5h-4M55.5 115.5h4M619.5 115.5h-4M55.5 102.5h4M619.5 102.5h-4M55.5 89.5h4M619.5 89.5h-4M55.5 76.5h4M619.5 76.5h-4M55.5 63.5h4M619.5 63.5h-4M55.5 51.5h4M619.5 51.5h-4M55.5 38.5h4M619.5 38.5h-4" fill="none" stroke="#000" stroke-width="1" shape-rendering="crispEdges"/>
<path d="M55.5 181.5H619.5V322.5H55.5ZM75.5 322.5v-2.5M75.5 181.5v2.5M95.5 322.5v-2.5M95.5 181.5v2.5M115.5 322.5v-2.5M115.5 181.5v2.5M136.5 322.5v-4.0M136.5 181.5v4.0M156.5 322.5v-2.5M156.5 181.5v2.5M176.5 322.5v-2.5M176.5 181.5v2.5M196.5 322.5v-2.5M196.5 181.5v2.5M216.5 322.5v-4.0M216.5 181.5v4.0M236.5 322.5v-2.5M236.5 181.5v2.5M256.5 322.5v-2.5M256.5 181.5v2.5M277.5 322.5v-2.5M277.5 181.5v2.5M297.5 322.5v-4.0M297.5 181.5v4.0M317.5 322.5v-2.5M317.5 181.5v2.5M337.5 322.5v-2.5M337.5 181.5v2.5M357.5 322.5v-2.5M357.5 181.5v2.5M377.5 322.5v-4.0M377.5 181.5v4.0M397.5 322.5v-2.5M397.5 181.5v2.5M418.5 322.5v-2.5M418.5 181.5v2.5M438.5 322.5v-2.5M438.5 181.5v2.5M458.5 322.5v-4.0M458.5 181.5v4.0M478.5 322.5v-2.5M478.5 181.5v2.5M498.5 322.5v-2.5M498.5 181.5v2.5M518.5 322.5v-2.5M518.5 181.5v2.5M538.5 322.5v-4.0M538.5 181.5v4.0M559.5 322.5v-2.5M559.5 181.5v2.5M579.5 322.5v-2.5M579.5 181.5v2.5M599.5 322.5v-2.5M599.5 181.5v2.5M55.5 302.5h4M619.5 302.5h-4M55.5 282.5h4M619.5 282.5h-4M55.5 262.5h4M619.5 262.5h-4M55.5 241.5h4M619.5 241.5h-4M55.5 221.5h4M619.5 221.5h-4M55.5 201.5h4M619.5 201.5h-4" fill="none" stroke="#000" stroke-width="1" shape-rendering="crispEdges"/>
<path d="M55.5 337.5H619.5V478.5H55.5ZM75.5 478.5v-2.5M75.5 337.5v2.5M95.5 478.5v-2.5M95.5 337.5v2.5M115.5 478.5v-2.5M115.5 337.5v2.5M136.5 478.5v-4.0M136.5 337.5v4.0M156.5 478.5v-2.5M156.5 337.5v2.5M176.5 478.5v-2.5M176.5 337.5v2.5M196.5 478.5v-2.5M196.5 337.5v2.5M216.5 478.5v-4.0M216.5 337.5v4.0M236.5 478.5v-2.5M236.5 337.5v2.5M256.5 478.5v-2.5M256.5 337.5v2.5M277.5 478.5v-2.5M277.5 337.5v2.5M297.5 478.5v-4.0M297.5 337.5v4.0M317.5 478.5v-2.5M317.5 337.5v2.5M337.5 478.5v-2.5M337.5 337.5v2.5M357.5 478.5v-2.5M357.5 337.5v2.5M377.5 478.5v-4.0M377.5 337.5v4.0M397.5 478.5v-2.5M397.5 337.5v2.5M418.5 478.5v-2.5M418.5 337.5v2.5M438.5 478.5v-2.5M438.5 337.5v2.5M458.5 478.5v-4.0M458.5 337.5v4.0M478.5 478.5v-2.5M478.5 337.5v2.5M498.5 478.5v-2.5M498.5 337.5v2.5M518.5 478.5v-2.5M518.5 337.5v2.5M538.5 478.5v-4.0M538.5 337.5v4.0M559.5 478.5v-2.5M559.5 337.5v2.5M579.5 478.5v-2.5M579.5 337.5v2.5M599.5 478.5v-2.5M599.5 337.5v2.5M55.5 462.5h4M619.5 462.5h-4M55.5 447.5h4M619.5 447.5h-4M55.5 431.5h4M619.5 431.5h-4M55.5 415.5h4M619.5 415.5h-4M55.5 400.5h4M619.5 400.5h-4M55.5 384.5h4M619.5 384.5h-4M55.5 368.5h4M619.5 368.5h-4M55.5 353.5h4M619.5 353.5h-4" fill="none" stroke="#000" stroke-width="1" shape-rendering="crispEdges"/>
<path d="M55.5 493.5H619.5V634.5H55.5ZM75.5 634.5v-2.5M75.5 493.5v2.5M95.5 634.5v-2.5M95.5 493.5v2.5M115.5 634.5v-2.5M115.5 493.5v2.5M136.5 634.5v-4.0M136.5 493.5v4.0M156.5 634.5v-2.5M156.5 493.5v2.5M176.5 634.5v-2.5M176.5 493.5v2.5M196.5 634.5v-2.5M196.5 493.5v2.5M216.5 634.5v-4.0M216.5 493.5v4.0M236.5 634.5v-2.5M236.5 493.5v2.5M256.5 634.5v-2.5M256.5 493.5v2.5M277.5 634.5v-2.5M277.5 493.5v2.5M297.5 634.5v-4.0M297.5 493.5v4.0M317.5 634.5v-2.5M317.5 493.5v2.5M337.5 634.5v-2.5M337.5 493.5v2.5M357.5 634.5v-2.5M357.5 493.5v2.5M377.5 634.5v-4.0M377.5 493.5v4.0M397.5 634.5v-2.5M397.5 493.5v2.5M418.5 634.5v-2.5M418.5 493.5v2.5M438.5 634.5v-2.5M438.5 493.5v2.5M458.5 634.5v-4.0M458.5 493.5v4.0M478.5 634.5v-2.5M478.5 493.5v2.5M498.5 634.5v-2.5M498.5 493.5v2.5M518.5 634.5v-2.5M518.5 493.5v2.5M538.5 634.5v-4.0M538.5 493.5v4.0M559.5 634.5v-2.5M559.5 493.5v2.5M579.5 634.5v-2.5M579.5 493.5v2.5M599.5 634.5v-2.5M599.5 493.5v2.5M55.5 614.5h4M619.5 614.5h-4M55.5 594.5h4M619.5 594.5h-4M55.5 574.5h4M619.5 574.5h-4M55.5 553.5h4M619.5 553.5h-4M55.5 533.5h4M619.5 533.5h-4M55.5 513.5h4M619.5 513.5h-4" fill="none" stroke="#000" stroke-width="1" shape-rendering="crispEdges"/>
<path d="M55.5 649.5H619.5V790.5H55.5ZM75.5 790.5v-2.5M75.5 649.5v2.5M95.5 790.5v-2.5M95.5 649.5v2.5M115.5 790.5v-2.5M115.5 649.5v2.5M136.5 790.5v-4.0M136.5 649.5v4.0M156.5 790.5v-2.5M156.5 649.5v2.5M176.5 790.5v-2.5M176.5 649.5v2.5M196.5 790.5v-2.5M196.5 649.5v2.5M216.5 790.5v-4.0M216.5 649.5v4.0M236.5 790.5v-2.5M236.5 649.5v2.5M256.5 790.5v-2.5M256.5 649.5v2.5M277.5 790.5v-2.5M277.5 649.5v2.5M297.5 790.5v-4.0M297.5 649.5v4.0M317.5 790.5v-2.5M317.5 649.5v2.5M337.5 790.5v-2.5M337.5 649.5v2.5M357.5 790.5v-2.5M357.5 649.5v2.5M377.5 790.5v-4.0M377.5 649.5v4.0M397.5 790.5v-2.5M397.5 649.5v2.5M418.5 790.5v-2.5M418.5 649.5v2.5M438.5 790.5v-2.5M438.5 649.5v2.5M458.5 790.5v-4.0M458.5 649.5v4.0M478.5 790.5v-2.5M478.5 649.5v2.5M498.5 790.5v-2.5M498.5 649.5v2.5M518.5 790.5v-2.5M518.5 649.5v2.5M538.5 790.5v-4.0M538.5 649.5v4.0M559.5 790.5v-2.5M559.5 649.5v2.5M579.5 790.5v-2.5M579.5 649.5v2.5M599.5 790.5v-2.5M599.5 649.5v2.5M55.5 755.5h4M619.5 755.5h-4M55.5 720.5h4M619.5 720.5h-4M55.5 684.5h4M619.5 684.5h-4" fill="none" stroke="#000" stroke-width="1" shape-rendering="crispEdges"/>
<path d="M55.5 805.5H619.5V920.5H55.5ZM75.5 920.5v-2.5M75.5 805.5v2.5M95.5 920.5v-2.5M95.5 805.5v2.5M115.5 920.5v-2.5M115.5 805.5v2.5M136.5 920.5v-4.0M136.5 805.5v4.0M156.5 920.5v-2.5M156.5 805.5v2.5M176.5 920.5v-2.5M176.5 805.5v2.5M196.5 920.5v-2.5M196.5 805.5v2.5M216.5 920.5v-4.0M216.5 805.5v4.0M236.5 920.5v-2.5M236.5 805.5v2.5M256.5 920.5v-2.5M256.5 805.5v2.5M277.5 920.5v-2.5M277.5 805.5v2.5M297.5 920.5v-4.0M297.5 805.5v4.0M317.5 920.5v-2.5M317.5 805.5v2.5M337.5 920.5v-2.5M337.5 805.5v2.5M357.5 920.5v-2.5M357.5 805.5v2.5M377.5 920.5v-4.0M377.5 805.5v4.0M397.5 920.5v-2.5M397.5 805.5v2.5M418.5 920.5v-2.5M418.5 805.5v2.5M438.5 920.5v-2.5M438.5 805.5v2.5M458.5 920.5v-4.0M458.5 805.5v4.0M478.5 920.5v-2.5M478.5 805.5v2.5M498.5 920.5v-2.5M498.5 805.5v2.5M518.5 920.5v-2.5M518.5 805.5v2.5M538.5 920.5v-4.0M538.5 805.5v4.0M559.5 920.5v-2.5M559.5 805.5v2.5M579.5 920.5v-2.5M579.5 805.5v2.5M599.5 920.5v-2.5M599.5 805.5v2.5M55.5 908.5h4M619.5 908.5h-4M55.5 897.5h4M619.5 897.5h-4M55.5 886.5h4M619.5 886.5h-4M55.5 874.5h4M619.5 874.5h-4M55.5 862.5h4M619.5 862.5h-4M55.5 851.5h4M619.5 851.5h-4M55.5 840.5h4M619.5 840.5h-4M55.5 828.5h4M619.5 828.5h-4M55.5 816.5h4M619.5 816.5h-4" fill="none" stroke="#000" stroke-width="1" shape-rendering="crispEdges"/>
<path d="M695.5 25.5H1259.5V166.5H695.5ZM715.5 166.5v-2.5M715.5 25.5v2.5M735.5 166.5v-2.5M735.5 25.5v2.5M755.5 166.5v-2.5M755.5 25.5v2.5M776.5 166.5v-4.0M776.5 25.5v4.0M796.5 166.5v-2.5M796.5 25.5v2.5M816.5 166.5v-2.5M816.5 25.5v2.5M836.5 166.5v-2.5M836.5 25.5v2.5M856.5 166.5v-4.0M856.5 25.5v4.0M876.5 166.5v-2.5M876.5 25.5v2.5M896.5 166.5v-2.5M896.5 25.5v2.5M917.5 166.5v-2.5M917.5 25.5v2.5M937.5 166.5v-4.0M937.5 25.5v4.0M957.5 166.5v-2.5M957.5 25.5v2.5M977.5 166.5v-2.5M977.5 25.5v2.5M997.5 166.5v-2.5M997.5 25.5v2.5M1017.5 166.5v-4.0M1017.5 25.5v4.0M1037.5 166.5v-2.5M1037.5 25.5v2.5M1058.5 166.5v-2.5M1058.5 25.5v2.5M1078.5 166.5v-2.5M1078.5 25.5v2.5M1098.5 166.5v-4.0M1098.5 25.5v4.0M1118.5 166.5v-2.5M1118.5 25.5v2.5M1138.5 166.5v-2.5M1138.5 25.5v2.5M1158.5 166.5v-2.5M1158.5 25.5v2.5M1178.5 166.5v-4.0M1178.5 25.5v4.0M1199.5 166.5v-2.5M1199.5 25.5v2.5M1219.5 166.5v-2.5M1219.5 25.5v2.5M1239.5 166.5v-2.5M1239.5 25.5v2.5M695.5 148.5h4M1259.5 148.5h-4M695.5 131.5h4M1259.5 131.5h-4M695.5 113.5h4M1259.5 113.5h-4M695.5 95.5h4M1259.5 95.5h-4M695.5 78.5h4M1259.5 78.5h-4M695.5 60.5h4M1259.5 60.5h-4M695.5 43.5h4M1259.5 43.5h-4" fill="none" stroke="#000" stroke-width="1" shape-rendering="crispEdges"/>
<path d="M695.5 181.5H1259.5V322.5H695.5ZM715.5 322.5v-2.5M715.5 181.5v2.5M735.5 322.5v-2.5M735.5 181.5v2.5M755.5 322.5v-2.5M755.5 181.5v2.5M776.5 322.5v-4.0M776.5 181.5v4.0M796.5 322.5v-2.5M796.5 181.5v2.5M816.5 322.5v-2.5M816.5 181.5v2.5M836.5 322.5v-2.5M836.5 181.5v2.5M856.5 322.5v-4.0M856.5 181.5v4.0M876.5 322.5v-2.5M876.5 181.5v2.5M896.5 322.5v-2.5M896.5 181.5v2.5M917.5 322.5v-2.5M917.5 181.5v2.5M937.5 322.5v-4.0M937.5 181.5v4.0M957.5 322.5v-2.5M957.5 181.5v2.5M977.5 322.5v-2.5M977.5 181.5v2.5M997.5 322.5v-2.5M997.5 181.5v2.5M1017.5 322.5v-4.0M1017.5 181.5v4.0M1037.5 322.5v-2.5M1037.5 181.5v2.5M1058.5 322.5v-2.5M1058.5 181.5v2.5M1078.5 322.5v-2.5M1078.5 181.5v2.5M1098.5 322.5v-4.0M1098.5 181.5v4.0M1118.5 322.5v-2.5M1118.5 181.5v2.5M1138.5 322.5v-2.5M1138.5 181.5v2.5M1158.5 322.5v-2.5M1158.5 181.5v2.5M1178.5 322.5v-4.0M1178.5 181.5v4.0M1199.5 322.5v-2.5M1199.5 181.5v2.5M1219.5 322.5v-2.5M1219.5 181.5v2.5M1239.5 322.5v-2.5M1239.5 181.5v2.5M695.5 304.5h4M1259.5 304.5h-4M695.5 287.5h4M1259.5 287.5h-4M695.5 269.5h4M1259.5 269.5h-4M695.5 252.5h4M1259.5 252.5h-4M695.5 234.5h4M1259.5 234.5h-4M695.5 216.5h4M1259.5 216.5h-4M695.5 199.5h4M1259.5 199.5h-4" fill="none" stroke="#000" stroke-width="1" shape-rendering="crispEdges"/>
<path d="M695.5 337.5H1259.5V478.5H695.5ZM715.5 478.5v-2.5M715.5 337.5v2.5M735.5 478.5v-2.5M735.5 337.5v2.5M755.5 478.5v-2.5M755.5 337.5v2.5M776.5 478.5v-4.0M776.5 337.5v4.0M796.5 478.5v-2.5M796.5 337.5v2.5M816.5 478.5v-2.5M816.5 337.5v2.5M836.5 478.5v-2.5M836.5 337.5v2.5M856.5 478.5v-4.0M856.5 337.5v4.0M876.5 478.5v-2.5M876.5 337.5v2.5M896.5 478.5v-2.5M896.5 337.5v2.5M917.5 478.5v-2.5M917.5 337.5v2.5M937.5 478.5v-4.0M937.5 337.5v4.0M957.5 478.5v-2.5M957.5 337.5v2.5M977.5 478.5v-2.5M977.5 337.5v2.5M997.5 478.5v-2.5M997.5 337.5v2.5M1017.5 478.5v-4.0M1017.5 337.5v4.0M1037.5 478.5v-2.5M1037.5 337.5v2.5M1058.5 478.5v-2.5M1058.5 337.5v2.5M1078.5 478.5v-2.5M1078.5 337.5v2.5M1098.5 478.5v-4.0M1098.5 337.5v4.0M1118.5 478.5v-2.5M1118.5 337.5v2.5M1138.5 478.5v-2.5M1138.5 337.5v2.5M1158.5 478.5v-2.5M1158.5 337.5v2.5M1178.5 478.5v-4.0M1178.5 337.5v4.0M1199.5 478.5v-2.5M1199.5 337.5v2.5M1219.5 478.5v-2.5M1219.5 337.5v2.5M1239.5 478.5v-2.5M1239.5 337.5v2.5M695.5 460.5h4M1259.5 460.5h-4M695.5 443.5h4M1259.5 443.5h-4M695.5 425.5h4M1259.5 425.5h-4M695.5 408.5h4M1259.5 408.5h-4M695.5 390.5h4M1259.5 390.5h-4M695.5 372.5h4M1259.5 372.5h-4M695.5 355.5h4M1259.5 355.5h-4" fill="none" stroke="#000" stroke-width="1" shape-rendering="crispEdges"/>
<path d="M695.5 493.5H1259.5V634.5H695.5ZM715.5 634.5v-2.5M715.5 493.5v2.5M735.5 634.5v-2.5M735.5 493.5v2.5M755.5 634.5v-2.5M755.5 493.5v2.5M776.5 634.5v-4.0M776.5 493.5v4.0M796.5 634.5v-2.5M796.5 493.5v2.5M816.5 634.5v-2.5M816.5 493.5v2.5M836.5 634.5v-2.5M836.5 493.5v2.5M856.5 634.5v-4.0M856.5 493.5v4.0M876.5 634.5v-2.5M876.5 493.5v2.5M896.5 634.5v-2.5M896.5 493.5v2.5M917.5 634.5v-2.5M917.5 493.5v2.5M937.5 634.5v-4.0M937.5 493.5v4.0M957.5 634.5v-2.5M957.5 493.5v2.5M977.5 634.5v-2.5M977.5 493.5v2.5M997.5 634.5v-2.5M997.5 493.5v2.5M1017.5 634.5v-4.0M1017.5 493.5v4.0M1037.5 634.5v-2.5M1037.5 493.5v2.5M1058.5 634.5v-2.5M1058.5 493.5v2.5M1078.5 634.5v-2.5M1078.5 493.5v2.5M1098.5 634.5v-4.0M1098.5 493.5v4.0M1118.5 634.5v-2.5M1118.5 493.5v2.5M1138.5 634.5v-2.5M1138.5 493.5v2.5M1158.5 634.5v-2.5M1158.5 493.5v2.5M1178.5 634.5v-4.0M1178.5 493.5v4.0M1199.5 634.5v-2.5M1199.5 493.5v2.5M1219.5 634.5v-2.5M1219.5 493.5v2.5M1239.5 634.5v-2.5M1239.5 493.5v2.5M695.5 620.5h4M1259.5 620.5h-4M695.5 606.5h4M1259.5 606.5h-4M695.5 592.5h4M1259.5 592.5h-4M695.5 578.5h4M1259.5 578.5h-4M695.5 564.5h4M1259.5 564.5h-4M695.5 549.5h4M1259.5 549.5h-4M695.5 535.5h4M1259.5 535.5h-4M695.5 521.5h4M1259.5 521.5h-4M695.5 507.5h4M1259.5 507.5h-4" fill="none" stroke="#000" stroke-width="1" shape-rendering="crispEdges"/>
<text x="47.4" y="638.9" text-anchor="end" textLength="7.0" lengthAdjust="spacingAndGlyphs" xml:space="preserve">0</text>
<text x="47.4" y="618.9" text-anchor="end" textLength="7.0" lengthAdjust="spacingAndGlyphs" xml:space="preserve">1</text>
<text x="47.4" y="598.9" text-anchor="end" textLength="7.0" lengthAdjust="spacingAndGlyphs" xml:space="preserve">2</text>
<text x="47.4" y="578.9" text-anchor="end" textLength="7.0" lengthAdjust="spacingAndGlyphs" xml:space="preserve">3</text>
<text x="47.4" y="557.9" text-anchor="end" textLength="7.0" lengthAdjust="spacingAndGlyphs" xml:space="preserve">4</text>
<text x="47.4" y="537.9" text-anchor="end" textLength="7.0" lengthAdjust="spacingAndGlyphs" xml:space="preserve">5</text>
<text x="47.4" y="517.9" text-anchor="end" textLength="7.0" lengthAdjust="spacingAndGlyphs" xml:space="preserve">6</text>
<text x="47.4" y="497.9" text-anchor="end" textLength="7.0" lengthAdjust="spacingAndGlyphs" xml:space="preserve">7</text>
<text x="47.4" y="794.9" text-anchor="end" textLength="7.0" lengthAdjust="spacingAndGlyphs" xml:space="preserve">0</text>
<text x="47.4" y="759.9" text-anchor="end" textLength="14.0" lengthAdjust="spacingAndGlyphs" xml:space="preserve">90</text>
<text x="47.4" y="724.9" text-anchor="end" textLength="21.0" lengthAdjust="spacingAndGlyphs" xml:space="preserve">180</text>
<text x="47.4" y="688.9" text-anchor="end" textLength="21.0" lengthAdjust="spacingAndGlyphs" xml:space="preserve">270</text>
<text x="47.4" y="653.9" text-anchor="end" textLength="21.0" lengthAdjust="spacingAndGlyphs" xml:space="preserve">360</text>
<text x="47.4" y="924.9" text-anchor="end" textLength="21.0" lengthAdjust="spacingAndGlyphs" xml:space="preserve">998</text>
<text x="47.4" y="912.9" text-anchor="end" textLength="28.0" lengthAdjust="spacingAndGlyphs" xml:space="preserve">1000</text>
<text x="47.4" y="901.9" text-anchor="end" textLength="28.0" lengthAdjust="spacingAndGlyphs" xml:space="preserve">1002</text>
<text x="47.4" y="890.9" text-anchor="end" textLength="28.0" lengthAdjust="spacingAndGlyphs" xml:space="preserve">1004</text>
<text x="47.4" y="878.9" text-anchor="end" textLength="28.0" lengthAdjust="spacingAndGlyphs" xml:space="preserve">1006</text>
<text x="47.4" y="866.9" text-anchor="end" textLength="28.0" lengthAdjust="spacingAndGlyphs" xml:space="preserve">1008</text>
<text x="47.4" y="855.9" text-anchor="end" textLength="28.0" lengthAdjust="spacingAndGlyphs" xml:space="preserve">1010</text>
<text x="47.4" y="844.9" text-anchor="end" textLength="28.0" lengthAdjust="spacingAndGlyphs" xml:space="preserve">1012</text>
<text x="47.4" y="832.9" text-anchor="end" textLength="28.0" lengthAdjust="spacingAndGlyphs" xml:space="preserve">1014</text>
<text x="47.4" y="820.9" text-anchor="end" textLength="28.0" lengthAdjust="spacingAndGlyphs" xml:space="preserve">1016</text>
<text x="47.4" y="809.9" text-anchor="end" textLength="28.0" lengthAdjust="spacingAndGlyphs" xml:space="preserve">1018</text>
<text x="55.0" y="937.9" text-anchor="middle" textLength="35.0" lengthAdjust="spacingAndGlyphs" xml:space="preserve">01/14</text>
<text x="55.0" y="950.9" text-anchor="middle" textLength="35.0" lengthAdjust="spacingAndGlyphs" xml:space="preserve">20:00</text>
<text x="135.6" y="937.9" text-anchor="middle" textLength="35.0" lengthAdjust="spacingAndGlyphs" xml:space="preserve">01/15</text>
<text x="135.6" y="950.9" text-anchor="middle" textLength="35.0" lengthAdjust="spacingAndGlyphs" xml:space="preserve">00:00</text>
<text x="216.1" y="937.9" text-anchor="middle" textLength="35.0" lengthAdjust="spacingAndGlyphs" xml:space="preserve">01/15</text>
<text x="216.1" y="950.9" text-anchor="middle" textLength="35.0" lengthAdjust="spacingAndGlyphs" xml:space="preserve">04:00</text>
<text x="296.7" y="937.9" text-anchor="middle" textLength="35.0" lengthAdjust="spacingAndGlyphs" xml:space="preserve">01/15</text>
<text x="296.7" y="950.9" text-anchor="middle" textLength="35.0" lengthAdjust="spacingAndGlyphs" xml:space="preserve">08:00</text>
<text x="377.3" y="937.9" text-anchor="middle" textLength="35.0" lengthAdjust="spacingAndGlyphs" xml:space="preserve">01/15</text>
<text x="377.3" y="950.9" text-anchor="middle" textLength="35.0" lengthAdjust="spacingAndGlyphs" xml:space="preserve">12:00</text>
<text x="457.9" y="937.9" text-anchor="middle" textLength="35.0" lengthAdjust="spacingAndGlyphs" xml:space="preserve">01/15</text>
<text x="457.9" y="950.9" text-anchor="middle" textLength="35.0" lengthAdjust="spacingAndGlyphs" xml:space="preserve">16:00</text>
<text x="538.4" y="937.9" text-anchor="middle" textLength="35.0" lengthAdjust="spacingAndGlyphs" xml:space="preserve">01/15</text>
<text x="538.4" y="950.9" text-anchor="middle" textLength="35.0" lengthAdjust="spacingAndGlyphs" xml:space="preserve">20:00</text>
<text x="619.0" y="937.9" text-anchor="middle" textLength="35.0" lengthAdjust="spacingAndGlyphs" xml:space="preserve">01/16</text>
<text x="619.0" y="950.9" text-anchor="middle" textLength="35.0" lengthAdjust="spacingAndGlyphs" xml:space="preserve">00:00</text>
</svg></body></html>
